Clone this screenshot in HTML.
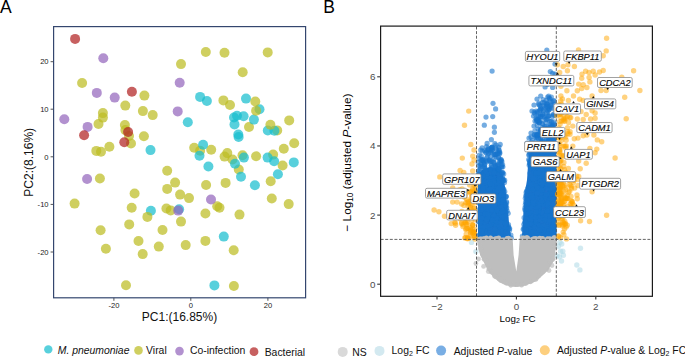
<!DOCTYPE html>
<html><head><meta charset="utf-8"><style>
html,body{margin:0;padding:0;background:#fff;}
svg{display:block;}
text{font-family:"Liberation Sans",sans-serif;}
.tk7{font-size:7.6px;fill:#222;}
.tk9{font-size:9.8px;fill:#4d4d4d;}
.lbl{font-size:9.3px;font-style:italic;fill:#000;stroke:#000;stroke-width:0.12px;}
.lg{font-size:10.4px;fill:#111;}
.pl{font-size:17.5px;fill:#000;}
.at{font-size:12px;fill:#111;}
.at2{font-size:11.8px;fill:#000;}
.at3{font-size:9.8px;fill:#000;}
</style></head><body>
<svg width="685" height="357" viewBox="0 0 685 357">
<rect width="685" height="357" fill="#fff"/>

<text x="0" y="12.6" class="pl">A</text>
<text x="323.2" y="12.8" class="pl">B</text>
<text x="179.5" y="320.6" text-anchor="middle" class="at">PC1:(16.85%)</text>
<text transform="translate(33.1,162.3) rotate(-90)" text-anchor="middle" class="at">PC2:(8.16%)</text>
<text x="517.6" y="321.5" text-anchor="middle" class="at3">Log<tspan font-size="7" dy="1.8">2</tspan><tspan dy="-1.8"> FC</tspan></text>
<text transform="translate(350.8,162.6) rotate(-90)" text-anchor="middle" class="at2">− Log<tspan font-size="8.2" dy="2">10</tspan><tspan dy="-2"> (adjusted </tspan><tspan font-style="italic">P</tspan>-value)</text>

<line x1="50.6" y1="61.7" x2="53.6" y2="61.7" stroke="#555" stroke-width="1"/><text x="48.6" y="64.4" text-anchor="end" class="tk7">20</text><line x1="50.6" y1="109.2" x2="53.6" y2="109.2" stroke="#555" stroke-width="1"/><text x="48.6" y="111.9" text-anchor="end" class="tk7">10</text><line x1="50.6" y1="156.8" x2="53.6" y2="156.8" stroke="#555" stroke-width="1"/><text x="48.6" y="159.5" text-anchor="end" class="tk7">0</text><line x1="50.6" y1="204.4" x2="53.6" y2="204.4" stroke="#555" stroke-width="1"/><text x="48.6" y="207.1" text-anchor="end" class="tk7">-10</text><line x1="50.6" y1="252.0" x2="53.6" y2="252.0" stroke="#555" stroke-width="1"/><text x="48.6" y="254.7" text-anchor="end" class="tk7">-20</text><line x1="113.9" y1="297.8" x2="113.9" y2="300.8" stroke="#555" stroke-width="1"/><text x="113.9" y="308.4" text-anchor="middle" class="tk7">-20</text><line x1="190.8" y1="297.8" x2="190.8" y2="300.8" stroke="#555" stroke-width="1"/><text x="190.8" y="308.4" text-anchor="middle" class="tk7">0</text><line x1="267.9" y1="297.8" x2="267.9" y2="300.8" stroke="#555" stroke-width="1"/><text x="267.9" y="308.4" text-anchor="middle" class="tk7">20</text>
<circle cx="82.1" cy="83.0" r="5.0" fill="#BCBD22" fill-opacity="0.72"/><circle cx="144.4" cy="95.6" r="5.0" fill="#BCBD22" fill-opacity="0.72"/><circle cx="181.0" cy="64.1" r="5.0" fill="#BCBD22" fill-opacity="0.72"/><circle cx="205.8" cy="52.0" r="5.0" fill="#BCBD22" fill-opacity="0.72"/><circle cx="224.5" cy="52.8" r="5.0" fill="#BCBD22" fill-opacity="0.72"/><circle cx="267.7" cy="52.4" r="5.0" fill="#BCBD22" fill-opacity="0.72"/><circle cx="242.7" cy="72.3" r="5.0" fill="#BCBD22" fill-opacity="0.72"/><circle cx="125.3" cy="105.6" r="5.0" fill="#BCBD22" fill-opacity="0.72"/><circle cx="142.9" cy="111.1" r="5.0" fill="#BCBD22" fill-opacity="0.72"/><circle cx="152.7" cy="115.1" r="5.0" fill="#BCBD22" fill-opacity="0.72"/><circle cx="102.9" cy="113.1" r="5.0" fill="#BCBD22" fill-opacity="0.72"/><circle cx="102.9" cy="117.6" r="5.0" fill="#BCBD22" fill-opacity="0.72"/><circle cx="98.5" cy="124.0" r="5.0" fill="#BCBD22" fill-opacity="0.72"/><circle cx="124.9" cy="125.0" r="5.0" fill="#BCBD22" fill-opacity="0.72"/><circle cx="125.4" cy="130.1" r="5.0" fill="#BCBD22" fill-opacity="0.72"/><circle cx="129.0" cy="136.0" r="5.0" fill="#BCBD22" fill-opacity="0.72"/><circle cx="143.9" cy="136.3" r="5.0" fill="#BCBD22" fill-opacity="0.72"/><circle cx="131.0" cy="143.5" r="5.0" fill="#BCBD22" fill-opacity="0.72"/><circle cx="109.4" cy="146.8" r="5.0" fill="#BCBD22" fill-opacity="0.72"/><circle cx="96.3" cy="150.9" r="5.0" fill="#BCBD22" fill-opacity="0.72"/><circle cx="101.0" cy="151.8" r="5.0" fill="#BCBD22" fill-opacity="0.72"/><circle cx="167.2" cy="170.8" r="5.0" fill="#BCBD22" fill-opacity="0.72"/><circle cx="175.1" cy="182.6" r="5.0" fill="#BCBD22" fill-opacity="0.72"/><circle cx="167.2" cy="188.9" r="5.0" fill="#BCBD22" fill-opacity="0.72"/><circle cx="180.1" cy="194.6" r="5.0" fill="#BCBD22" fill-opacity="0.72"/><circle cx="189.0" cy="198.1" r="5.0" fill="#BCBD22" fill-opacity="0.72"/><circle cx="99.9" cy="178.5" r="5.0" fill="#BCBD22" fill-opacity="0.72"/><circle cx="134.6" cy="193.5" r="5.0" fill="#BCBD22" fill-opacity="0.72"/><circle cx="74.6" cy="203.6" r="5.0" fill="#BCBD22" fill-opacity="0.72"/><circle cx="131.7" cy="207.8" r="5.0" fill="#BCBD22" fill-opacity="0.72"/><circle cx="166.4" cy="208.5" r="5.0" fill="#BCBD22" fill-opacity="0.72"/><circle cx="170.7" cy="210.4" r="5.0" fill="#BCBD22" fill-opacity="0.72"/><circle cx="181.0" cy="221.6" r="5.0" fill="#BCBD22" fill-opacity="0.72"/><circle cx="129.2" cy="224.4" r="5.0" fill="#BCBD22" fill-opacity="0.72"/><circle cx="100.6" cy="230.2" r="5.0" fill="#BCBD22" fill-opacity="0.72"/><circle cx="162.5" cy="230.0" r="5.0" fill="#BCBD22" fill-opacity="0.72"/><circle cx="138.5" cy="241.0" r="5.0" fill="#BCBD22" fill-opacity="0.72"/><circle cx="158.8" cy="246.6" r="5.0" fill="#BCBD22" fill-opacity="0.72"/><circle cx="105.9" cy="248.8" r="5.0" fill="#BCBD22" fill-opacity="0.72"/><circle cx="142.7" cy="254.1" r="5.0" fill="#BCBD22" fill-opacity="0.72"/><circle cx="126.0" cy="285.2" r="5.0" fill="#BCBD22" fill-opacity="0.72"/><circle cx="223.4" cy="100.4" r="5.0" fill="#BCBD22" fill-opacity="0.72"/><circle cx="230.0" cy="105.0" r="5.0" fill="#BCBD22" fill-opacity="0.72"/><circle cx="249.0" cy="127.0" r="5.0" fill="#BCBD22" fill-opacity="0.72"/><circle cx="277.2" cy="130.4" r="5.0" fill="#BCBD22" fill-opacity="0.72"/><circle cx="289.2" cy="120.4" r="5.0" fill="#BCBD22" fill-opacity="0.72"/><circle cx="294.2" cy="143.2" r="5.0" fill="#BCBD22" fill-opacity="0.72"/><circle cx="283.8" cy="148.7" r="5.0" fill="#BCBD22" fill-opacity="0.72"/><circle cx="194.2" cy="147.7" r="5.0" fill="#BCBD22" fill-opacity="0.72"/><circle cx="211.2" cy="149.7" r="5.0" fill="#BCBD22" fill-opacity="0.72"/><circle cx="200.1" cy="150.7" r="5.0" fill="#BCBD22" fill-opacity="0.72"/><circle cx="227.3" cy="153.1" r="5.0" fill="#BCBD22" fill-opacity="0.72"/><circle cx="224.6" cy="156.6" r="5.0" fill="#BCBD22" fill-opacity="0.72"/><circle cx="232.5" cy="159.5" r="5.0" fill="#BCBD22" fill-opacity="0.72"/><circle cx="238.8" cy="169.5" r="5.0" fill="#BCBD22" fill-opacity="0.72"/><circle cx="242.5" cy="155.2" r="5.0" fill="#BCBD22" fill-opacity="0.72"/><circle cx="256.1" cy="156.2" r="5.0" fill="#BCBD22" fill-opacity="0.72"/><circle cx="273.1" cy="154.6" r="5.0" fill="#BCBD22" fill-opacity="0.72"/><circle cx="282.6" cy="165.5" r="5.0" fill="#BCBD22" fill-opacity="0.72"/><circle cx="270.7" cy="181.2" r="5.0" fill="#BCBD22" fill-opacity="0.72"/><circle cx="206.1" cy="185.0" r="5.0" fill="#BCBD22" fill-opacity="0.72"/><circle cx="225.6" cy="182.9" r="5.0" fill="#BCBD22" fill-opacity="0.72"/><circle cx="217.2" cy="206.2" r="5.0" fill="#BCBD22" fill-opacity="0.72"/><circle cx="219.5" cy="207.8" r="5.0" fill="#BCBD22" fill-opacity="0.72"/><circle cx="205.4" cy="213.5" r="5.0" fill="#BCBD22" fill-opacity="0.72"/><circle cx="239.5" cy="214.6" r="5.0" fill="#BCBD22" fill-opacity="0.72"/><circle cx="271.8" cy="198.5" r="5.0" fill="#BCBD22" fill-opacity="0.72"/><circle cx="288.7" cy="204.1" r="5.0" fill="#BCBD22" fill-opacity="0.72"/><circle cx="185.7" cy="245.1" r="5.0" fill="#BCBD22" fill-opacity="0.72"/><circle cx="205.4" cy="240.9" r="5.0" fill="#BCBD22" fill-opacity="0.72"/><circle cx="233.7" cy="250.3" r="5.0" fill="#BCBD22" fill-opacity="0.72"/><circle cx="233.9" cy="286.0" r="5.0" fill="#BCBD22" fill-opacity="0.72"/><circle cx="200.1" cy="96.9" r="5.0" fill="#17BECF" fill-opacity="0.72"/><circle cx="206.9" cy="101.0" r="5.0" fill="#17BECF" fill-opacity="0.72"/><circle cx="246.0" cy="98.6" r="5.0" fill="#17BECF" fill-opacity="0.72"/><circle cx="259.5" cy="109.2" r="5.0" fill="#17BECF" fill-opacity="0.72"/><circle cx="187.8" cy="122.3" r="5.0" fill="#17BECF" fill-opacity="0.72"/><circle cx="234.0" cy="117.5" r="5.0" fill="#17BECF" fill-opacity="0.72"/><circle cx="237.0" cy="115.7" r="5.0" fill="#17BECF" fill-opacity="0.72"/><circle cx="243.6" cy="116.3" r="5.0" fill="#17BECF" fill-opacity="0.72"/><circle cx="253.9" cy="119.6" r="5.0" fill="#17BECF" fill-opacity="0.72"/><circle cx="234.5" cy="124.4" r="5.0" fill="#17BECF" fill-opacity="0.72"/><circle cx="238.3" cy="134.5" r="5.0" fill="#17BECF" fill-opacity="0.72"/><circle cx="238.6" cy="137.0" r="5.0" fill="#17BECF" fill-opacity="0.72"/><circle cx="267.8" cy="130.5" r="5.0" fill="#17BECF" fill-opacity="0.72"/><circle cx="274.4" cy="130.8" r="5.0" fill="#17BECF" fill-opacity="0.72"/><circle cx="150.5" cy="150.1" r="5.0" fill="#17BECF" fill-opacity="0.72"/><circle cx="203.1" cy="144.8" r="5.0" fill="#17BECF" fill-opacity="0.72"/><circle cx="199.5" cy="155.8" r="5.0" fill="#17BECF" fill-opacity="0.72"/><circle cx="243.9" cy="157.6" r="5.0" fill="#17BECF" fill-opacity="0.72"/><circle cx="267.6" cy="157.6" r="5.0" fill="#17BECF" fill-opacity="0.72"/><circle cx="274.1" cy="161.2" r="5.0" fill="#17BECF" fill-opacity="0.72"/><circle cx="293.8" cy="162.4" r="5.0" fill="#17BECF" fill-opacity="0.72"/><circle cx="235.0" cy="163.7" r="5.0" fill="#17BECF" fill-opacity="0.72"/><circle cx="241.0" cy="176.7" r="5.0" fill="#17BECF" fill-opacity="0.72"/><circle cx="277.9" cy="174.3" r="5.0" fill="#17BECF" fill-opacity="0.72"/><circle cx="208.4" cy="166.5" r="5.0" fill="#17BECF" fill-opacity="0.72"/><circle cx="254.9" cy="185.2" r="5.0" fill="#17BECF" fill-opacity="0.72"/><circle cx="150.9" cy="210.7" r="5.0" fill="#17BECF" fill-opacity="0.72"/><circle cx="179.1" cy="209.2" r="5.0" fill="#17BECF" fill-opacity="0.72"/><circle cx="223.8" cy="236.6" r="5.0" fill="#17BECF" fill-opacity="0.72"/><circle cx="214.4" cy="285.4" r="5.0" fill="#17BECF" fill-opacity="0.72"/><circle cx="256.1" cy="110.7" r="5.0" fill="#BCBD22" fill-opacity="0.72"/><circle cx="255.3" cy="101.5" r="5.0" fill="#BCBD22" fill-opacity="0.72"/><circle cx="270.4" cy="124.8" r="5.0" fill="#BCBD22" fill-opacity="0.72"/><circle cx="147.4" cy="216.9" r="5.0" fill="#BCBD22" fill-opacity="0.72"/><circle cx="103.3" cy="58.3" r="5.0" fill="#9467BD" fill-opacity="0.72"/><circle cx="96.8" cy="92.9" r="5.0" fill="#9467BD" fill-opacity="0.72"/><circle cx="114.7" cy="97.6" r="5.0" fill="#9467BD" fill-opacity="0.72"/><circle cx="179.7" cy="82.8" r="5.0" fill="#9467BD" fill-opacity="0.72"/><circle cx="177.7" cy="111.4" r="5.0" fill="#9467BD" fill-opacity="0.72"/><circle cx="64.3" cy="119.2" r="5.0" fill="#9467BD" fill-opacity="0.72"/><circle cx="87.6" cy="126.9" r="5.0" fill="#9467BD" fill-opacity="0.72"/><circle cx="87.1" cy="179.0" r="5.0" fill="#9467BD" fill-opacity="0.72"/><circle cx="211.0" cy="199.5" r="5.0" fill="#9467BD" fill-opacity="0.72"/><circle cx="178.2" cy="210.6" r="5.0" fill="#9467BD" fill-opacity="0.72"/><circle cx="75.1" cy="38.9" r="5.0" fill="#B22222" fill-opacity="0.72"/><circle cx="131.9" cy="91.8" r="5.0" fill="#B22222" fill-opacity="0.72"/><circle cx="84.1" cy="135.3" r="5.0" fill="#B22222" fill-opacity="0.72"/><circle cx="128.1" cy="132.0" r="5.0" fill="#B22222" fill-opacity="0.72"/><circle cx="124.3" cy="142.3" r="5.0" fill="#B22222" fill-opacity="0.72"/>

<rect x="53.6" y="26.6" width="252" height="271.2" fill="none" stroke="#34466e" stroke-width="1.2"/>

<circle cx="471.5" cy="242.4" r="2.7" fill="#ADD8E6" fill-opacity="0.55"/><circle cx="475.9" cy="251.6" r="2.7" fill="#ADD8E6" fill-opacity="0.55"/><circle cx="560.0" cy="242.3" r="2.7" fill="#ADD8E6" fill-opacity="0.55"/><circle cx="561.7" cy="244.0" r="2.7" fill="#ADD8E6" fill-opacity="0.55"/><circle cx="558.4" cy="246.2" r="2.7" fill="#ADD8E6" fill-opacity="0.55"/><circle cx="560.6" cy="251.2" r="2.7" fill="#ADD8E6" fill-opacity="0.55"/><circle cx="562.8" cy="251.2" r="2.7" fill="#ADD8E6" fill-opacity="0.55"/><circle cx="563.4" cy="255.2" r="2.7" fill="#ADD8E6" fill-opacity="0.55"/><circle cx="559.5" cy="256.8" r="2.7" fill="#ADD8E6" fill-opacity="0.55"/><circle cx="561.5" cy="261.0" r="2.7" fill="#ADD8E6" fill-opacity="0.55"/><circle cx="580.5" cy="248.2" r="2.7" fill="#ADD8E6" fill-opacity="0.55"/><circle cx="576.8" cy="265.0" r="2.7" fill="#ADD8E6" fill-opacity="0.55"/><circle cx="579.9" cy="269.9" r="2.7" fill="#ADD8E6" fill-opacity="0.55"/><circle cx="556.8" cy="255.8" r="2.7" fill="#ADD8E6" fill-opacity="0.55"/><path d="M478,239.4 L478,176 L482,170 L490,167 L498,168 L502,172 L504,180 L505.5,190 L507,205 L509,222 L511,239.4 Z" fill="#1c73cc"/><path d="M521.8,239.4 L523,220 L524,205 L524.5,195 L527,180 L528,165 L529,155 L533,150 L538,146 L545,141 L550,135 L556.3,130 L556.3,239.4 Z" fill="#1c73cc"/><circle cx="493.3" cy="196.2" r="2.6" fill="#1874CD" fill-opacity="0.55"/><circle cx="493.7" cy="191.3" r="2.6" fill="#1874CD" fill-opacity="0.55"/><circle cx="484.3" cy="191.6" r="2.6" fill="#1874CD" fill-opacity="0.55"/><circle cx="510.9" cy="235.1" r="2.6" fill="#1874CD" fill-opacity="0.55"/><circle cx="498.7" cy="157.6" r="2.6" fill="#1874CD" fill-opacity="0.55"/><circle cx="495.8" cy="148.2" r="2.6" fill="#1874CD" fill-opacity="0.55"/><circle cx="493.6" cy="184.8" r="2.6" fill="#1874CD" fill-opacity="0.55"/><circle cx="495.5" cy="204.0" r="2.6" fill="#1874CD" fill-opacity="0.55"/><circle cx="500.3" cy="186.4" r="2.6" fill="#1874CD" fill-opacity="0.55"/><circle cx="511.4" cy="238.1" r="2.6" fill="#1874CD" fill-opacity="0.55"/><circle cx="501.8" cy="172.8" r="2.6" fill="#1874CD" fill-opacity="0.55"/><circle cx="491.5" cy="223.8" r="2.6" fill="#1874CD" fill-opacity="0.55"/><circle cx="478.2" cy="162.6" r="2.6" fill="#1874CD" fill-opacity="0.55"/><circle cx="493.9" cy="236.6" r="2.6" fill="#1874CD" fill-opacity="0.55"/><circle cx="480.6" cy="202.9" r="2.6" fill="#1874CD" fill-opacity="0.55"/><circle cx="487.2" cy="150.9" r="2.6" fill="#1874CD" fill-opacity="0.55"/><circle cx="482.1" cy="166.2" r="2.6" fill="#1874CD" fill-opacity="0.55"/><circle cx="480.2" cy="219.0" r="2.6" fill="#1874CD" fill-opacity="0.55"/><circle cx="496.8" cy="185.5" r="2.6" fill="#1874CD" fill-opacity="0.55"/><circle cx="499.6" cy="153.7" r="2.6" fill="#1874CD" fill-opacity="0.55"/><circle cx="485.3" cy="168.4" r="2.6" fill="#1874CD" fill-opacity="0.55"/><circle cx="491.3" cy="224.5" r="2.6" fill="#1874CD" fill-opacity="0.55"/><circle cx="481.5" cy="237.5" r="2.6" fill="#1874CD" fill-opacity="0.55"/><circle cx="486.8" cy="216.7" r="2.6" fill="#1874CD" fill-opacity="0.55"/><circle cx="488.1" cy="149.5" r="2.6" fill="#1874CD" fill-opacity="0.55"/><circle cx="497.6" cy="165.8" r="2.6" fill="#1874CD" fill-opacity="0.55"/><circle cx="490.6" cy="186.0" r="2.6" fill="#1874CD" fill-opacity="0.55"/><circle cx="494.3" cy="197.7" r="2.6" fill="#1874CD" fill-opacity="0.55"/><circle cx="484.5" cy="213.5" r="2.6" fill="#1874CD" fill-opacity="0.55"/><circle cx="484.7" cy="233.7" r="2.6" fill="#1874CD" fill-opacity="0.55"/><circle cx="498.3" cy="183.0" r="2.6" fill="#1874CD" fill-opacity="0.55"/><circle cx="479.5" cy="234.9" r="2.6" fill="#1874CD" fill-opacity="0.55"/><circle cx="501.7" cy="167.2" r="2.6" fill="#1874CD" fill-opacity="0.55"/><circle cx="498.1" cy="170.7" r="2.6" fill="#1874CD" fill-opacity="0.55"/><circle cx="485.8" cy="196.2" r="2.6" fill="#1874CD" fill-opacity="0.55"/><circle cx="498.7" cy="169.4" r="2.6" fill="#1874CD" fill-opacity="0.55"/><circle cx="487.2" cy="185.3" r="2.6" fill="#1874CD" fill-opacity="0.55"/><circle cx="484.1" cy="177.9" r="2.6" fill="#1874CD" fill-opacity="0.55"/><circle cx="482.6" cy="177.3" r="2.6" fill="#1874CD" fill-opacity="0.55"/><circle cx="501.2" cy="198.6" r="2.6" fill="#1874CD" fill-opacity="0.55"/><circle cx="499.4" cy="188.8" r="2.6" fill="#1874CD" fill-opacity="0.55"/><circle cx="480.7" cy="194.9" r="2.6" fill="#1874CD" fill-opacity="0.55"/><circle cx="508.2" cy="213.3" r="2.6" fill="#1874CD" fill-opacity="0.55"/><circle cx="504.6" cy="230.3" r="2.6" fill="#1874CD" fill-opacity="0.55"/><circle cx="501.0" cy="229.0" r="2.6" fill="#1874CD" fill-opacity="0.55"/><circle cx="492.1" cy="218.4" r="2.6" fill="#1874CD" fill-opacity="0.55"/><circle cx="497.3" cy="202.5" r="2.6" fill="#1874CD" fill-opacity="0.55"/><circle cx="497.6" cy="201.0" r="2.6" fill="#1874CD" fill-opacity="0.55"/><circle cx="499.5" cy="237.9" r="2.6" fill="#1874CD" fill-opacity="0.55"/><circle cx="502.4" cy="179.8" r="2.6" fill="#1874CD" fill-opacity="0.55"/><circle cx="497.5" cy="184.8" r="2.6" fill="#1874CD" fill-opacity="0.55"/><circle cx="481.0" cy="214.5" r="2.6" fill="#1874CD" fill-opacity="0.55"/><circle cx="498.2" cy="188.7" r="2.6" fill="#1874CD" fill-opacity="0.55"/><circle cx="501.5" cy="190.2" r="2.6" fill="#1874CD" fill-opacity="0.55"/><circle cx="478.6" cy="171.4" r="2.6" fill="#1874CD" fill-opacity="0.55"/><circle cx="500.2" cy="184.9" r="2.6" fill="#1874CD" fill-opacity="0.55"/><circle cx="489.1" cy="206.4" r="2.6" fill="#1874CD" fill-opacity="0.55"/><circle cx="492.5" cy="219.9" r="2.6" fill="#1874CD" fill-opacity="0.55"/><circle cx="497.6" cy="172.9" r="2.6" fill="#1874CD" fill-opacity="0.55"/><circle cx="494.7" cy="222.9" r="2.6" fill="#1874CD" fill-opacity="0.55"/><circle cx="501.9" cy="233.7" r="2.6" fill="#1874CD" fill-opacity="0.55"/><circle cx="483.8" cy="185.8" r="2.6" fill="#1874CD" fill-opacity="0.55"/><circle cx="485.3" cy="182.2" r="2.6" fill="#1874CD" fill-opacity="0.55"/><circle cx="494.6" cy="172.8" r="2.6" fill="#1874CD" fill-opacity="0.55"/><circle cx="501.8" cy="197.3" r="2.6" fill="#1874CD" fill-opacity="0.55"/><circle cx="482.7" cy="186.2" r="2.6" fill="#1874CD" fill-opacity="0.55"/><circle cx="499.2" cy="185.4" r="2.6" fill="#1874CD" fill-opacity="0.55"/><circle cx="500.0" cy="220.0" r="2.6" fill="#1874CD" fill-opacity="0.55"/><circle cx="501.0" cy="161.6" r="2.6" fill="#1874CD" fill-opacity="0.55"/><circle cx="493.9" cy="211.1" r="2.6" fill="#1874CD" fill-opacity="0.55"/><circle cx="487.3" cy="175.7" r="2.6" fill="#1874CD" fill-opacity="0.55"/><circle cx="495.5" cy="201.5" r="2.6" fill="#1874CD" fill-opacity="0.55"/><circle cx="491.3" cy="218.5" r="2.6" fill="#1874CD" fill-opacity="0.55"/><circle cx="481.1" cy="232.0" r="2.6" fill="#1874CD" fill-opacity="0.55"/><circle cx="482.5" cy="186.0" r="2.6" fill="#1874CD" fill-opacity="0.55"/><circle cx="497.1" cy="226.9" r="2.6" fill="#1874CD" fill-opacity="0.55"/><circle cx="499.9" cy="162.2" r="2.6" fill="#1874CD" fill-opacity="0.55"/><circle cx="505.5" cy="204.1" r="2.6" fill="#1874CD" fill-opacity="0.55"/><circle cx="485.3" cy="228.9" r="2.6" fill="#1874CD" fill-opacity="0.55"/><circle cx="508.5" cy="224.7" r="2.6" fill="#1874CD" fill-opacity="0.55"/><circle cx="481.0" cy="184.8" r="2.6" fill="#1874CD" fill-opacity="0.55"/><circle cx="503.8" cy="189.3" r="2.6" fill="#1874CD" fill-opacity="0.55"/><circle cx="489.4" cy="218.1" r="2.6" fill="#1874CD" fill-opacity="0.55"/><circle cx="483.2" cy="192.1" r="2.6" fill="#1874CD" fill-opacity="0.55"/><circle cx="506.2" cy="208.7" r="2.6" fill="#1874CD" fill-opacity="0.55"/><circle cx="494.6" cy="233.6" r="2.6" fill="#1874CD" fill-opacity="0.55"/><circle cx="485.6" cy="193.1" r="2.6" fill="#1874CD" fill-opacity="0.55"/><circle cx="502.5" cy="203.8" r="2.6" fill="#1874CD" fill-opacity="0.55"/><circle cx="506.3" cy="196.3" r="2.6" fill="#1874CD" fill-opacity="0.55"/><circle cx="490.9" cy="223.6" r="2.6" fill="#1874CD" fill-opacity="0.55"/><circle cx="485.1" cy="224.2" r="2.6" fill="#1874CD" fill-opacity="0.55"/><circle cx="495.7" cy="197.5" r="2.6" fill="#1874CD" fill-opacity="0.55"/><circle cx="496.0" cy="190.8" r="2.6" fill="#1874CD" fill-opacity="0.55"/><circle cx="479.1" cy="235.6" r="2.6" fill="#1874CD" fill-opacity="0.55"/><circle cx="491.5" cy="219.4" r="2.6" fill="#1874CD" fill-opacity="0.55"/><circle cx="494.6" cy="208.8" r="2.6" fill="#1874CD" fill-opacity="0.55"/><circle cx="496.1" cy="182.2" r="2.6" fill="#1874CD" fill-opacity="0.55"/><circle cx="494.0" cy="154.7" r="2.6" fill="#1874CD" fill-opacity="0.55"/><circle cx="505.4" cy="229.0" r="2.6" fill="#1874CD" fill-opacity="0.55"/><circle cx="488.8" cy="160.9" r="2.6" fill="#1874CD" fill-opacity="0.55"/><circle cx="484.7" cy="164.3" r="2.6" fill="#1874CD" fill-opacity="0.55"/><circle cx="488.9" cy="176.6" r="2.6" fill="#1874CD" fill-opacity="0.55"/><circle cx="481.7" cy="212.7" r="2.6" fill="#1874CD" fill-opacity="0.55"/><circle cx="495.2" cy="166.6" r="2.6" fill="#1874CD" fill-opacity="0.55"/><circle cx="495.9" cy="184.4" r="2.6" fill="#1874CD" fill-opacity="0.55"/><circle cx="492.0" cy="193.3" r="2.6" fill="#1874CD" fill-opacity="0.55"/><circle cx="485.0" cy="203.1" r="2.6" fill="#1874CD" fill-opacity="0.55"/><circle cx="495.8" cy="224.2" r="2.6" fill="#1874CD" fill-opacity="0.55"/><circle cx="502.9" cy="220.3" r="2.6" fill="#1874CD" fill-opacity="0.55"/><circle cx="488.7" cy="172.7" r="2.6" fill="#1874CD" fill-opacity="0.55"/><circle cx="486.2" cy="212.3" r="2.6" fill="#1874CD" fill-opacity="0.55"/><circle cx="481.4" cy="222.4" r="2.6" fill="#1874CD" fill-opacity="0.55"/><circle cx="491.6" cy="208.3" r="2.6" fill="#1874CD" fill-opacity="0.55"/><circle cx="484.9" cy="208.0" r="2.6" fill="#1874CD" fill-opacity="0.55"/><circle cx="495.0" cy="215.3" r="2.6" fill="#1874CD" fill-opacity="0.55"/><circle cx="501.0" cy="160.6" r="2.6" fill="#1874CD" fill-opacity="0.55"/><circle cx="496.6" cy="191.9" r="2.6" fill="#1874CD" fill-opacity="0.55"/><circle cx="483.1" cy="160.2" r="2.6" fill="#1874CD" fill-opacity="0.55"/><circle cx="506.2" cy="237.6" r="2.6" fill="#1874CD" fill-opacity="0.55"/><circle cx="503.7" cy="173.9" r="2.6" fill="#1874CD" fill-opacity="0.55"/><circle cx="495.4" cy="183.8" r="2.6" fill="#1874CD" fill-opacity="0.55"/><circle cx="478.6" cy="209.8" r="2.6" fill="#1874CD" fill-opacity="0.55"/><circle cx="484.2" cy="186.1" r="2.6" fill="#1874CD" fill-opacity="0.55"/><circle cx="491.7" cy="161.2" r="2.6" fill="#1874CD" fill-opacity="0.55"/><circle cx="504.9" cy="210.1" r="2.6" fill="#1874CD" fill-opacity="0.55"/><circle cx="499.2" cy="181.3" r="2.6" fill="#1874CD" fill-opacity="0.55"/><circle cx="495.0" cy="236.8" r="2.6" fill="#1874CD" fill-opacity="0.55"/><circle cx="486.8" cy="230.0" r="2.6" fill="#1874CD" fill-opacity="0.55"/><circle cx="504.1" cy="220.7" r="2.6" fill="#1874CD" fill-opacity="0.55"/><circle cx="508.1" cy="227.0" r="2.6" fill="#1874CD" fill-opacity="0.55"/><circle cx="503.8" cy="216.0" r="2.6" fill="#1874CD" fill-opacity="0.55"/><circle cx="489.6" cy="187.5" r="2.6" fill="#1874CD" fill-opacity="0.55"/><circle cx="490.0" cy="203.8" r="2.6" fill="#1874CD" fill-opacity="0.55"/><circle cx="485.9" cy="233.2" r="2.6" fill="#1874CD" fill-opacity="0.55"/><circle cx="489.4" cy="205.8" r="2.6" fill="#1874CD" fill-opacity="0.55"/><circle cx="496.0" cy="179.9" r="2.6" fill="#1874CD" fill-opacity="0.55"/><circle cx="499.6" cy="209.8" r="2.6" fill="#1874CD" fill-opacity="0.55"/><circle cx="498.7" cy="213.4" r="2.6" fill="#1874CD" fill-opacity="0.55"/><circle cx="491.6" cy="147.3" r="2.6" fill="#1874CD" fill-opacity="0.55"/><circle cx="490.7" cy="152.0" r="2.6" fill="#1874CD" fill-opacity="0.55"/><circle cx="495.1" cy="235.3" r="2.6" fill="#1874CD" fill-opacity="0.55"/><circle cx="498.1" cy="215.4" r="2.6" fill="#1874CD" fill-opacity="0.55"/><circle cx="493.9" cy="158.7" r="2.6" fill="#1874CD" fill-opacity="0.55"/><circle cx="492.2" cy="193.1" r="2.6" fill="#1874CD" fill-opacity="0.55"/><circle cx="490.4" cy="169.9" r="2.6" fill="#1874CD" fill-opacity="0.55"/><circle cx="496.9" cy="169.7" r="2.6" fill="#1874CD" fill-opacity="0.55"/><circle cx="486.4" cy="146.6" r="2.6" fill="#1874CD" fill-opacity="0.55"/><circle cx="503.3" cy="179.9" r="2.6" fill="#1874CD" fill-opacity="0.55"/><circle cx="480.6" cy="229.4" r="2.6" fill="#1874CD" fill-opacity="0.55"/><circle cx="494.1" cy="235.9" r="2.6" fill="#1874CD" fill-opacity="0.55"/><circle cx="495.6" cy="232.5" r="2.6" fill="#1874CD" fill-opacity="0.55"/><circle cx="493.8" cy="236.5" r="2.6" fill="#1874CD" fill-opacity="0.55"/><circle cx="498.3" cy="153.5" r="2.6" fill="#1874CD" fill-opacity="0.55"/><circle cx="493.4" cy="162.1" r="2.6" fill="#1874CD" fill-opacity="0.55"/><circle cx="495.8" cy="154.4" r="2.6" fill="#1874CD" fill-opacity="0.55"/><circle cx="500.4" cy="186.2" r="2.6" fill="#1874CD" fill-opacity="0.55"/><circle cx="497.6" cy="182.8" r="2.6" fill="#1874CD" fill-opacity="0.55"/><circle cx="504.3" cy="202.5" r="2.6" fill="#1874CD" fill-opacity="0.55"/><circle cx="487.2" cy="208.3" r="2.6" fill="#1874CD" fill-opacity="0.55"/><circle cx="497.9" cy="203.3" r="2.6" fill="#1874CD" fill-opacity="0.55"/><circle cx="484.5" cy="166.4" r="2.6" fill="#1874CD" fill-opacity="0.55"/><circle cx="508.7" cy="226.9" r="2.6" fill="#1874CD" fill-opacity="0.55"/><circle cx="480.2" cy="168.5" r="2.6" fill="#1874CD" fill-opacity="0.55"/><circle cx="499.0" cy="152.3" r="2.6" fill="#1874CD" fill-opacity="0.55"/><circle cx="500.7" cy="195.4" r="2.6" fill="#1874CD" fill-opacity="0.55"/><circle cx="490.6" cy="188.4" r="2.6" fill="#1874CD" fill-opacity="0.55"/><circle cx="489.6" cy="214.0" r="2.6" fill="#1874CD" fill-opacity="0.55"/><circle cx="499.0" cy="216.3" r="2.6" fill="#1874CD" fill-opacity="0.55"/><circle cx="492.3" cy="167.3" r="2.6" fill="#1874CD" fill-opacity="0.55"/><circle cx="490.5" cy="205.3" r="2.6" fill="#1874CD" fill-opacity="0.55"/><circle cx="489.0" cy="195.2" r="2.6" fill="#1874CD" fill-opacity="0.55"/><circle cx="497.0" cy="189.0" r="2.6" fill="#1874CD" fill-opacity="0.55"/><circle cx="488.2" cy="216.9" r="2.6" fill="#1874CD" fill-opacity="0.55"/><circle cx="485.3" cy="206.1" r="2.6" fill="#1874CD" fill-opacity="0.55"/><circle cx="488.3" cy="212.1" r="2.6" fill="#1874CD" fill-opacity="0.55"/><circle cx="487.6" cy="156.2" r="2.6" fill="#1874CD" fill-opacity="0.55"/><circle cx="502.4" cy="177.7" r="2.6" fill="#1874CD" fill-opacity="0.55"/><circle cx="501.8" cy="197.2" r="2.6" fill="#1874CD" fill-opacity="0.55"/><circle cx="509.5" cy="230.2" r="2.6" fill="#1874CD" fill-opacity="0.55"/><circle cx="488.8" cy="180.9" r="2.6" fill="#1874CD" fill-opacity="0.55"/><circle cx="490.2" cy="177.6" r="2.6" fill="#1874CD" fill-opacity="0.55"/><circle cx="491.4" cy="179.7" r="2.6" fill="#1874CD" fill-opacity="0.55"/><circle cx="497.0" cy="219.0" r="2.6" fill="#1874CD" fill-opacity="0.55"/><circle cx="506.1" cy="196.5" r="2.6" fill="#1874CD" fill-opacity="0.55"/><circle cx="503.5" cy="227.1" r="2.6" fill="#1874CD" fill-opacity="0.55"/><circle cx="478.9" cy="192.0" r="2.6" fill="#1874CD" fill-opacity="0.55"/><circle cx="497.1" cy="235.3" r="2.6" fill="#1874CD" fill-opacity="0.55"/><circle cx="496.4" cy="218.2" r="2.6" fill="#1874CD" fill-opacity="0.55"/><circle cx="480.9" cy="213.3" r="2.6" fill="#1874CD" fill-opacity="0.55"/><circle cx="481.0" cy="203.4" r="2.6" fill="#1874CD" fill-opacity="0.55"/><circle cx="503.0" cy="204.8" r="2.6" fill="#1874CD" fill-opacity="0.55"/><circle cx="485.5" cy="216.0" r="2.6" fill="#1874CD" fill-opacity="0.55"/><circle cx="503.7" cy="180.4" r="2.6" fill="#1874CD" fill-opacity="0.55"/><circle cx="494.6" cy="194.1" r="2.6" fill="#1874CD" fill-opacity="0.55"/><circle cx="501.8" cy="230.3" r="2.6" fill="#1874CD" fill-opacity="0.55"/><circle cx="505.7" cy="206.5" r="2.6" fill="#1874CD" fill-opacity="0.55"/><circle cx="505.0" cy="222.5" r="2.6" fill="#1874CD" fill-opacity="0.55"/><circle cx="495.6" cy="210.7" r="2.6" fill="#1874CD" fill-opacity="0.55"/><circle cx="492.2" cy="182.9" r="2.6" fill="#1874CD" fill-opacity="0.55"/><circle cx="502.9" cy="237.6" r="2.6" fill="#1874CD" fill-opacity="0.55"/><circle cx="483.8" cy="162.1" r="2.6" fill="#1874CD" fill-opacity="0.55"/><circle cx="487.9" cy="235.6" r="2.6" fill="#1874CD" fill-opacity="0.55"/><circle cx="488.5" cy="153.5" r="2.6" fill="#1874CD" fill-opacity="0.55"/><circle cx="480.3" cy="186.5" r="2.6" fill="#1874CD" fill-opacity="0.55"/><circle cx="481.8" cy="160.2" r="2.6" fill="#1874CD" fill-opacity="0.55"/><circle cx="486.0" cy="211.4" r="2.6" fill="#1874CD" fill-opacity="0.55"/><circle cx="485.7" cy="160.3" r="2.6" fill="#1874CD" fill-opacity="0.55"/><circle cx="483.9" cy="215.2" r="2.6" fill="#1874CD" fill-opacity="0.55"/><circle cx="496.5" cy="220.9" r="2.6" fill="#1874CD" fill-opacity="0.55"/><circle cx="486.9" cy="227.7" r="2.6" fill="#1874CD" fill-opacity="0.55"/><circle cx="489.6" cy="195.0" r="2.6" fill="#1874CD" fill-opacity="0.55"/><circle cx="494.3" cy="163.7" r="2.6" fill="#1874CD" fill-opacity="0.55"/><circle cx="491.0" cy="193.1" r="2.6" fill="#1874CD" fill-opacity="0.55"/><circle cx="487.3" cy="237.6" r="2.6" fill="#1874CD" fill-opacity="0.55"/><circle cx="493.9" cy="178.2" r="2.6" fill="#1874CD" fill-opacity="0.55"/><circle cx="502.0" cy="200.7" r="2.6" fill="#1874CD" fill-opacity="0.55"/><circle cx="483.4" cy="173.4" r="2.6" fill="#1874CD" fill-opacity="0.55"/><circle cx="499.4" cy="237.8" r="2.6" fill="#1874CD" fill-opacity="0.55"/><circle cx="496.0" cy="157.0" r="2.6" fill="#1874CD" fill-opacity="0.55"/><circle cx="478.2" cy="221.4" r="2.6" fill="#1874CD" fill-opacity="0.55"/><circle cx="487.2" cy="211.3" r="2.6" fill="#1874CD" fill-opacity="0.55"/><circle cx="494.2" cy="187.5" r="2.6" fill="#1874CD" fill-opacity="0.55"/><circle cx="497.7" cy="224.8" r="2.6" fill="#1874CD" fill-opacity="0.55"/><circle cx="504.5" cy="182.5" r="2.6" fill="#1874CD" fill-opacity="0.55"/><circle cx="481.2" cy="221.8" r="2.6" fill="#1874CD" fill-opacity="0.55"/><circle cx="496.3" cy="193.0" r="2.6" fill="#1874CD" fill-opacity="0.55"/><circle cx="488.5" cy="149.8" r="2.6" fill="#1874CD" fill-opacity="0.55"/><circle cx="493.8" cy="211.2" r="2.6" fill="#1874CD" fill-opacity="0.55"/><circle cx="491.3" cy="186.8" r="2.6" fill="#1874CD" fill-opacity="0.55"/><circle cx="505.8" cy="205.3" r="2.6" fill="#1874CD" fill-opacity="0.55"/><circle cx="490.8" cy="210.7" r="2.6" fill="#1874CD" fill-opacity="0.55"/><circle cx="497.0" cy="186.5" r="2.6" fill="#1874CD" fill-opacity="0.55"/><circle cx="485.1" cy="201.6" r="2.6" fill="#1874CD" fill-opacity="0.55"/><circle cx="490.7" cy="194.3" r="2.6" fill="#1874CD" fill-opacity="0.55"/><circle cx="489.4" cy="180.2" r="2.6" fill="#1874CD" fill-opacity="0.55"/><circle cx="486.7" cy="161.7" r="2.6" fill="#1874CD" fill-opacity="0.55"/><circle cx="489.2" cy="233.2" r="2.6" fill="#1874CD" fill-opacity="0.55"/><circle cx="502.3" cy="174.3" r="2.6" fill="#1874CD" fill-opacity="0.55"/><circle cx="481.3" cy="156.0" r="2.6" fill="#1874CD" fill-opacity="0.55"/><circle cx="500.8" cy="210.5" r="2.6" fill="#1874CD" fill-opacity="0.55"/><circle cx="491.6" cy="222.8" r="2.6" fill="#1874CD" fill-opacity="0.55"/><circle cx="481.2" cy="164.3" r="2.6" fill="#1874CD" fill-opacity="0.55"/><circle cx="482.3" cy="181.6" r="2.6" fill="#1874CD" fill-opacity="0.55"/><circle cx="495.2" cy="204.6" r="2.6" fill="#1874CD" fill-opacity="0.55"/><circle cx="489.2" cy="182.1" r="2.6" fill="#1874CD" fill-opacity="0.55"/><circle cx="491.5" cy="209.7" r="2.6" fill="#1874CD" fill-opacity="0.55"/><circle cx="504.5" cy="205.9" r="2.6" fill="#1874CD" fill-opacity="0.55"/><circle cx="478.8" cy="174.3" r="2.6" fill="#1874CD" fill-opacity="0.55"/><circle cx="499.9" cy="152.7" r="2.6" fill="#1874CD" fill-opacity="0.55"/><circle cx="495.2" cy="218.2" r="2.6" fill="#1874CD" fill-opacity="0.55"/><circle cx="498.6" cy="157.7" r="2.6" fill="#1874CD" fill-opacity="0.55"/><circle cx="489.9" cy="190.5" r="2.6" fill="#1874CD" fill-opacity="0.55"/><circle cx="502.0" cy="237.2" r="2.6" fill="#1874CD" fill-opacity="0.55"/><circle cx="502.0" cy="222.7" r="2.6" fill="#1874CD" fill-opacity="0.55"/><circle cx="484.8" cy="150.5" r="2.6" fill="#1874CD" fill-opacity="0.55"/><circle cx="497.4" cy="209.4" r="2.6" fill="#1874CD" fill-opacity="0.55"/><circle cx="482.7" cy="229.3" r="2.6" fill="#1874CD" fill-opacity="0.55"/><circle cx="496.9" cy="196.3" r="2.6" fill="#1874CD" fill-opacity="0.55"/><circle cx="508.5" cy="237.7" r="2.6" fill="#1874CD" fill-opacity="0.55"/><circle cx="487.8" cy="228.6" r="2.6" fill="#1874CD" fill-opacity="0.55"/><circle cx="497.3" cy="222.3" r="2.6" fill="#1874CD" fill-opacity="0.55"/><circle cx="496.4" cy="149.8" r="2.6" fill="#1874CD" fill-opacity="0.55"/><circle cx="484.2" cy="237.3" r="2.6" fill="#1874CD" fill-opacity="0.55"/><circle cx="500.1" cy="172.0" r="2.6" fill="#1874CD" fill-opacity="0.55"/><circle cx="502.8" cy="179.1" r="2.6" fill="#1874CD" fill-opacity="0.55"/><circle cx="484.8" cy="187.4" r="2.6" fill="#1874CD" fill-opacity="0.55"/><circle cx="491.1" cy="197.2" r="2.6" fill="#1874CD" fill-opacity="0.55"/><circle cx="495.5" cy="167.8" r="2.6" fill="#1874CD" fill-opacity="0.55"/><circle cx="489.3" cy="204.1" r="2.6" fill="#1874CD" fill-opacity="0.55"/><circle cx="498.2" cy="187.6" r="2.6" fill="#1874CD" fill-opacity="0.55"/><circle cx="499.0" cy="208.7" r="2.6" fill="#1874CD" fill-opacity="0.55"/><circle cx="503.2" cy="189.1" r="2.6" fill="#1874CD" fill-opacity="0.55"/><circle cx="506.1" cy="224.6" r="2.6" fill="#1874CD" fill-opacity="0.55"/><circle cx="492.7" cy="196.8" r="2.6" fill="#1874CD" fill-opacity="0.55"/><circle cx="495.7" cy="192.9" r="2.6" fill="#1874CD" fill-opacity="0.55"/><circle cx="480.0" cy="212.2" r="2.6" fill="#1874CD" fill-opacity="0.55"/><circle cx="502.6" cy="199.9" r="2.6" fill="#1874CD" fill-opacity="0.55"/><circle cx="488.3" cy="199.5" r="2.6" fill="#1874CD" fill-opacity="0.55"/><circle cx="482.3" cy="185.4" r="2.6" fill="#1874CD" fill-opacity="0.55"/><circle cx="495.7" cy="165.5" r="2.6" fill="#1874CD" fill-opacity="0.55"/><circle cx="491.4" cy="165.1" r="2.6" fill="#1874CD" fill-opacity="0.55"/><circle cx="508.5" cy="235.3" r="2.6" fill="#1874CD" fill-opacity="0.55"/><circle cx="503.1" cy="196.9" r="2.6" fill="#1874CD" fill-opacity="0.55"/><circle cx="481.5" cy="218.6" r="2.6" fill="#1874CD" fill-opacity="0.55"/><circle cx="496.1" cy="233.8" r="2.6" fill="#1874CD" fill-opacity="0.55"/><circle cx="486.3" cy="171.2" r="2.6" fill="#1874CD" fill-opacity="0.55"/><circle cx="480.3" cy="228.4" r="2.6" fill="#1874CD" fill-opacity="0.55"/><circle cx="491.4" cy="176.7" r="2.6" fill="#1874CD" fill-opacity="0.55"/><circle cx="494.8" cy="232.2" r="2.6" fill="#1874CD" fill-opacity="0.55"/><circle cx="493.9" cy="162.3" r="2.6" fill="#1874CD" fill-opacity="0.55"/><circle cx="508.9" cy="228.6" r="2.6" fill="#1874CD" fill-opacity="0.55"/><circle cx="499.3" cy="160.9" r="2.6" fill="#1874CD" fill-opacity="0.55"/><circle cx="502.4" cy="172.5" r="2.6" fill="#1874CD" fill-opacity="0.55"/><circle cx="507.2" cy="211.0" r="2.6" fill="#1874CD" fill-opacity="0.55"/><circle cx="501.4" cy="232.5" r="2.6" fill="#1874CD" fill-opacity="0.55"/><circle cx="480.8" cy="163.9" r="2.6" fill="#1874CD" fill-opacity="0.55"/><circle cx="501.9" cy="161.4" r="2.6" fill="#1874CD" fill-opacity="0.55"/><circle cx="486.0" cy="206.3" r="2.6" fill="#1874CD" fill-opacity="0.55"/><circle cx="490.6" cy="206.1" r="2.6" fill="#1874CD" fill-opacity="0.55"/><circle cx="497.8" cy="164.5" r="2.6" fill="#1874CD" fill-opacity="0.55"/><circle cx="487.4" cy="203.9" r="2.6" fill="#1874CD" fill-opacity="0.55"/><circle cx="495.8" cy="193.5" r="2.6" fill="#1874CD" fill-opacity="0.55"/><circle cx="498.2" cy="169.8" r="2.6" fill="#1874CD" fill-opacity="0.55"/><circle cx="487.7" cy="215.0" r="2.6" fill="#1874CD" fill-opacity="0.55"/><circle cx="487.5" cy="195.1" r="2.6" fill="#1874CD" fill-opacity="0.55"/><circle cx="508.1" cy="237.3" r="2.6" fill="#1874CD" fill-opacity="0.55"/><circle cx="493.6" cy="214.6" r="2.6" fill="#1874CD" fill-opacity="0.55"/><circle cx="484.2" cy="195.9" r="2.6" fill="#1874CD" fill-opacity="0.55"/><circle cx="490.2" cy="205.7" r="2.6" fill="#1874CD" fill-opacity="0.55"/><circle cx="495.4" cy="191.0" r="2.6" fill="#1874CD" fill-opacity="0.55"/><circle cx="501.0" cy="192.5" r="2.6" fill="#1874CD" fill-opacity="0.55"/><circle cx="484.0" cy="217.3" r="2.6" fill="#1874CD" fill-opacity="0.55"/><circle cx="498.4" cy="165.1" r="2.6" fill="#1874CD" fill-opacity="0.55"/><circle cx="503.9" cy="218.0" r="2.6" fill="#1874CD" fill-opacity="0.55"/><circle cx="486.1" cy="189.5" r="2.6" fill="#1874CD" fill-opacity="0.55"/><circle cx="497.5" cy="190.4" r="2.6" fill="#1874CD" fill-opacity="0.55"/><circle cx="498.1" cy="211.1" r="2.6" fill="#1874CD" fill-opacity="0.55"/><circle cx="494.7" cy="184.2" r="2.6" fill="#1874CD" fill-opacity="0.55"/><circle cx="487.0" cy="219.2" r="2.6" fill="#1874CD" fill-opacity="0.55"/><circle cx="496.3" cy="218.5" r="2.6" fill="#1874CD" fill-opacity="0.55"/><circle cx="483.1" cy="172.4" r="2.6" fill="#1874CD" fill-opacity="0.55"/><circle cx="488.7" cy="202.1" r="2.6" fill="#1874CD" fill-opacity="0.55"/><circle cx="487.0" cy="199.0" r="2.6" fill="#1874CD" fill-opacity="0.55"/><circle cx="486.7" cy="157.8" r="2.6" fill="#1874CD" fill-opacity="0.55"/><circle cx="505.9" cy="218.0" r="2.6" fill="#1874CD" fill-opacity="0.55"/><circle cx="491.9" cy="177.5" r="2.6" fill="#1874CD" fill-opacity="0.55"/><circle cx="494.5" cy="215.6" r="2.6" fill="#1874CD" fill-opacity="0.55"/><circle cx="483.0" cy="186.2" r="2.6" fill="#1874CD" fill-opacity="0.55"/><circle cx="479.5" cy="165.6" r="2.6" fill="#1874CD" fill-opacity="0.55"/><circle cx="482.9" cy="180.2" r="2.6" fill="#1874CD" fill-opacity="0.55"/><circle cx="492.3" cy="149.8" r="2.6" fill="#1874CD" fill-opacity="0.55"/><circle cx="502.6" cy="164.6" r="2.6" fill="#1874CD" fill-opacity="0.55"/><circle cx="496.6" cy="165.7" r="2.6" fill="#1874CD" fill-opacity="0.55"/><circle cx="489.4" cy="236.7" r="2.6" fill="#1874CD" fill-opacity="0.55"/><circle cx="479.5" cy="181.2" r="2.6" fill="#1874CD" fill-opacity="0.55"/><circle cx="480.1" cy="175.4" r="2.6" fill="#1874CD" fill-opacity="0.55"/><circle cx="491.3" cy="223.4" r="2.6" fill="#1874CD" fill-opacity="0.55"/><circle cx="489.8" cy="160.1" r="2.6" fill="#1874CD" fill-opacity="0.55"/><circle cx="483.7" cy="162.0" r="2.6" fill="#1874CD" fill-opacity="0.55"/><circle cx="493.8" cy="172.1" r="2.6" fill="#1874CD" fill-opacity="0.55"/><circle cx="490.3" cy="168.9" r="2.6" fill="#1874CD" fill-opacity="0.55"/><circle cx="484.3" cy="167.7" r="2.6" fill="#1874CD" fill-opacity="0.55"/><circle cx="487.1" cy="177.2" r="2.6" fill="#1874CD" fill-opacity="0.55"/><circle cx="503.7" cy="212.0" r="2.6" fill="#1874CD" fill-opacity="0.55"/><circle cx="478.9" cy="173.4" r="2.6" fill="#1874CD" fill-opacity="0.55"/><circle cx="481.0" cy="227.2" r="2.6" fill="#1874CD" fill-opacity="0.55"/><circle cx="503.9" cy="192.4" r="2.6" fill="#1874CD" fill-opacity="0.55"/><circle cx="491.3" cy="165.4" r="2.6" fill="#1874CD" fill-opacity="0.55"/><circle cx="483.2" cy="199.7" r="2.6" fill="#1874CD" fill-opacity="0.55"/><circle cx="488.6" cy="183.2" r="2.6" fill="#1874CD" fill-opacity="0.55"/><circle cx="482.7" cy="210.3" r="2.6" fill="#1874CD" fill-opacity="0.55"/><circle cx="502.4" cy="206.5" r="2.6" fill="#1874CD" fill-opacity="0.55"/><circle cx="485.0" cy="169.4" r="2.6" fill="#1874CD" fill-opacity="0.55"/><circle cx="491.7" cy="179.6" r="2.6" fill="#1874CD" fill-opacity="0.55"/><circle cx="485.7" cy="170.5" r="2.6" fill="#1874CD" fill-opacity="0.55"/><circle cx="479.0" cy="203.0" r="2.6" fill="#1874CD" fill-opacity="0.55"/><circle cx="505.1" cy="236.2" r="2.6" fill="#1874CD" fill-opacity="0.55"/><circle cx="500.5" cy="230.7" r="2.6" fill="#1874CD" fill-opacity="0.55"/><circle cx="501.2" cy="206.5" r="2.6" fill="#1874CD" fill-opacity="0.55"/><circle cx="499.3" cy="151.1" r="2.6" fill="#1874CD" fill-opacity="0.55"/><circle cx="491.3" cy="148.3" r="2.6" fill="#1874CD" fill-opacity="0.55"/><circle cx="489.1" cy="190.2" r="2.6" fill="#1874CD" fill-opacity="0.55"/><circle cx="483.5" cy="181.1" r="2.6" fill="#1874CD" fill-opacity="0.55"/><circle cx="483.8" cy="206.4" r="2.6" fill="#1874CD" fill-opacity="0.55"/><circle cx="481.3" cy="175.3" r="2.6" fill="#1874CD" fill-opacity="0.55"/><circle cx="483.2" cy="198.4" r="2.6" fill="#1874CD" fill-opacity="0.55"/><circle cx="496.6" cy="209.7" r="2.6" fill="#1874CD" fill-opacity="0.55"/><circle cx="491.2" cy="177.5" r="2.6" fill="#1874CD" fill-opacity="0.55"/><circle cx="491.7" cy="147.7" r="2.6" fill="#1874CD" fill-opacity="0.55"/><circle cx="497.7" cy="187.5" r="2.6" fill="#1874CD" fill-opacity="0.55"/><circle cx="489.8" cy="228.1" r="2.6" fill="#1874CD" fill-opacity="0.55"/><circle cx="486.9" cy="206.6" r="2.6" fill="#1874CD" fill-opacity="0.55"/><circle cx="493.8" cy="201.6" r="2.6" fill="#1874CD" fill-opacity="0.55"/><circle cx="490.3" cy="197.8" r="2.6" fill="#1874CD" fill-opacity="0.55"/><circle cx="503.9" cy="202.7" r="2.6" fill="#1874CD" fill-opacity="0.55"/><circle cx="491.9" cy="182.4" r="2.6" fill="#1874CD" fill-opacity="0.55"/><circle cx="505.8" cy="227.0" r="2.6" fill="#1874CD" fill-opacity="0.55"/><circle cx="482.7" cy="191.2" r="2.6" fill="#1874CD" fill-opacity="0.55"/><circle cx="490.2" cy="236.3" r="2.6" fill="#1874CD" fill-opacity="0.55"/><circle cx="484.6" cy="164.4" r="2.6" fill="#1874CD" fill-opacity="0.55"/><circle cx="496.3" cy="180.3" r="2.6" fill="#1874CD" fill-opacity="0.55"/><circle cx="494.6" cy="204.9" r="2.6" fill="#1874CD" fill-opacity="0.55"/><circle cx="499.0" cy="196.3" r="2.6" fill="#1874CD" fill-opacity="0.55"/><circle cx="489.7" cy="227.6" r="2.6" fill="#1874CD" fill-opacity="0.55"/><circle cx="502.0" cy="209.3" r="2.6" fill="#1874CD" fill-opacity="0.55"/><circle cx="483.5" cy="202.2" r="2.6" fill="#1874CD" fill-opacity="0.55"/><circle cx="497.0" cy="178.0" r="2.6" fill="#1874CD" fill-opacity="0.55"/><circle cx="503.1" cy="193.8" r="2.6" fill="#1874CD" fill-opacity="0.55"/><circle cx="486.5" cy="173.7" r="2.6" fill="#1874CD" fill-opacity="0.55"/><circle cx="495.3" cy="154.6" r="2.6" fill="#1874CD" fill-opacity="0.55"/><circle cx="493.2" cy="216.6" r="2.6" fill="#1874CD" fill-opacity="0.55"/><circle cx="483.6" cy="225.7" r="2.6" fill="#1874CD" fill-opacity="0.55"/><circle cx="480.0" cy="166.9" r="2.6" fill="#1874CD" fill-opacity="0.55"/><circle cx="504.7" cy="180.2" r="2.6" fill="#1874CD" fill-opacity="0.55"/><circle cx="486.6" cy="211.2" r="2.6" fill="#1874CD" fill-opacity="0.55"/><circle cx="489.3" cy="215.4" r="2.6" fill="#1874CD" fill-opacity="0.55"/><circle cx="505.8" cy="197.0" r="2.6" fill="#1874CD" fill-opacity="0.55"/><circle cx="501.7" cy="202.3" r="2.6" fill="#1874CD" fill-opacity="0.55"/><circle cx="490.8" cy="206.8" r="2.6" fill="#1874CD" fill-opacity="0.55"/><circle cx="497.7" cy="232.8" r="2.6" fill="#1874CD" fill-opacity="0.55"/><circle cx="482.7" cy="208.5" r="2.6" fill="#1874CD" fill-opacity="0.55"/><circle cx="499.2" cy="180.6" r="2.6" fill="#1874CD" fill-opacity="0.55"/><circle cx="479.6" cy="170.0" r="2.6" fill="#1874CD" fill-opacity="0.55"/><circle cx="494.3" cy="178.3" r="2.6" fill="#1874CD" fill-opacity="0.55"/><circle cx="504.9" cy="223.0" r="2.6" fill="#1874CD" fill-opacity="0.55"/><circle cx="491.2" cy="201.8" r="2.6" fill="#1874CD" fill-opacity="0.55"/><circle cx="501.3" cy="194.9" r="2.6" fill="#1874CD" fill-opacity="0.55"/><circle cx="483.1" cy="159.3" r="2.6" fill="#1874CD" fill-opacity="0.55"/><circle cx="494.5" cy="154.1" r="2.6" fill="#1874CD" fill-opacity="0.55"/><circle cx="478.8" cy="196.8" r="2.6" fill="#1874CD" fill-opacity="0.55"/><circle cx="499.0" cy="168.8" r="2.6" fill="#1874CD" fill-opacity="0.55"/><circle cx="494.3" cy="177.6" r="2.6" fill="#1874CD" fill-opacity="0.55"/><circle cx="480.8" cy="160.0" r="2.6" fill="#1874CD" fill-opacity="0.55"/><circle cx="492.0" cy="220.0" r="2.6" fill="#1874CD" fill-opacity="0.55"/><circle cx="480.1" cy="195.4" r="2.6" fill="#1874CD" fill-opacity="0.55"/><circle cx="498.9" cy="169.1" r="2.6" fill="#1874CD" fill-opacity="0.55"/><circle cx="507.0" cy="238.0" r="2.6" fill="#1874CD" fill-opacity="0.55"/><circle cx="506.0" cy="212.1" r="2.6" fill="#1874CD" fill-opacity="0.55"/><circle cx="479.1" cy="158.7" r="2.6" fill="#1874CD" fill-opacity="0.55"/><circle cx="480.7" cy="177.0" r="2.6" fill="#1874CD" fill-opacity="0.55"/><circle cx="488.5" cy="191.9" r="2.6" fill="#1874CD" fill-opacity="0.55"/><circle cx="485.2" cy="234.6" r="2.6" fill="#1874CD" fill-opacity="0.55"/><circle cx="495.8" cy="220.3" r="2.6" fill="#1874CD" fill-opacity="0.55"/><circle cx="502.7" cy="180.8" r="2.6" fill="#1874CD" fill-opacity="0.55"/><circle cx="505.8" cy="216.2" r="2.6" fill="#1874CD" fill-opacity="0.55"/><circle cx="481.6" cy="233.7" r="2.6" fill="#1874CD" fill-opacity="0.55"/><circle cx="501.7" cy="166.5" r="2.6" fill="#1874CD" fill-opacity="0.55"/><circle cx="479.0" cy="197.9" r="2.6" fill="#1874CD" fill-opacity="0.55"/><circle cx="491.1" cy="178.0" r="2.6" fill="#1874CD" fill-opacity="0.55"/><circle cx="499.4" cy="176.5" r="2.6" fill="#1874CD" fill-opacity="0.55"/><circle cx="481.3" cy="174.6" r="2.6" fill="#1874CD" fill-opacity="0.55"/><circle cx="485.2" cy="213.8" r="2.6" fill="#1874CD" fill-opacity="0.55"/><circle cx="500.9" cy="159.5" r="2.6" fill="#1874CD" fill-opacity="0.55"/><circle cx="483.0" cy="176.1" r="2.6" fill="#1874CD" fill-opacity="0.55"/><circle cx="478.5" cy="190.7" r="2.6" fill="#1874CD" fill-opacity="0.55"/><circle cx="488.9" cy="194.1" r="2.6" fill="#1874CD" fill-opacity="0.55"/><circle cx="485.0" cy="227.0" r="2.6" fill="#1874CD" fill-opacity="0.55"/><circle cx="491.8" cy="210.3" r="2.6" fill="#1874CD" fill-opacity="0.55"/><circle cx="487.3" cy="207.5" r="2.6" fill="#1874CD" fill-opacity="0.55"/><circle cx="488.9" cy="160.1" r="2.6" fill="#1874CD" fill-opacity="0.55"/><circle cx="499.3" cy="178.8" r="2.6" fill="#1874CD" fill-opacity="0.55"/><circle cx="485.3" cy="201.7" r="2.6" fill="#1874CD" fill-opacity="0.55"/><circle cx="506.7" cy="202.8" r="2.6" fill="#1874CD" fill-opacity="0.55"/><circle cx="501.2" cy="186.0" r="2.6" fill="#1874CD" fill-opacity="0.55"/><circle cx="492.2" cy="179.4" r="2.6" fill="#1874CD" fill-opacity="0.55"/><circle cx="498.2" cy="197.5" r="2.6" fill="#1874CD" fill-opacity="0.55"/><circle cx="479.3" cy="202.7" r="2.6" fill="#1874CD" fill-opacity="0.55"/><circle cx="498.0" cy="199.6" r="2.6" fill="#1874CD" fill-opacity="0.55"/><circle cx="483.3" cy="187.5" r="2.6" fill="#1874CD" fill-opacity="0.55"/><circle cx="502.8" cy="172.5" r="2.6" fill="#1874CD" fill-opacity="0.55"/><circle cx="486.0" cy="223.2" r="2.6" fill="#1874CD" fill-opacity="0.55"/><circle cx="504.8" cy="191.6" r="2.6" fill="#1874CD" fill-opacity="0.55"/><circle cx="480.4" cy="226.0" r="2.6" fill="#1874CD" fill-opacity="0.55"/><circle cx="486.5" cy="220.0" r="2.6" fill="#1874CD" fill-opacity="0.55"/><circle cx="496.1" cy="225.6" r="2.6" fill="#1874CD" fill-opacity="0.55"/><circle cx="487.5" cy="204.3" r="2.6" fill="#1874CD" fill-opacity="0.55"/><circle cx="496.7" cy="218.1" r="2.6" fill="#1874CD" fill-opacity="0.55"/><circle cx="486.3" cy="219.3" r="2.6" fill="#1874CD" fill-opacity="0.55"/><circle cx="503.9" cy="195.2" r="2.6" fill="#1874CD" fill-opacity="0.55"/><circle cx="490.4" cy="152.1" r="2.6" fill="#1874CD" fill-opacity="0.55"/><circle cx="489.7" cy="225.5" r="2.6" fill="#1874CD" fill-opacity="0.55"/><circle cx="482.1" cy="159.9" r="2.6" fill="#1874CD" fill-opacity="0.55"/><circle cx="506.5" cy="201.7" r="2.6" fill="#1874CD" fill-opacity="0.55"/><circle cx="480.6" cy="237.3" r="2.6" fill="#1874CD" fill-opacity="0.55"/><circle cx="499.2" cy="226.7" r="2.6" fill="#1874CD" fill-opacity="0.55"/><circle cx="484.8" cy="206.7" r="2.6" fill="#1874CD" fill-opacity="0.55"/><circle cx="478.7" cy="175.1" r="2.6" fill="#1874CD" fill-opacity="0.55"/><circle cx="499.2" cy="169.2" r="2.6" fill="#1874CD" fill-opacity="0.55"/><circle cx="501.3" cy="159.8" r="2.6" fill="#1874CD" fill-opacity="0.55"/><circle cx="501.3" cy="187.3" r="2.6" fill="#1874CD" fill-opacity="0.55"/><circle cx="482.1" cy="232.8" r="2.6" fill="#1874CD" fill-opacity="0.55"/><circle cx="490.1" cy="161.3" r="2.6" fill="#1874CD" fill-opacity="0.55"/><circle cx="501.2" cy="213.2" r="2.6" fill="#1874CD" fill-opacity="0.55"/><circle cx="488.5" cy="181.7" r="2.6" fill="#1874CD" fill-opacity="0.55"/><circle cx="499.2" cy="183.3" r="2.6" fill="#1874CD" fill-opacity="0.55"/><circle cx="491.8" cy="186.4" r="2.6" fill="#1874CD" fill-opacity="0.55"/><circle cx="501.6" cy="165.1" r="2.6" fill="#1874CD" fill-opacity="0.55"/><circle cx="487.7" cy="226.3" r="2.6" fill="#1874CD" fill-opacity="0.55"/><circle cx="506.7" cy="207.5" r="2.6" fill="#1874CD" fill-opacity="0.55"/><circle cx="503.0" cy="200.2" r="2.6" fill="#1874CD" fill-opacity="0.55"/><circle cx="480.3" cy="182.7" r="2.6" fill="#1874CD" fill-opacity="0.55"/><circle cx="492.9" cy="234.1" r="2.6" fill="#1874CD" fill-opacity="0.55"/><circle cx="501.3" cy="207.0" r="2.6" fill="#1874CD" fill-opacity="0.55"/><circle cx="486.6" cy="182.9" r="2.6" fill="#1874CD" fill-opacity="0.55"/><circle cx="505.5" cy="224.1" r="2.6" fill="#1874CD" fill-opacity="0.55"/><circle cx="481.1" cy="177.4" r="2.6" fill="#1874CD" fill-opacity="0.55"/><circle cx="502.3" cy="206.7" r="2.6" fill="#1874CD" fill-opacity="0.55"/><circle cx="508.1" cy="233.7" r="2.6" fill="#1874CD" fill-opacity="0.55"/><circle cx="499.3" cy="187.5" r="2.6" fill="#1874CD" fill-opacity="0.55"/><circle cx="493.7" cy="172.8" r="2.6" fill="#1874CD" fill-opacity="0.55"/><circle cx="498.4" cy="235.7" r="2.6" fill="#1874CD" fill-opacity="0.55"/><circle cx="505.8" cy="204.9" r="2.6" fill="#1874CD" fill-opacity="0.55"/><circle cx="493.6" cy="181.0" r="2.6" fill="#1874CD" fill-opacity="0.55"/><circle cx="485.5" cy="237.5" r="2.6" fill="#1874CD" fill-opacity="0.55"/><circle cx="490.5" cy="156.2" r="2.6" fill="#1874CD" fill-opacity="0.55"/><circle cx="483.8" cy="204.8" r="2.6" fill="#1874CD" fill-opacity="0.55"/><circle cx="502.9" cy="166.8" r="2.6" fill="#1874CD" fill-opacity="0.55"/><circle cx="502.5" cy="217.0" r="2.6" fill="#1874CD" fill-opacity="0.55"/><circle cx="509.7" cy="228.5" r="2.6" fill="#1874CD" fill-opacity="0.55"/><circle cx="489.9" cy="193.9" r="2.6" fill="#1874CD" fill-opacity="0.55"/><circle cx="481.9" cy="218.3" r="2.6" fill="#1874CD" fill-opacity="0.55"/><circle cx="495.1" cy="154.5" r="2.6" fill="#1874CD" fill-opacity="0.55"/><circle cx="482.5" cy="151.0" r="2.6" fill="#1874CD" fill-opacity="0.55"/><circle cx="488.0" cy="217.1" r="2.6" fill="#1874CD" fill-opacity="0.55"/><circle cx="492.0" cy="147.7" r="2.6" fill="#1874CD" fill-opacity="0.55"/><circle cx="493.2" cy="196.1" r="2.6" fill="#1874CD" fill-opacity="0.55"/><circle cx="491.7" cy="201.3" r="2.6" fill="#1874CD" fill-opacity="0.55"/><circle cx="502.7" cy="210.9" r="2.6" fill="#1874CD" fill-opacity="0.55"/><circle cx="495.9" cy="145.2" r="2.6" fill="#1874CD" fill-opacity="0.55"/><circle cx="488.2" cy="235.3" r="2.6" fill="#1874CD" fill-opacity="0.55"/><circle cx="492.1" cy="150.0" r="2.6" fill="#1874CD" fill-opacity="0.55"/><circle cx="481.9" cy="230.7" r="2.6" fill="#1874CD" fill-opacity="0.55"/><circle cx="494.5" cy="205.3" r="2.6" fill="#1874CD" fill-opacity="0.55"/><circle cx="494.9" cy="229.3" r="2.6" fill="#1874CD" fill-opacity="0.55"/><circle cx="488.2" cy="213.5" r="2.6" fill="#1874CD" fill-opacity="0.55"/><circle cx="490.4" cy="183.7" r="2.6" fill="#1874CD" fill-opacity="0.55"/><circle cx="490.1" cy="183.8" r="2.6" fill="#1874CD" fill-opacity="0.55"/><circle cx="479.9" cy="222.7" r="2.6" fill="#1874CD" fill-opacity="0.55"/><circle cx="495.8" cy="195.1" r="2.6" fill="#1874CD" fill-opacity="0.55"/><circle cx="485.6" cy="152.0" r="2.6" fill="#1874CD" fill-opacity="0.55"/><circle cx="532.1" cy="165.0" r="2.6" fill="#1874CD" fill-opacity="0.55"/><circle cx="546.8" cy="165.5" r="2.6" fill="#1874CD" fill-opacity="0.55"/><circle cx="535.2" cy="233.7" r="2.6" fill="#1874CD" fill-opacity="0.55"/><circle cx="541.6" cy="232.9" r="2.6" fill="#1874CD" fill-opacity="0.55"/><circle cx="541.7" cy="148.6" r="2.6" fill="#1874CD" fill-opacity="0.55"/><circle cx="542.1" cy="180.0" r="2.6" fill="#1874CD" fill-opacity="0.55"/><circle cx="538.3" cy="169.6" r="2.6" fill="#1874CD" fill-opacity="0.55"/><circle cx="548.4" cy="156.6" r="2.6" fill="#1874CD" fill-opacity="0.55"/><circle cx="535.1" cy="136.7" r="2.6" fill="#1874CD" fill-opacity="0.55"/><circle cx="524.4" cy="236.2" r="2.6" fill="#1874CD" fill-opacity="0.55"/><circle cx="548.1" cy="187.5" r="2.6" fill="#1874CD" fill-opacity="0.55"/><circle cx="547.3" cy="102.8" r="2.6" fill="#1874CD" fill-opacity="0.55"/><circle cx="540.2" cy="228.1" r="2.6" fill="#1874CD" fill-opacity="0.55"/><circle cx="546.9" cy="178.6" r="2.6" fill="#1874CD" fill-opacity="0.55"/><circle cx="546.4" cy="155.6" r="2.6" fill="#1874CD" fill-opacity="0.55"/><circle cx="554.7" cy="226.6" r="2.6" fill="#1874CD" fill-opacity="0.55"/><circle cx="547.9" cy="158.8" r="2.6" fill="#1874CD" fill-opacity="0.55"/><circle cx="534.3" cy="159.8" r="2.6" fill="#1874CD" fill-opacity="0.55"/><circle cx="546.3" cy="106.2" r="2.6" fill="#1874CD" fill-opacity="0.55"/><circle cx="549.7" cy="190.9" r="2.6" fill="#1874CD" fill-opacity="0.55"/><circle cx="532.0" cy="231.9" r="2.6" fill="#1874CD" fill-opacity="0.55"/><circle cx="552.7" cy="126.1" r="2.6" fill="#1874CD" fill-opacity="0.55"/><circle cx="539.6" cy="215.6" r="2.6" fill="#1874CD" fill-opacity="0.55"/><circle cx="551.0" cy="163.3" r="2.6" fill="#1874CD" fill-opacity="0.55"/><circle cx="536.1" cy="149.8" r="2.6" fill="#1874CD" fill-opacity="0.55"/><circle cx="552.9" cy="166.3" r="2.6" fill="#1874CD" fill-opacity="0.55"/><circle cx="534.6" cy="206.9" r="2.6" fill="#1874CD" fill-opacity="0.55"/><circle cx="546.6" cy="119.7" r="2.6" fill="#1874CD" fill-opacity="0.55"/><circle cx="541.5" cy="170.1" r="2.6" fill="#1874CD" fill-opacity="0.55"/><circle cx="540.9" cy="216.0" r="2.6" fill="#1874CD" fill-opacity="0.55"/><circle cx="541.2" cy="164.5" r="2.6" fill="#1874CD" fill-opacity="0.55"/><circle cx="532.6" cy="195.4" r="2.6" fill="#1874CD" fill-opacity="0.55"/><circle cx="530.3" cy="200.1" r="2.6" fill="#1874CD" fill-opacity="0.55"/><circle cx="549.4" cy="149.8" r="2.6" fill="#1874CD" fill-opacity="0.55"/><circle cx="536.1" cy="184.0" r="2.6" fill="#1874CD" fill-opacity="0.55"/><circle cx="554.5" cy="225.6" r="2.6" fill="#1874CD" fill-opacity="0.55"/><circle cx="538.0" cy="129.0" r="2.6" fill="#1874CD" fill-opacity="0.55"/><circle cx="550.1" cy="101.0" r="2.6" fill="#1874CD" fill-opacity="0.55"/><circle cx="540.7" cy="174.6" r="2.6" fill="#1874CD" fill-opacity="0.55"/><circle cx="526.6" cy="231.5" r="2.6" fill="#1874CD" fill-opacity="0.55"/><circle cx="548.7" cy="109.9" r="2.6" fill="#1874CD" fill-opacity="0.55"/><circle cx="539.6" cy="182.9" r="2.6" fill="#1874CD" fill-opacity="0.55"/><circle cx="547.4" cy="179.0" r="2.6" fill="#1874CD" fill-opacity="0.55"/><circle cx="552.7" cy="194.2" r="2.6" fill="#1874CD" fill-opacity="0.55"/><circle cx="553.6" cy="198.4" r="2.6" fill="#1874CD" fill-opacity="0.55"/><circle cx="550.5" cy="199.6" r="2.6" fill="#1874CD" fill-opacity="0.55"/><circle cx="539.7" cy="132.1" r="2.6" fill="#1874CD" fill-opacity="0.55"/><circle cx="537.9" cy="134.8" r="2.6" fill="#1874CD" fill-opacity="0.55"/><circle cx="530.9" cy="168.6" r="2.6" fill="#1874CD" fill-opacity="0.55"/><circle cx="526.9" cy="218.5" r="2.6" fill="#1874CD" fill-opacity="0.55"/><circle cx="542.1" cy="173.5" r="2.6" fill="#1874CD" fill-opacity="0.55"/><circle cx="539.6" cy="190.0" r="2.6" fill="#1874CD" fill-opacity="0.55"/><circle cx="547.7" cy="133.0" r="2.6" fill="#1874CD" fill-opacity="0.55"/><circle cx="553.2" cy="147.7" r="2.6" fill="#1874CD" fill-opacity="0.55"/><circle cx="529.4" cy="160.5" r="2.6" fill="#1874CD" fill-opacity="0.55"/><circle cx="546.1" cy="230.5" r="2.6" fill="#1874CD" fill-opacity="0.55"/><circle cx="540.6" cy="145.7" r="2.6" fill="#1874CD" fill-opacity="0.55"/><circle cx="525.5" cy="236.9" r="2.6" fill="#1874CD" fill-opacity="0.55"/><circle cx="551.0" cy="104.8" r="2.6" fill="#1874CD" fill-opacity="0.55"/><circle cx="540.8" cy="236.1" r="2.6" fill="#1874CD" fill-opacity="0.55"/><circle cx="550.4" cy="207.8" r="2.6" fill="#1874CD" fill-opacity="0.55"/><circle cx="533.5" cy="167.1" r="2.6" fill="#1874CD" fill-opacity="0.55"/><circle cx="545.3" cy="155.5" r="2.6" fill="#1874CD" fill-opacity="0.55"/><circle cx="540.3" cy="234.6" r="2.6" fill="#1874CD" fill-opacity="0.55"/><circle cx="532.8" cy="196.0" r="2.6" fill="#1874CD" fill-opacity="0.55"/><circle cx="554.5" cy="231.4" r="2.6" fill="#1874CD" fill-opacity="0.55"/><circle cx="550.5" cy="229.2" r="2.6" fill="#1874CD" fill-opacity="0.55"/><circle cx="538.1" cy="180.2" r="2.6" fill="#1874CD" fill-opacity="0.55"/><circle cx="542.2" cy="183.4" r="2.6" fill="#1874CD" fill-opacity="0.55"/><circle cx="553.9" cy="100.5" r="2.6" fill="#1874CD" fill-opacity="0.55"/><circle cx="550.9" cy="232.4" r="2.6" fill="#1874CD" fill-opacity="0.55"/><circle cx="544.8" cy="170.1" r="2.6" fill="#1874CD" fill-opacity="0.55"/><circle cx="547.1" cy="211.1" r="2.6" fill="#1874CD" fill-opacity="0.55"/><circle cx="554.5" cy="214.8" r="2.6" fill="#1874CD" fill-opacity="0.55"/><circle cx="532.8" cy="145.4" r="2.6" fill="#1874CD" fill-opacity="0.55"/><circle cx="547.5" cy="133.4" r="2.6" fill="#1874CD" fill-opacity="0.55"/><circle cx="539.3" cy="143.8" r="2.6" fill="#1874CD" fill-opacity="0.55"/><circle cx="530.1" cy="164.3" r="2.6" fill="#1874CD" fill-opacity="0.55"/><circle cx="543.6" cy="133.1" r="2.6" fill="#1874CD" fill-opacity="0.55"/><circle cx="530.1" cy="221.0" r="2.6" fill="#1874CD" fill-opacity="0.55"/><circle cx="532.6" cy="199.5" r="2.6" fill="#1874CD" fill-opacity="0.55"/><circle cx="548.2" cy="173.0" r="2.6" fill="#1874CD" fill-opacity="0.55"/><circle cx="547.3" cy="130.8" r="2.6" fill="#1874CD" fill-opacity="0.55"/><circle cx="535.5" cy="237.0" r="2.6" fill="#1874CD" fill-opacity="0.55"/><circle cx="533.5" cy="225.8" r="2.6" fill="#1874CD" fill-opacity="0.55"/><circle cx="548.2" cy="207.5" r="2.6" fill="#1874CD" fill-opacity="0.55"/><circle cx="548.2" cy="150.1" r="2.6" fill="#1874CD" fill-opacity="0.55"/><circle cx="541.6" cy="201.7" r="2.6" fill="#1874CD" fill-opacity="0.55"/><circle cx="549.2" cy="98.0" r="2.6" fill="#1874CD" fill-opacity="0.55"/><circle cx="552.4" cy="116.4" r="2.6" fill="#1874CD" fill-opacity="0.55"/><circle cx="551.2" cy="232.9" r="2.6" fill="#1874CD" fill-opacity="0.55"/><circle cx="533.1" cy="228.6" r="2.6" fill="#1874CD" fill-opacity="0.55"/><circle cx="545.7" cy="230.7" r="2.6" fill="#1874CD" fill-opacity="0.55"/><circle cx="526.1" cy="192.6" r="2.6" fill="#1874CD" fill-opacity="0.55"/><circle cx="546.1" cy="231.3" r="2.6" fill="#1874CD" fill-opacity="0.55"/><circle cx="530.7" cy="229.8" r="2.6" fill="#1874CD" fill-opacity="0.55"/><circle cx="539.3" cy="173.0" r="2.6" fill="#1874CD" fill-opacity="0.55"/><circle cx="547.3" cy="171.1" r="2.6" fill="#1874CD" fill-opacity="0.55"/><circle cx="547.2" cy="227.7" r="2.6" fill="#1874CD" fill-opacity="0.55"/><circle cx="540.7" cy="138.0" r="2.6" fill="#1874CD" fill-opacity="0.55"/><circle cx="554.4" cy="161.5" r="2.6" fill="#1874CD" fill-opacity="0.55"/><circle cx="550.1" cy="162.3" r="2.6" fill="#1874CD" fill-opacity="0.55"/><circle cx="553.4" cy="235.4" r="2.6" fill="#1874CD" fill-opacity="0.55"/><circle cx="547.3" cy="153.1" r="2.6" fill="#1874CD" fill-opacity="0.55"/><circle cx="546.4" cy="126.2" r="2.6" fill="#1874CD" fill-opacity="0.55"/><circle cx="528.9" cy="209.9" r="2.6" fill="#1874CD" fill-opacity="0.55"/><circle cx="543.6" cy="162.3" r="2.6" fill="#1874CD" fill-opacity="0.55"/><circle cx="542.4" cy="148.6" r="2.6" fill="#1874CD" fill-opacity="0.55"/><circle cx="542.6" cy="141.2" r="2.6" fill="#1874CD" fill-opacity="0.55"/><circle cx="551.4" cy="178.8" r="2.6" fill="#1874CD" fill-opacity="0.55"/><circle cx="539.8" cy="161.6" r="2.6" fill="#1874CD" fill-opacity="0.55"/><circle cx="550.3" cy="221.7" r="2.6" fill="#1874CD" fill-opacity="0.55"/><circle cx="538.7" cy="236.3" r="2.6" fill="#1874CD" fill-opacity="0.55"/><circle cx="527.3" cy="199.1" r="2.6" fill="#1874CD" fill-opacity="0.55"/><circle cx="544.7" cy="145.5" r="2.6" fill="#1874CD" fill-opacity="0.55"/><circle cx="538.3" cy="227.5" r="2.6" fill="#1874CD" fill-opacity="0.55"/><circle cx="538.3" cy="134.3" r="2.6" fill="#1874CD" fill-opacity="0.55"/><circle cx="542.9" cy="161.9" r="2.6" fill="#1874CD" fill-opacity="0.55"/><circle cx="538.3" cy="164.7" r="2.6" fill="#1874CD" fill-opacity="0.55"/><circle cx="554.3" cy="135.9" r="2.6" fill="#1874CD" fill-opacity="0.55"/><circle cx="529.4" cy="214.1" r="2.6" fill="#1874CD" fill-opacity="0.55"/><circle cx="530.1" cy="224.7" r="2.6" fill="#1874CD" fill-opacity="0.55"/><circle cx="535.9" cy="175.1" r="2.6" fill="#1874CD" fill-opacity="0.55"/><circle cx="538.1" cy="164.7" r="2.6" fill="#1874CD" fill-opacity="0.55"/><circle cx="549.9" cy="167.7" r="2.6" fill="#1874CD" fill-opacity="0.55"/><circle cx="549.7" cy="210.5" r="2.6" fill="#1874CD" fill-opacity="0.55"/><circle cx="552.5" cy="193.6" r="2.6" fill="#1874CD" fill-opacity="0.55"/><circle cx="545.6" cy="211.4" r="2.6" fill="#1874CD" fill-opacity="0.55"/><circle cx="527.5" cy="212.1" r="2.6" fill="#1874CD" fill-opacity="0.55"/><circle cx="529.8" cy="227.0" r="2.6" fill="#1874CD" fill-opacity="0.55"/><circle cx="538.8" cy="144.9" r="2.6" fill="#1874CD" fill-opacity="0.55"/><circle cx="542.1" cy="225.8" r="2.6" fill="#1874CD" fill-opacity="0.55"/><circle cx="543.3" cy="105.2" r="2.6" fill="#1874CD" fill-opacity="0.55"/><circle cx="525.2" cy="236.0" r="2.6" fill="#1874CD" fill-opacity="0.55"/><circle cx="545.0" cy="204.0" r="2.6" fill="#1874CD" fill-opacity="0.55"/><circle cx="542.6" cy="113.9" r="2.6" fill="#1874CD" fill-opacity="0.55"/><circle cx="547.5" cy="207.9" r="2.6" fill="#1874CD" fill-opacity="0.55"/><circle cx="540.7" cy="230.4" r="2.6" fill="#1874CD" fill-opacity="0.55"/><circle cx="538.1" cy="150.8" r="2.6" fill="#1874CD" fill-opacity="0.55"/><circle cx="548.4" cy="128.6" r="2.6" fill="#1874CD" fill-opacity="0.55"/><circle cx="547.7" cy="195.0" r="2.6" fill="#1874CD" fill-opacity="0.55"/><circle cx="527.8" cy="188.3" r="2.6" fill="#1874CD" fill-opacity="0.55"/><circle cx="542.4" cy="233.2" r="2.6" fill="#1874CD" fill-opacity="0.55"/><circle cx="539.2" cy="165.5" r="2.6" fill="#1874CD" fill-opacity="0.55"/><circle cx="550.7" cy="172.3" r="2.6" fill="#1874CD" fill-opacity="0.55"/><circle cx="546.7" cy="131.6" r="2.6" fill="#1874CD" fill-opacity="0.55"/><circle cx="541.1" cy="130.4" r="2.6" fill="#1874CD" fill-opacity="0.55"/><circle cx="533.5" cy="171.1" r="2.6" fill="#1874CD" fill-opacity="0.55"/><circle cx="543.1" cy="155.1" r="2.6" fill="#1874CD" fill-opacity="0.55"/><circle cx="529.5" cy="163.5" r="2.6" fill="#1874CD" fill-opacity="0.55"/><circle cx="544.7" cy="204.6" r="2.6" fill="#1874CD" fill-opacity="0.55"/><circle cx="543.2" cy="229.7" r="2.6" fill="#1874CD" fill-opacity="0.55"/><circle cx="530.0" cy="173.1" r="2.6" fill="#1874CD" fill-opacity="0.55"/><circle cx="539.3" cy="123.0" r="2.6" fill="#1874CD" fill-opacity="0.55"/><circle cx="540.1" cy="134.8" r="2.6" fill="#1874CD" fill-opacity="0.55"/><circle cx="546.1" cy="141.5" r="2.6" fill="#1874CD" fill-opacity="0.55"/><circle cx="543.4" cy="196.6" r="2.6" fill="#1874CD" fill-opacity="0.55"/><circle cx="536.1" cy="111.2" r="2.6" fill="#1874CD" fill-opacity="0.55"/><circle cx="553.8" cy="222.6" r="2.6" fill="#1874CD" fill-opacity="0.55"/><circle cx="545.0" cy="158.4" r="2.6" fill="#1874CD" fill-opacity="0.55"/><circle cx="535.9" cy="177.7" r="2.6" fill="#1874CD" fill-opacity="0.55"/><circle cx="535.1" cy="188.6" r="2.6" fill="#1874CD" fill-opacity="0.55"/><circle cx="542.3" cy="102.6" r="2.6" fill="#1874CD" fill-opacity="0.55"/><circle cx="550.3" cy="165.3" r="2.6" fill="#1874CD" fill-opacity="0.55"/><circle cx="532.2" cy="236.2" r="2.6" fill="#1874CD" fill-opacity="0.55"/><circle cx="550.8" cy="168.5" r="2.6" fill="#1874CD" fill-opacity="0.55"/><circle cx="535.0" cy="222.4" r="2.6" fill="#1874CD" fill-opacity="0.55"/><circle cx="548.2" cy="196.9" r="2.6" fill="#1874CD" fill-opacity="0.55"/><circle cx="533.9" cy="158.3" r="2.6" fill="#1874CD" fill-opacity="0.55"/><circle cx="532.2" cy="184.9" r="2.6" fill="#1874CD" fill-opacity="0.55"/><circle cx="531.8" cy="206.1" r="2.6" fill="#1874CD" fill-opacity="0.55"/><circle cx="537.5" cy="221.3" r="2.6" fill="#1874CD" fill-opacity="0.55"/><circle cx="534.2" cy="224.0" r="2.6" fill="#1874CD" fill-opacity="0.55"/><circle cx="548.1" cy="153.2" r="2.6" fill="#1874CD" fill-opacity="0.55"/><circle cx="546.5" cy="138.2" r="2.6" fill="#1874CD" fill-opacity="0.55"/><circle cx="553.6" cy="189.4" r="2.6" fill="#1874CD" fill-opacity="0.55"/><circle cx="536.2" cy="189.1" r="2.6" fill="#1874CD" fill-opacity="0.55"/><circle cx="547.5" cy="172.8" r="2.6" fill="#1874CD" fill-opacity="0.55"/><circle cx="533.0" cy="197.4" r="2.6" fill="#1874CD" fill-opacity="0.55"/><circle cx="535.6" cy="205.2" r="2.6" fill="#1874CD" fill-opacity="0.55"/><circle cx="542.2" cy="127.5" r="2.6" fill="#1874CD" fill-opacity="0.55"/><circle cx="549.3" cy="215.3" r="2.6" fill="#1874CD" fill-opacity="0.55"/><circle cx="541.5" cy="197.5" r="2.6" fill="#1874CD" fill-opacity="0.55"/><circle cx="546.7" cy="178.5" r="2.6" fill="#1874CD" fill-opacity="0.55"/><circle cx="545.3" cy="176.0" r="2.6" fill="#1874CD" fill-opacity="0.55"/><circle cx="554.9" cy="115.4" r="2.6" fill="#1874CD" fill-opacity="0.55"/><circle cx="532.5" cy="199.5" r="2.6" fill="#1874CD" fill-opacity="0.55"/><circle cx="530.8" cy="176.8" r="2.6" fill="#1874CD" fill-opacity="0.55"/><circle cx="538.2" cy="119.8" r="2.6" fill="#1874CD" fill-opacity="0.55"/><circle cx="551.7" cy="190.5" r="2.6" fill="#1874CD" fill-opacity="0.55"/><circle cx="548.7" cy="155.9" r="2.6" fill="#1874CD" fill-opacity="0.55"/><circle cx="542.0" cy="161.6" r="2.6" fill="#1874CD" fill-opacity="0.55"/><circle cx="555.0" cy="177.1" r="2.6" fill="#1874CD" fill-opacity="0.55"/><circle cx="533.4" cy="204.1" r="2.6" fill="#1874CD" fill-opacity="0.55"/><circle cx="531.7" cy="194.6" r="2.6" fill="#1874CD" fill-opacity="0.55"/><circle cx="549.5" cy="150.2" r="2.6" fill="#1874CD" fill-opacity="0.55"/><circle cx="533.6" cy="172.6" r="2.6" fill="#1874CD" fill-opacity="0.55"/><circle cx="534.2" cy="189.7" r="2.6" fill="#1874CD" fill-opacity="0.55"/><circle cx="532.0" cy="220.3" r="2.6" fill="#1874CD" fill-opacity="0.55"/><circle cx="548.3" cy="201.3" r="2.6" fill="#1874CD" fill-opacity="0.55"/><circle cx="538.0" cy="195.1" r="2.6" fill="#1874CD" fill-opacity="0.55"/><circle cx="549.2" cy="218.5" r="2.6" fill="#1874CD" fill-opacity="0.55"/><circle cx="545.3" cy="195.6" r="2.6" fill="#1874CD" fill-opacity="0.55"/><circle cx="551.2" cy="127.1" r="2.6" fill="#1874CD" fill-opacity="0.55"/><circle cx="532.1" cy="159.0" r="2.6" fill="#1874CD" fill-opacity="0.55"/><circle cx="540.8" cy="182.8" r="2.6" fill="#1874CD" fill-opacity="0.55"/><circle cx="533.0" cy="158.7" r="2.6" fill="#1874CD" fill-opacity="0.55"/><circle cx="549.5" cy="226.4" r="2.6" fill="#1874CD" fill-opacity="0.55"/><circle cx="551.0" cy="128.3" r="2.6" fill="#1874CD" fill-opacity="0.55"/><circle cx="529.2" cy="198.4" r="2.6" fill="#1874CD" fill-opacity="0.55"/><circle cx="539.9" cy="179.1" r="2.6" fill="#1874CD" fill-opacity="0.55"/><circle cx="554.8" cy="181.5" r="2.6" fill="#1874CD" fill-opacity="0.55"/><circle cx="544.0" cy="195.1" r="2.6" fill="#1874CD" fill-opacity="0.55"/><circle cx="537.3" cy="137.2" r="2.6" fill="#1874CD" fill-opacity="0.55"/><circle cx="533.5" cy="147.3" r="2.6" fill="#1874CD" fill-opacity="0.55"/><circle cx="541.5" cy="134.3" r="2.6" fill="#1874CD" fill-opacity="0.55"/><circle cx="550.1" cy="162.8" r="2.6" fill="#1874CD" fill-opacity="0.55"/><circle cx="532.0" cy="222.4" r="2.6" fill="#1874CD" fill-opacity="0.55"/><circle cx="542.5" cy="190.0" r="2.6" fill="#1874CD" fill-opacity="0.55"/><circle cx="538.4" cy="154.9" r="2.6" fill="#1874CD" fill-opacity="0.55"/><circle cx="538.5" cy="162.8" r="2.6" fill="#1874CD" fill-opacity="0.55"/><circle cx="539.5" cy="208.4" r="2.6" fill="#1874CD" fill-opacity="0.55"/><circle cx="548.4" cy="184.4" r="2.6" fill="#1874CD" fill-opacity="0.55"/><circle cx="528.0" cy="219.8" r="2.6" fill="#1874CD" fill-opacity="0.55"/><circle cx="544.6" cy="194.6" r="2.6" fill="#1874CD" fill-opacity="0.55"/><circle cx="536.9" cy="152.6" r="2.6" fill="#1874CD" fill-opacity="0.55"/><circle cx="551.3" cy="237.3" r="2.6" fill="#1874CD" fill-opacity="0.55"/><circle cx="549.7" cy="106.6" r="2.6" fill="#1874CD" fill-opacity="0.55"/><circle cx="554.3" cy="173.5" r="2.6" fill="#1874CD" fill-opacity="0.55"/><circle cx="532.0" cy="218.8" r="2.6" fill="#1874CD" fill-opacity="0.55"/><circle cx="534.7" cy="187.1" r="2.6" fill="#1874CD" fill-opacity="0.55"/><circle cx="540.5" cy="229.9" r="2.6" fill="#1874CD" fill-opacity="0.55"/><circle cx="547.3" cy="180.3" r="2.6" fill="#1874CD" fill-opacity="0.55"/><circle cx="551.9" cy="192.1" r="2.6" fill="#1874CD" fill-opacity="0.55"/><circle cx="536.6" cy="173.5" r="2.6" fill="#1874CD" fill-opacity="0.55"/><circle cx="541.0" cy="186.0" r="2.6" fill="#1874CD" fill-opacity="0.55"/><circle cx="528.9" cy="189.6" r="2.6" fill="#1874CD" fill-opacity="0.55"/><circle cx="532.8" cy="232.5" r="2.6" fill="#1874CD" fill-opacity="0.55"/><circle cx="530.4" cy="212.1" r="2.6" fill="#1874CD" fill-opacity="0.55"/><circle cx="547.1" cy="104.2" r="2.6" fill="#1874CD" fill-opacity="0.55"/><circle cx="548.5" cy="116.0" r="2.6" fill="#1874CD" fill-opacity="0.55"/><circle cx="537.5" cy="232.5" r="2.6" fill="#1874CD" fill-opacity="0.55"/><circle cx="530.3" cy="214.0" r="2.6" fill="#1874CD" fill-opacity="0.55"/><circle cx="543.0" cy="183.7" r="2.6" fill="#1874CD" fill-opacity="0.55"/><circle cx="534.4" cy="213.4" r="2.6" fill="#1874CD" fill-opacity="0.55"/><circle cx="545.7" cy="122.4" r="2.6" fill="#1874CD" fill-opacity="0.55"/><circle cx="554.2" cy="130.2" r="2.6" fill="#1874CD" fill-opacity="0.55"/><circle cx="552.5" cy="192.1" r="2.6" fill="#1874CD" fill-opacity="0.55"/><circle cx="531.3" cy="216.4" r="2.6" fill="#1874CD" fill-opacity="0.55"/><circle cx="554.6" cy="191.4" r="2.6" fill="#1874CD" fill-opacity="0.55"/><circle cx="534.4" cy="198.2" r="2.6" fill="#1874CD" fill-opacity="0.55"/><circle cx="534.5" cy="171.7" r="2.6" fill="#1874CD" fill-opacity="0.55"/><circle cx="522.4" cy="236.1" r="2.6" fill="#1874CD" fill-opacity="0.55"/><circle cx="541.5" cy="226.3" r="2.6" fill="#1874CD" fill-opacity="0.55"/><circle cx="538.4" cy="167.2" r="2.6" fill="#1874CD" fill-opacity="0.55"/><circle cx="540.6" cy="130.0" r="2.6" fill="#1874CD" fill-opacity="0.55"/><circle cx="537.3" cy="216.3" r="2.6" fill="#1874CD" fill-opacity="0.55"/><circle cx="546.7" cy="204.4" r="2.6" fill="#1874CD" fill-opacity="0.55"/><circle cx="551.1" cy="150.3" r="2.6" fill="#1874CD" fill-opacity="0.55"/><circle cx="541.8" cy="226.6" r="2.6" fill="#1874CD" fill-opacity="0.55"/><circle cx="528.3" cy="187.3" r="2.6" fill="#1874CD" fill-opacity="0.55"/><circle cx="540.7" cy="168.4" r="2.6" fill="#1874CD" fill-opacity="0.55"/><circle cx="542.3" cy="123.6" r="2.6" fill="#1874CD" fill-opacity="0.55"/><circle cx="541.4" cy="151.9" r="2.6" fill="#1874CD" fill-opacity="0.55"/><circle cx="553.3" cy="114.8" r="2.6" fill="#1874CD" fill-opacity="0.55"/><circle cx="545.4" cy="149.0" r="2.6" fill="#1874CD" fill-opacity="0.55"/><circle cx="552.2" cy="101.8" r="2.6" fill="#1874CD" fill-opacity="0.55"/><circle cx="531.4" cy="202.9" r="2.6" fill="#1874CD" fill-opacity="0.55"/><circle cx="545.1" cy="227.8" r="2.6" fill="#1874CD" fill-opacity="0.55"/><circle cx="534.8" cy="217.5" r="2.6" fill="#1874CD" fill-opacity="0.55"/><circle cx="525.3" cy="235.6" r="2.6" fill="#1874CD" fill-opacity="0.55"/><circle cx="550.8" cy="147.6" r="2.6" fill="#1874CD" fill-opacity="0.55"/><circle cx="553.9" cy="224.0" r="2.6" fill="#1874CD" fill-opacity="0.55"/><circle cx="549.9" cy="189.5" r="2.6" fill="#1874CD" fill-opacity="0.55"/><circle cx="540.6" cy="114.8" r="2.6" fill="#1874CD" fill-opacity="0.55"/><circle cx="531.0" cy="142.0" r="2.6" fill="#1874CD" fill-opacity="0.55"/><circle cx="550.5" cy="236.6" r="2.6" fill="#1874CD" fill-opacity="0.55"/><circle cx="533.9" cy="194.9" r="2.6" fill="#1874CD" fill-opacity="0.55"/><circle cx="550.2" cy="124.3" r="2.6" fill="#1874CD" fill-opacity="0.55"/><circle cx="555.0" cy="186.9" r="2.6" fill="#1874CD" fill-opacity="0.55"/><circle cx="545.7" cy="129.1" r="2.6" fill="#1874CD" fill-opacity="0.55"/><circle cx="545.9" cy="218.1" r="2.6" fill="#1874CD" fill-opacity="0.55"/><circle cx="535.7" cy="141.3" r="2.6" fill="#1874CD" fill-opacity="0.55"/><circle cx="532.1" cy="201.7" r="2.6" fill="#1874CD" fill-opacity="0.55"/><circle cx="544.7" cy="117.7" r="2.6" fill="#1874CD" fill-opacity="0.55"/><circle cx="554.2" cy="124.9" r="2.6" fill="#1874CD" fill-opacity="0.55"/><circle cx="546.2" cy="177.6" r="2.6" fill="#1874CD" fill-opacity="0.55"/><circle cx="554.2" cy="104.3" r="2.6" fill="#1874CD" fill-opacity="0.55"/><circle cx="549.4" cy="193.4" r="2.6" fill="#1874CD" fill-opacity="0.55"/><circle cx="550.4" cy="149.0" r="2.6" fill="#1874CD" fill-opacity="0.55"/><circle cx="543.2" cy="99.6" r="2.6" fill="#1874CD" fill-opacity="0.55"/><circle cx="549.4" cy="145.1" r="2.6" fill="#1874CD" fill-opacity="0.55"/><circle cx="544.2" cy="199.8" r="2.6" fill="#1874CD" fill-opacity="0.55"/><circle cx="540.2" cy="178.9" r="2.6" fill="#1874CD" fill-opacity="0.55"/><circle cx="544.4" cy="234.9" r="2.6" fill="#1874CD" fill-opacity="0.55"/><circle cx="547.7" cy="186.2" r="2.6" fill="#1874CD" fill-opacity="0.55"/><circle cx="530.4" cy="181.7" r="2.6" fill="#1874CD" fill-opacity="0.55"/><circle cx="538.8" cy="104.4" r="2.6" fill="#1874CD" fill-opacity="0.55"/><circle cx="542.0" cy="193.2" r="2.6" fill="#1874CD" fill-opacity="0.55"/><circle cx="548.3" cy="137.3" r="2.6" fill="#1874CD" fill-opacity="0.55"/><circle cx="538.6" cy="210.6" r="2.6" fill="#1874CD" fill-opacity="0.55"/><circle cx="552.6" cy="165.0" r="2.6" fill="#1874CD" fill-opacity="0.55"/><circle cx="537.7" cy="146.9" r="2.6" fill="#1874CD" fill-opacity="0.55"/><circle cx="535.8" cy="181.8" r="2.6" fill="#1874CD" fill-opacity="0.55"/><circle cx="536.5" cy="138.1" r="2.6" fill="#1874CD" fill-opacity="0.55"/><circle cx="551.5" cy="126.4" r="2.6" fill="#1874CD" fill-opacity="0.55"/><circle cx="551.4" cy="164.8" r="2.6" fill="#1874CD" fill-opacity="0.55"/><circle cx="526.1" cy="222.9" r="2.6" fill="#1874CD" fill-opacity="0.55"/><circle cx="528.7" cy="159.5" r="2.6" fill="#1874CD" fill-opacity="0.55"/><circle cx="523.2" cy="229.3" r="2.6" fill="#1874CD" fill-opacity="0.55"/><circle cx="526.4" cy="207.2" r="2.6" fill="#1874CD" fill-opacity="0.55"/><circle cx="537.4" cy="224.3" r="2.6" fill="#1874CD" fill-opacity="0.55"/><circle cx="541.9" cy="163.0" r="2.6" fill="#1874CD" fill-opacity="0.55"/><circle cx="552.5" cy="125.7" r="2.6" fill="#1874CD" fill-opacity="0.55"/><circle cx="524.0" cy="227.6" r="2.6" fill="#1874CD" fill-opacity="0.55"/><circle cx="542.4" cy="141.7" r="2.6" fill="#1874CD" fill-opacity="0.55"/><circle cx="552.0" cy="209.3" r="2.6" fill="#1874CD" fill-opacity="0.55"/><circle cx="538.5" cy="115.9" r="2.6" fill="#1874CD" fill-opacity="0.55"/><circle cx="553.6" cy="219.3" r="2.6" fill="#1874CD" fill-opacity="0.55"/><circle cx="540.2" cy="141.2" r="2.6" fill="#1874CD" fill-opacity="0.55"/><circle cx="546.6" cy="204.2" r="2.6" fill="#1874CD" fill-opacity="0.55"/><circle cx="535.7" cy="195.2" r="2.6" fill="#1874CD" fill-opacity="0.55"/><circle cx="537.2" cy="112.8" r="2.6" fill="#1874CD" fill-opacity="0.55"/><circle cx="527.2" cy="213.8" r="2.6" fill="#1874CD" fill-opacity="0.55"/><circle cx="543.3" cy="147.9" r="2.6" fill="#1874CD" fill-opacity="0.55"/><circle cx="527.4" cy="234.9" r="2.6" fill="#1874CD" fill-opacity="0.55"/><circle cx="525.8" cy="196.1" r="2.6" fill="#1874CD" fill-opacity="0.55"/><circle cx="542.2" cy="205.7" r="2.6" fill="#1874CD" fill-opacity="0.55"/><circle cx="551.1" cy="234.2" r="2.6" fill="#1874CD" fill-opacity="0.55"/><circle cx="543.4" cy="149.3" r="2.6" fill="#1874CD" fill-opacity="0.55"/><circle cx="533.9" cy="188.2" r="2.6" fill="#1874CD" fill-opacity="0.55"/><circle cx="533.4" cy="216.7" r="2.6" fill="#1874CD" fill-opacity="0.55"/><circle cx="544.4" cy="216.2" r="2.6" fill="#1874CD" fill-opacity="0.55"/><circle cx="543.2" cy="131.8" r="2.6" fill="#1874CD" fill-opacity="0.55"/><circle cx="524.9" cy="209.8" r="2.6" fill="#1874CD" fill-opacity="0.55"/><circle cx="531.7" cy="149.9" r="2.6" fill="#1874CD" fill-opacity="0.55"/><circle cx="551.7" cy="108.0" r="2.6" fill="#1874CD" fill-opacity="0.55"/><circle cx="533.4" cy="163.5" r="2.6" fill="#1874CD" fill-opacity="0.55"/><circle cx="531.3" cy="156.5" r="2.6" fill="#1874CD" fill-opacity="0.55"/><circle cx="546.1" cy="100.3" r="2.6" fill="#1874CD" fill-opacity="0.55"/><circle cx="548.6" cy="142.5" r="2.6" fill="#1874CD" fill-opacity="0.55"/><circle cx="548.3" cy="181.9" r="2.6" fill="#1874CD" fill-opacity="0.55"/><circle cx="536.8" cy="181.3" r="2.6" fill="#1874CD" fill-opacity="0.55"/><circle cx="533.5" cy="234.5" r="2.6" fill="#1874CD" fill-opacity="0.55"/><circle cx="552.7" cy="219.7" r="2.6" fill="#1874CD" fill-opacity="0.55"/><circle cx="525.8" cy="211.1" r="2.6" fill="#1874CD" fill-opacity="0.55"/><circle cx="540.3" cy="109.9" r="2.6" fill="#1874CD" fill-opacity="0.55"/><circle cx="555.0" cy="178.4" r="2.6" fill="#1874CD" fill-opacity="0.55"/><circle cx="553.8" cy="204.0" r="2.6" fill="#1874CD" fill-opacity="0.55"/><circle cx="537.5" cy="206.8" r="2.6" fill="#1874CD" fill-opacity="0.55"/><circle cx="535.5" cy="169.5" r="2.6" fill="#1874CD" fill-opacity="0.55"/><circle cx="544.8" cy="177.2" r="2.6" fill="#1874CD" fill-opacity="0.55"/><circle cx="549.4" cy="109.2" r="2.6" fill="#1874CD" fill-opacity="0.55"/><circle cx="553.9" cy="140.1" r="2.6" fill="#1874CD" fill-opacity="0.55"/><circle cx="537.2" cy="176.4" r="2.6" fill="#1874CD" fill-opacity="0.55"/><circle cx="548.7" cy="96.2" r="2.6" fill="#1874CD" fill-opacity="0.55"/><circle cx="524.6" cy="222.0" r="2.6" fill="#1874CD" fill-opacity="0.55"/><circle cx="530.5" cy="205.5" r="2.6" fill="#1874CD" fill-opacity="0.55"/><circle cx="544.0" cy="154.9" r="2.6" fill="#1874CD" fill-opacity="0.55"/><circle cx="530.2" cy="192.3" r="2.6" fill="#1874CD" fill-opacity="0.55"/><circle cx="539.5" cy="178.9" r="2.6" fill="#1874CD" fill-opacity="0.55"/><circle cx="554.9" cy="215.0" r="2.6" fill="#1874CD" fill-opacity="0.55"/><circle cx="526.9" cy="213.7" r="2.6" fill="#1874CD" fill-opacity="0.55"/><circle cx="527.5" cy="203.7" r="2.6" fill="#1874CD" fill-opacity="0.55"/><circle cx="553.2" cy="125.7" r="2.6" fill="#1874CD" fill-opacity="0.55"/><circle cx="551.9" cy="225.7" r="2.6" fill="#1874CD" fill-opacity="0.55"/><circle cx="529.7" cy="188.4" r="2.6" fill="#1874CD" fill-opacity="0.55"/><circle cx="547.7" cy="158.3" r="2.6" fill="#1874CD" fill-opacity="0.55"/><circle cx="537.3" cy="148.8" r="2.6" fill="#1874CD" fill-opacity="0.55"/><circle cx="544.7" cy="197.4" r="2.6" fill="#1874CD" fill-opacity="0.55"/><circle cx="540.7" cy="116.7" r="2.6" fill="#1874CD" fill-opacity="0.55"/><circle cx="534.6" cy="147.2" r="2.6" fill="#1874CD" fill-opacity="0.55"/><circle cx="553.3" cy="215.3" r="2.6" fill="#1874CD" fill-opacity="0.55"/><circle cx="532.2" cy="148.5" r="2.6" fill="#1874CD" fill-opacity="0.55"/><circle cx="549.9" cy="150.4" r="2.6" fill="#1874CD" fill-opacity="0.55"/><circle cx="547.4" cy="128.9" r="2.6" fill="#1874CD" fill-opacity="0.55"/><circle cx="548.2" cy="107.9" r="2.6" fill="#1874CD" fill-opacity="0.55"/><circle cx="532.2" cy="205.6" r="2.6" fill="#1874CD" fill-opacity="0.55"/><circle cx="531.7" cy="160.4" r="2.6" fill="#1874CD" fill-opacity="0.55"/><circle cx="537.4" cy="209.1" r="2.6" fill="#1874CD" fill-opacity="0.55"/><circle cx="548.9" cy="227.1" r="2.6" fill="#1874CD" fill-opacity="0.55"/><circle cx="553.9" cy="229.7" r="2.6" fill="#1874CD" fill-opacity="0.55"/><circle cx="536.4" cy="215.6" r="2.6" fill="#1874CD" fill-opacity="0.55"/><circle cx="528.4" cy="223.9" r="2.6" fill="#1874CD" fill-opacity="0.55"/><circle cx="538.7" cy="103.2" r="2.6" fill="#1874CD" fill-opacity="0.55"/><circle cx="531.4" cy="155.7" r="2.6" fill="#1874CD" fill-opacity="0.55"/><circle cx="541.6" cy="212.8" r="2.6" fill="#1874CD" fill-opacity="0.55"/><circle cx="529.8" cy="200.2" r="2.6" fill="#1874CD" fill-opacity="0.55"/><circle cx="540.0" cy="153.0" r="2.6" fill="#1874CD" fill-opacity="0.55"/><circle cx="544.3" cy="143.8" r="2.6" fill="#1874CD" fill-opacity="0.55"/><circle cx="534.3" cy="134.5" r="2.6" fill="#1874CD" fill-opacity="0.55"/><circle cx="551.2" cy="147.3" r="2.6" fill="#1874CD" fill-opacity="0.55"/><circle cx="524.9" cy="207.9" r="2.6" fill="#1874CD" fill-opacity="0.55"/><circle cx="538.2" cy="145.0" r="2.6" fill="#1874CD" fill-opacity="0.55"/><circle cx="538.5" cy="208.9" r="2.6" fill="#1874CD" fill-opacity="0.55"/><circle cx="551.7" cy="199.4" r="2.6" fill="#1874CD" fill-opacity="0.55"/><circle cx="537.1" cy="172.0" r="2.6" fill="#1874CD" fill-opacity="0.55"/><circle cx="539.3" cy="212.7" r="2.6" fill="#1874CD" fill-opacity="0.55"/><circle cx="542.3" cy="181.3" r="2.6" fill="#1874CD" fill-opacity="0.55"/><circle cx="534.2" cy="231.1" r="2.6" fill="#1874CD" fill-opacity="0.55"/><circle cx="540.5" cy="116.6" r="2.6" fill="#1874CD" fill-opacity="0.55"/><circle cx="538.0" cy="200.8" r="2.6" fill="#1874CD" fill-opacity="0.55"/><circle cx="551.4" cy="97.0" r="2.6" fill="#1874CD" fill-opacity="0.55"/><circle cx="546.3" cy="221.2" r="2.6" fill="#1874CD" fill-opacity="0.55"/><circle cx="545.5" cy="200.2" r="2.6" fill="#1874CD" fill-opacity="0.55"/><circle cx="553.1" cy="171.2" r="2.6" fill="#1874CD" fill-opacity="0.55"/><circle cx="537.7" cy="144.2" r="2.6" fill="#1874CD" fill-opacity="0.55"/><circle cx="551.4" cy="229.2" r="2.6" fill="#1874CD" fill-opacity="0.55"/><circle cx="536.6" cy="135.0" r="2.6" fill="#1874CD" fill-opacity="0.55"/><circle cx="535.4" cy="163.4" r="2.6" fill="#1874CD" fill-opacity="0.55"/><circle cx="541.6" cy="230.0" r="2.6" fill="#1874CD" fill-opacity="0.55"/><circle cx="552.2" cy="214.1" r="2.6" fill="#1874CD" fill-opacity="0.55"/><circle cx="529.8" cy="161.5" r="2.6" fill="#1874CD" fill-opacity="0.55"/><circle cx="542.0" cy="145.8" r="2.6" fill="#1874CD" fill-opacity="0.55"/><circle cx="546.2" cy="215.8" r="2.6" fill="#1874CD" fill-opacity="0.55"/><circle cx="548.1" cy="223.9" r="2.6" fill="#1874CD" fill-opacity="0.55"/><circle cx="525.0" cy="233.8" r="2.6" fill="#1874CD" fill-opacity="0.55"/><circle cx="545.7" cy="163.4" r="2.6" fill="#1874CD" fill-opacity="0.55"/><circle cx="547.4" cy="168.6" r="2.6" fill="#1874CD" fill-opacity="0.55"/><circle cx="539.2" cy="190.4" r="2.6" fill="#1874CD" fill-opacity="0.55"/><circle cx="554.0" cy="231.4" r="2.6" fill="#1874CD" fill-opacity="0.55"/><circle cx="549.9" cy="216.9" r="2.6" fill="#1874CD" fill-opacity="0.55"/><circle cx="540.7" cy="106.6" r="2.6" fill="#1874CD" fill-opacity="0.55"/><circle cx="549.7" cy="215.4" r="2.6" fill="#1874CD" fill-opacity="0.55"/><circle cx="538.0" cy="223.3" r="2.6" fill="#1874CD" fill-opacity="0.55"/><circle cx="536.6" cy="192.3" r="2.6" fill="#1874CD" fill-opacity="0.55"/><circle cx="544.9" cy="148.4" r="2.6" fill="#1874CD" fill-opacity="0.55"/><circle cx="523.8" cy="224.3" r="2.6" fill="#1874CD" fill-opacity="0.55"/><circle cx="548.6" cy="161.9" r="2.6" fill="#1874CD" fill-opacity="0.55"/><circle cx="536.8" cy="193.0" r="2.6" fill="#1874CD" fill-opacity="0.55"/><circle cx="534.9" cy="130.9" r="2.6" fill="#1874CD" fill-opacity="0.55"/><circle cx="529.0" cy="155.2" r="2.6" fill="#1874CD" fill-opacity="0.55"/><circle cx="552.4" cy="192.4" r="2.6" fill="#1874CD" fill-opacity="0.55"/><circle cx="550.8" cy="182.8" r="2.6" fill="#1874CD" fill-opacity="0.55"/><circle cx="542.2" cy="146.5" r="2.6" fill="#1874CD" fill-opacity="0.55"/><circle cx="552.3" cy="191.2" r="2.6" fill="#1874CD" fill-opacity="0.55"/><circle cx="548.8" cy="232.8" r="2.6" fill="#1874CD" fill-opacity="0.55"/><circle cx="555.0" cy="161.5" r="2.6" fill="#1874CD" fill-opacity="0.55"/><circle cx="542.3" cy="187.0" r="2.6" fill="#1874CD" fill-opacity="0.55"/><circle cx="542.2" cy="147.8" r="2.6" fill="#1874CD" fill-opacity="0.55"/><circle cx="549.6" cy="185.0" r="2.6" fill="#1874CD" fill-opacity="0.55"/><circle cx="541.6" cy="217.5" r="2.6" fill="#1874CD" fill-opacity="0.55"/><circle cx="555.0" cy="161.9" r="2.6" fill="#1874CD" fill-opacity="0.55"/><circle cx="532.5" cy="146.1" r="2.6" fill="#1874CD" fill-opacity="0.55"/><circle cx="534.8" cy="135.1" r="2.6" fill="#1874CD" fill-opacity="0.55"/><circle cx="534.9" cy="113.7" r="2.6" fill="#1874CD" fill-opacity="0.55"/><circle cx="535.8" cy="210.3" r="2.6" fill="#1874CD" fill-opacity="0.55"/><circle cx="554.5" cy="123.9" r="2.6" fill="#1874CD" fill-opacity="0.55"/><circle cx="531.7" cy="223.6" r="2.6" fill="#1874CD" fill-opacity="0.55"/><circle cx="538.0" cy="170.7" r="2.6" fill="#1874CD" fill-opacity="0.55"/><circle cx="539.6" cy="105.3" r="2.6" fill="#1874CD" fill-opacity="0.55"/><circle cx="531.1" cy="212.2" r="2.6" fill="#1874CD" fill-opacity="0.55"/><circle cx="545.2" cy="180.8" r="2.6" fill="#1874CD" fill-opacity="0.55"/><circle cx="546.5" cy="103.9" r="2.6" fill="#1874CD" fill-opacity="0.55"/><circle cx="546.8" cy="215.7" r="2.6" fill="#1874CD" fill-opacity="0.55"/><circle cx="547.7" cy="118.5" r="2.6" fill="#1874CD" fill-opacity="0.55"/><circle cx="542.6" cy="182.2" r="2.6" fill="#1874CD" fill-opacity="0.55"/><circle cx="554.2" cy="168.7" r="2.6" fill="#1874CD" fill-opacity="0.55"/><circle cx="554.7" cy="150.8" r="2.6" fill="#1874CD" fill-opacity="0.55"/><circle cx="544.1" cy="133.0" r="2.6" fill="#1874CD" fill-opacity="0.55"/><circle cx="531.7" cy="182.5" r="2.6" fill="#1874CD" fill-opacity="0.55"/><circle cx="544.0" cy="225.0" r="2.6" fill="#1874CD" fill-opacity="0.55"/><circle cx="551.5" cy="227.3" r="2.6" fill="#1874CD" fill-opacity="0.55"/><circle cx="549.4" cy="108.8" r="2.6" fill="#1874CD" fill-opacity="0.55"/><circle cx="553.6" cy="114.1" r="2.6" fill="#1874CD" fill-opacity="0.55"/><circle cx="549.2" cy="166.7" r="2.6" fill="#1874CD" fill-opacity="0.55"/><circle cx="552.8" cy="192.6" r="2.6" fill="#1874CD" fill-opacity="0.55"/><circle cx="545.9" cy="196.0" r="2.6" fill="#1874CD" fill-opacity="0.55"/><circle cx="547.6" cy="178.5" r="2.6" fill="#1874CD" fill-opacity="0.55"/><circle cx="539.3" cy="135.3" r="2.6" fill="#1874CD" fill-opacity="0.55"/><circle cx="551.5" cy="145.8" r="2.6" fill="#1874CD" fill-opacity="0.55"/><circle cx="546.9" cy="235.9" r="2.6" fill="#1874CD" fill-opacity="0.55"/><circle cx="542.5" cy="232.2" r="2.6" fill="#1874CD" fill-opacity="0.55"/><circle cx="538.2" cy="155.8" r="2.6" fill="#1874CD" fill-opacity="0.55"/><circle cx="539.5" cy="110.7" r="2.6" fill="#1874CD" fill-opacity="0.55"/><circle cx="542.1" cy="220.6" r="2.6" fill="#1874CD" fill-opacity="0.55"/><circle cx="545.2" cy="129.1" r="2.6" fill="#1874CD" fill-opacity="0.55"/><circle cx="549.7" cy="199.6" r="2.6" fill="#1874CD" fill-opacity="0.55"/><circle cx="526.8" cy="233.8" r="2.6" fill="#1874CD" fill-opacity="0.55"/><circle cx="552.7" cy="173.1" r="2.6" fill="#1874CD" fill-opacity="0.55"/><circle cx="534.0" cy="225.7" r="2.6" fill="#1874CD" fill-opacity="0.55"/><circle cx="551.3" cy="146.4" r="2.6" fill="#1874CD" fill-opacity="0.55"/><circle cx="536.1" cy="183.8" r="2.6" fill="#1874CD" fill-opacity="0.55"/><circle cx="529.7" cy="152.0" r="2.6" fill="#1874CD" fill-opacity="0.55"/><circle cx="539.6" cy="197.9" r="2.6" fill="#1874CD" fill-opacity="0.55"/><circle cx="545.0" cy="127.9" r="2.6" fill="#1874CD" fill-opacity="0.55"/><circle cx="537.8" cy="136.1" r="2.6" fill="#1874CD" fill-opacity="0.55"/><circle cx="525.6" cy="229.3" r="2.6" fill="#1874CD" fill-opacity="0.55"/><circle cx="551.3" cy="151.5" r="2.6" fill="#1874CD" fill-opacity="0.55"/><circle cx="527.2" cy="199.5" r="2.6" fill="#1874CD" fill-opacity="0.55"/><circle cx="548.7" cy="182.4" r="2.6" fill="#1874CD" fill-opacity="0.55"/><circle cx="541.6" cy="187.7" r="2.6" fill="#1874CD" fill-opacity="0.55"/><circle cx="549.4" cy="115.5" r="2.6" fill="#1874CD" fill-opacity="0.55"/><circle cx="544.5" cy="211.2" r="2.6" fill="#1874CD" fill-opacity="0.55"/><circle cx="552.3" cy="215.0" r="2.6" fill="#1874CD" fill-opacity="0.55"/><circle cx="548.7" cy="126.8" r="2.6" fill="#1874CD" fill-opacity="0.55"/><circle cx="537.5" cy="236.6" r="2.6" fill="#1874CD" fill-opacity="0.55"/><circle cx="536.1" cy="219.5" r="2.6" fill="#1874CD" fill-opacity="0.55"/><circle cx="547.1" cy="221.8" r="2.6" fill="#1874CD" fill-opacity="0.55"/><circle cx="530.7" cy="183.9" r="2.6" fill="#1874CD" fill-opacity="0.55"/><circle cx="544.4" cy="231.7" r="2.6" fill="#1874CD" fill-opacity="0.55"/><circle cx="549.1" cy="201.4" r="2.6" fill="#1874CD" fill-opacity="0.55"/><circle cx="537.0" cy="158.9" r="2.6" fill="#1874CD" fill-opacity="0.55"/><circle cx="548.2" cy="177.2" r="2.6" fill="#1874CD" fill-opacity="0.55"/><circle cx="526.1" cy="213.9" r="2.6" fill="#1874CD" fill-opacity="0.55"/><circle cx="550.8" cy="174.9" r="2.6" fill="#1874CD" fill-opacity="0.55"/><circle cx="530.8" cy="215.6" r="2.6" fill="#1874CD" fill-opacity="0.55"/><circle cx="543.3" cy="186.1" r="2.6" fill="#1874CD" fill-opacity="0.55"/><circle cx="550.0" cy="230.4" r="2.6" fill="#1874CD" fill-opacity="0.55"/><circle cx="540.4" cy="154.3" r="2.6" fill="#1874CD" fill-opacity="0.55"/><circle cx="548.8" cy="220.1" r="2.6" fill="#1874CD" fill-opacity="0.55"/><circle cx="529.8" cy="183.6" r="2.6" fill="#1874CD" fill-opacity="0.55"/><circle cx="546.8" cy="135.9" r="2.6" fill="#1874CD" fill-opacity="0.55"/><circle cx="531.3" cy="204.2" r="2.6" fill="#1874CD" fill-opacity="0.55"/><circle cx="550.9" cy="192.7" r="2.6" fill="#1874CD" fill-opacity="0.55"/><circle cx="533.2" cy="232.0" r="2.6" fill="#1874CD" fill-opacity="0.55"/><circle cx="530.2" cy="188.2" r="2.6" fill="#1874CD" fill-opacity="0.55"/><circle cx="542.1" cy="130.5" r="2.6" fill="#1874CD" fill-opacity="0.55"/><circle cx="547.8" cy="116.2" r="2.6" fill="#1874CD" fill-opacity="0.55"/><circle cx="530.7" cy="147.8" r="2.6" fill="#1874CD" fill-opacity="0.55"/><circle cx="549.5" cy="214.9" r="2.6" fill="#1874CD" fill-opacity="0.55"/><circle cx="541.9" cy="229.3" r="2.6" fill="#1874CD" fill-opacity="0.55"/><circle cx="541.2" cy="142.1" r="2.6" fill="#1874CD" fill-opacity="0.55"/><circle cx="540.8" cy="131.2" r="2.6" fill="#1874CD" fill-opacity="0.55"/><circle cx="550.7" cy="198.7" r="2.6" fill="#1874CD" fill-opacity="0.55"/><circle cx="536.2" cy="216.6" r="2.6" fill="#1874CD" fill-opacity="0.55"/><circle cx="539.0" cy="182.3" r="2.6" fill="#1874CD" fill-opacity="0.55"/><circle cx="544.4" cy="175.5" r="2.6" fill="#1874CD" fill-opacity="0.55"/><circle cx="536.4" cy="222.3" r="2.6" fill="#1874CD" fill-opacity="0.55"/><circle cx="531.4" cy="177.9" r="2.6" fill="#1874CD" fill-opacity="0.55"/><circle cx="536.8" cy="121.4" r="2.6" fill="#1874CD" fill-opacity="0.55"/><circle cx="539.2" cy="120.5" r="2.6" fill="#1874CD" fill-opacity="0.55"/><circle cx="541.8" cy="185.0" r="2.6" fill="#1874CD" fill-opacity="0.55"/><circle cx="542.2" cy="138.1" r="2.6" fill="#1874CD" fill-opacity="0.55"/><circle cx="544.8" cy="126.7" r="2.6" fill="#1874CD" fill-opacity="0.55"/><circle cx="541.3" cy="234.9" r="2.6" fill="#1874CD" fill-opacity="0.55"/><circle cx="540.1" cy="205.5" r="2.6" fill="#1874CD" fill-opacity="0.55"/><circle cx="534.1" cy="157.6" r="2.6" fill="#1874CD" fill-opacity="0.55"/><circle cx="554.7" cy="166.6" r="2.6" fill="#1874CD" fill-opacity="0.55"/><circle cx="542.5" cy="150.8" r="2.6" fill="#1874CD" fill-opacity="0.55"/><circle cx="545.8" cy="183.8" r="2.6" fill="#1874CD" fill-opacity="0.55"/><circle cx="536.2" cy="201.7" r="2.6" fill="#1874CD" fill-opacity="0.55"/><circle cx="542.9" cy="174.1" r="2.6" fill="#1874CD" fill-opacity="0.55"/><circle cx="540.4" cy="108.9" r="2.6" fill="#1874CD" fill-opacity="0.55"/><circle cx="545.3" cy="157.0" r="2.6" fill="#1874CD" fill-opacity="0.55"/><circle cx="537.8" cy="119.7" r="2.6" fill="#1874CD" fill-opacity="0.55"/><circle cx="551.5" cy="121.3" r="2.6" fill="#1874CD" fill-opacity="0.55"/><circle cx="552.2" cy="159.9" r="2.6" fill="#1874CD" fill-opacity="0.55"/><circle cx="537.0" cy="119.3" r="2.6" fill="#1874CD" fill-opacity="0.55"/><circle cx="536.4" cy="219.9" r="2.6" fill="#1874CD" fill-opacity="0.55"/><circle cx="539.7" cy="163.2" r="2.6" fill="#1874CD" fill-opacity="0.55"/><circle cx="548.3" cy="181.4" r="2.6" fill="#1874CD" fill-opacity="0.55"/><circle cx="553.8" cy="181.3" r="2.6" fill="#1874CD" fill-opacity="0.55"/><circle cx="540.0" cy="219.6" r="2.6" fill="#1874CD" fill-opacity="0.55"/><circle cx="543.4" cy="165.5" r="2.6" fill="#1874CD" fill-opacity="0.55"/><circle cx="536.3" cy="156.1" r="2.6" fill="#1874CD" fill-opacity="0.55"/><circle cx="530.6" cy="184.4" r="2.6" fill="#1874CD" fill-opacity="0.55"/><circle cx="548.4" cy="210.6" r="2.6" fill="#1874CD" fill-opacity="0.55"/><circle cx="554.5" cy="173.9" r="2.6" fill="#1874CD" fill-opacity="0.55"/><circle cx="530.1" cy="197.6" r="2.6" fill="#1874CD" fill-opacity="0.55"/><circle cx="530.4" cy="220.0" r="2.6" fill="#1874CD" fill-opacity="0.55"/><circle cx="535.1" cy="178.3" r="2.6" fill="#1874CD" fill-opacity="0.55"/><circle cx="540.0" cy="175.9" r="2.6" fill="#1874CD" fill-opacity="0.55"/><circle cx="549.2" cy="135.3" r="2.6" fill="#1874CD" fill-opacity="0.55"/><circle cx="550.0" cy="98.8" r="2.6" fill="#1874CD" fill-opacity="0.55"/><circle cx="532.2" cy="166.0" r="2.6" fill="#1874CD" fill-opacity="0.55"/><circle cx="543.4" cy="217.8" r="2.6" fill="#1874CD" fill-opacity="0.55"/><circle cx="552.3" cy="191.9" r="2.6" fill="#1874CD" fill-opacity="0.55"/><circle cx="534.1" cy="164.4" r="2.6" fill="#1874CD" fill-opacity="0.55"/><circle cx="552.7" cy="164.8" r="2.6" fill="#1874CD" fill-opacity="0.55"/><circle cx="538.1" cy="210.7" r="2.6" fill="#1874CD" fill-opacity="0.55"/><circle cx="541.4" cy="109.0" r="2.6" fill="#1874CD" fill-opacity="0.55"/><circle cx="544.7" cy="128.4" r="2.6" fill="#1874CD" fill-opacity="0.55"/><circle cx="541.3" cy="203.0" r="2.6" fill="#1874CD" fill-opacity="0.55"/><circle cx="532.8" cy="238.0" r="2.6" fill="#1874CD" fill-opacity="0.55"/><circle cx="538.7" cy="121.3" r="2.6" fill="#1874CD" fill-opacity="0.55"/><circle cx="543.3" cy="110.7" r="2.6" fill="#1874CD" fill-opacity="0.55"/><circle cx="547.4" cy="159.6" r="2.6" fill="#1874CD" fill-opacity="0.55"/><circle cx="544.5" cy="237.8" r="2.6" fill="#1874CD" fill-opacity="0.55"/><circle cx="536.5" cy="172.7" r="2.6" fill="#1874CD" fill-opacity="0.55"/><circle cx="549.8" cy="208.0" r="2.6" fill="#1874CD" fill-opacity="0.55"/><circle cx="547.9" cy="110.8" r="2.6" fill="#1874CD" fill-opacity="0.55"/><circle cx="538.7" cy="122.3" r="2.6" fill="#1874CD" fill-opacity="0.55"/><circle cx="531.1" cy="230.4" r="2.6" fill="#1874CD" fill-opacity="0.55"/><circle cx="549.1" cy="230.6" r="2.6" fill="#1874CD" fill-opacity="0.55"/><circle cx="547.5" cy="166.1" r="2.6" fill="#1874CD" fill-opacity="0.55"/><circle cx="552.7" cy="194.0" r="2.6" fill="#1874CD" fill-opacity="0.55"/><circle cx="539.2" cy="146.8" r="2.6" fill="#1874CD" fill-opacity="0.55"/><circle cx="547.6" cy="97.0" r="2.6" fill="#1874CD" fill-opacity="0.55"/><circle cx="538.8" cy="117.0" r="2.6" fill="#1874CD" fill-opacity="0.55"/><circle cx="530.1" cy="153.5" r="2.6" fill="#1874CD" fill-opacity="0.55"/><circle cx="541.7" cy="157.4" r="2.6" fill="#1874CD" fill-opacity="0.55"/><circle cx="535.9" cy="207.7" r="2.6" fill="#1874CD" fill-opacity="0.55"/><circle cx="553.5" cy="164.4" r="2.6" fill="#1874CD" fill-opacity="0.55"/><circle cx="552.2" cy="233.4" r="2.6" fill="#1874CD" fill-opacity="0.55"/><circle cx="543.9" cy="102.5" r="2.6" fill="#1874CD" fill-opacity="0.55"/><circle cx="547.8" cy="205.3" r="2.6" fill="#1874CD" fill-opacity="0.55"/><circle cx="538.7" cy="210.1" r="2.6" fill="#1874CD" fill-opacity="0.55"/><circle cx="539.3" cy="122.3" r="2.6" fill="#1874CD" fill-opacity="0.55"/><circle cx="541.6" cy="161.6" r="2.6" fill="#1874CD" fill-opacity="0.55"/><circle cx="540.6" cy="188.0" r="2.6" fill="#1874CD" fill-opacity="0.55"/><circle cx="550.0" cy="171.7" r="2.6" fill="#1874CD" fill-opacity="0.55"/><circle cx="554.8" cy="214.0" r="2.6" fill="#1874CD" fill-opacity="0.55"/><circle cx="544.8" cy="174.7" r="2.6" fill="#1874CD" fill-opacity="0.55"/><circle cx="529.9" cy="183.3" r="2.6" fill="#1874CD" fill-opacity="0.55"/><circle cx="542.0" cy="157.2" r="2.6" fill="#1874CD" fill-opacity="0.55"/><circle cx="531.8" cy="195.3" r="2.6" fill="#1874CD" fill-opacity="0.55"/><circle cx="532.3" cy="140.7" r="2.6" fill="#1874CD" fill-opacity="0.55"/><circle cx="536.0" cy="186.1" r="2.6" fill="#1874CD" fill-opacity="0.55"/><circle cx="547.4" cy="211.3" r="2.6" fill="#1874CD" fill-opacity="0.55"/><circle cx="554.3" cy="159.9" r="2.6" fill="#1874CD" fill-opacity="0.55"/><circle cx="535.6" cy="175.4" r="2.6" fill="#1874CD" fill-opacity="0.55"/><circle cx="530.9" cy="163.9" r="2.6" fill="#1874CD" fill-opacity="0.55"/><circle cx="526.1" cy="224.7" r="2.6" fill="#1874CD" fill-opacity="0.55"/><circle cx="548.2" cy="135.8" r="2.6" fill="#1874CD" fill-opacity="0.55"/><circle cx="551.3" cy="105.7" r="2.6" fill="#1874CD" fill-opacity="0.55"/><circle cx="553.2" cy="192.0" r="2.6" fill="#1874CD" fill-opacity="0.55"/><circle cx="549.7" cy="121.4" r="2.6" fill="#1874CD" fill-opacity="0.55"/><circle cx="538.3" cy="212.4" r="2.6" fill="#1874CD" fill-opacity="0.55"/><circle cx="544.0" cy="116.1" r="2.6" fill="#1874CD" fill-opacity="0.55"/><circle cx="541.3" cy="197.6" r="2.6" fill="#1874CD" fill-opacity="0.55"/><circle cx="553.2" cy="199.0" r="2.6" fill="#1874CD" fill-opacity="0.55"/><circle cx="551.0" cy="121.6" r="2.6" fill="#1874CD" fill-opacity="0.55"/><circle cx="540.1" cy="181.4" r="2.6" fill="#1874CD" fill-opacity="0.55"/><circle cx="537.3" cy="125.3" r="2.6" fill="#1874CD" fill-opacity="0.55"/><circle cx="542.7" cy="217.8" r="2.6" fill="#1874CD" fill-opacity="0.55"/><circle cx="530.1" cy="163.0" r="2.6" fill="#1874CD" fill-opacity="0.55"/><circle cx="533.4" cy="178.7" r="2.6" fill="#1874CD" fill-opacity="0.55"/><circle cx="546.4" cy="153.4" r="2.6" fill="#1874CD" fill-opacity="0.55"/><circle cx="542.1" cy="189.8" r="2.6" fill="#1874CD" fill-opacity="0.55"/><circle cx="551.9" cy="145.6" r="2.6" fill="#1874CD" fill-opacity="0.55"/><circle cx="529.8" cy="231.7" r="2.6" fill="#1874CD" fill-opacity="0.55"/><circle cx="527.5" cy="200.3" r="2.6" fill="#1874CD" fill-opacity="0.55"/><circle cx="534.5" cy="149.9" r="2.6" fill="#1874CD" fill-opacity="0.55"/><circle cx="548.4" cy="146.4" r="2.6" fill="#1874CD" fill-opacity="0.55"/><circle cx="536.0" cy="234.9" r="2.6" fill="#1874CD" fill-opacity="0.55"/><circle cx="545.3" cy="215.8" r="2.6" fill="#1874CD" fill-opacity="0.55"/><circle cx="552.9" cy="154.9" r="2.6" fill="#1874CD" fill-opacity="0.55"/><circle cx="532.6" cy="184.7" r="2.6" fill="#1874CD" fill-opacity="0.55"/><circle cx="547.0" cy="106.6" r="2.6" fill="#1874CD" fill-opacity="0.55"/><circle cx="537.9" cy="216.0" r="2.6" fill="#1874CD" fill-opacity="0.55"/><circle cx="526.5" cy="191.0" r="2.6" fill="#1874CD" fill-opacity="0.55"/><circle cx="542.4" cy="154.9" r="2.6" fill="#1874CD" fill-opacity="0.55"/><circle cx="536.7" cy="134.7" r="2.6" fill="#1874CD" fill-opacity="0.55"/><circle cx="553.9" cy="145.7" r="2.6" fill="#1874CD" fill-opacity="0.55"/><circle cx="539.6" cy="191.5" r="2.6" fill="#1874CD" fill-opacity="0.55"/><circle cx="545.9" cy="166.6" r="2.6" fill="#1874CD" fill-opacity="0.55"/><circle cx="544.3" cy="109.2" r="2.6" fill="#1874CD" fill-opacity="0.55"/><circle cx="539.2" cy="204.0" r="2.6" fill="#1874CD" fill-opacity="0.55"/><circle cx="538.1" cy="138.3" r="2.6" fill="#1874CD" fill-opacity="0.55"/><circle cx="538.6" cy="170.6" r="2.6" fill="#1874CD" fill-opacity="0.55"/><circle cx="534.7" cy="213.8" r="2.6" fill="#1874CD" fill-opacity="0.55"/><circle cx="536.1" cy="172.9" r="2.6" fill="#1874CD" fill-opacity="0.55"/><circle cx="524.0" cy="229.3" r="2.6" fill="#1874CD" fill-opacity="0.55"/><circle cx="555.3" cy="173.6" r="2.6" fill="#1874CD" fill-opacity="0.55"/><circle cx="541.8" cy="164.0" r="2.6" fill="#1874CD" fill-opacity="0.55"/><circle cx="543.2" cy="159.1" r="2.6" fill="#1874CD" fill-opacity="0.55"/><circle cx="525.3" cy="204.7" r="2.6" fill="#1874CD" fill-opacity="0.55"/><circle cx="531.2" cy="207.4" r="2.6" fill="#1874CD" fill-opacity="0.55"/><circle cx="531.3" cy="151.9" r="2.6" fill="#1874CD" fill-opacity="0.55"/><circle cx="554.0" cy="221.2" r="2.6" fill="#1874CD" fill-opacity="0.55"/><circle cx="553.3" cy="172.9" r="2.6" fill="#1874CD" fill-opacity="0.55"/><circle cx="542.2" cy="154.3" r="2.6" fill="#1874CD" fill-opacity="0.55"/><circle cx="533.1" cy="189.3" r="2.6" fill="#1874CD" fill-opacity="0.55"/><circle cx="538.0" cy="157.0" r="2.6" fill="#1874CD" fill-opacity="0.55"/><circle cx="545.7" cy="119.7" r="2.6" fill="#1874CD" fill-opacity="0.55"/><circle cx="555.1" cy="182.9" r="2.6" fill="#1874CD" fill-opacity="0.55"/><circle cx="547.6" cy="234.0" r="2.6" fill="#1874CD" fill-opacity="0.55"/><circle cx="534.9" cy="203.6" r="2.6" fill="#1874CD" fill-opacity="0.55"/><circle cx="537.3" cy="134.7" r="2.6" fill="#1874CD" fill-opacity="0.55"/><circle cx="546.3" cy="218.7" r="2.6" fill="#1874CD" fill-opacity="0.55"/><circle cx="544.9" cy="107.3" r="2.6" fill="#1874CD" fill-opacity="0.55"/><circle cx="552.9" cy="183.7" r="2.6" fill="#1874CD" fill-opacity="0.55"/><circle cx="538.8" cy="154.7" r="2.6" fill="#1874CD" fill-opacity="0.55"/><circle cx="528.2" cy="209.2" r="2.6" fill="#1874CD" fill-opacity="0.55"/><circle cx="549.6" cy="188.8" r="2.6" fill="#1874CD" fill-opacity="0.55"/><circle cx="553.7" cy="121.9" r="2.6" fill="#1874CD" fill-opacity="0.55"/><circle cx="537.0" cy="119.6" r="2.6" fill="#1874CD" fill-opacity="0.55"/><circle cx="535.8" cy="161.0" r="2.6" fill="#1874CD" fill-opacity="0.55"/><circle cx="543.4" cy="162.4" r="2.6" fill="#1874CD" fill-opacity="0.55"/><circle cx="546.5" cy="139.9" r="2.6" fill="#1874CD" fill-opacity="0.55"/><circle cx="546.2" cy="202.6" r="2.6" fill="#1874CD" fill-opacity="0.55"/><circle cx="525.5" cy="202.1" r="2.6" fill="#1874CD" fill-opacity="0.55"/><circle cx="548.5" cy="184.6" r="2.6" fill="#1874CD" fill-opacity="0.55"/><circle cx="546.3" cy="111.8" r="2.6" fill="#1874CD" fill-opacity="0.55"/><circle cx="535.5" cy="217.5" r="2.6" fill="#1874CD" fill-opacity="0.55"/><circle cx="549.8" cy="216.1" r="2.6" fill="#1874CD" fill-opacity="0.55"/><circle cx="528.5" cy="203.0" r="2.6" fill="#1874CD" fill-opacity="0.55"/><circle cx="553.8" cy="101.1" r="2.6" fill="#1874CD" fill-opacity="0.55"/><circle cx="546.3" cy="204.6" r="2.6" fill="#1874CD" fill-opacity="0.55"/><circle cx="524.1" cy="217.7" r="2.6" fill="#1874CD" fill-opacity="0.55"/><circle cx="552.2" cy="176.7" r="2.6" fill="#1874CD" fill-opacity="0.55"/><circle cx="546.5" cy="188.5" r="2.6" fill="#1874CD" fill-opacity="0.55"/><circle cx="547.2" cy="167.6" r="2.6" fill="#1874CD" fill-opacity="0.55"/><circle cx="537.1" cy="159.6" r="2.6" fill="#1874CD" fill-opacity="0.55"/><circle cx="548.1" cy="179.7" r="2.6" fill="#1874CD" fill-opacity="0.55"/><circle cx="530.7" cy="223.7" r="2.6" fill="#1874CD" fill-opacity="0.55"/><circle cx="541.8" cy="184.3" r="2.6" fill="#1874CD" fill-opacity="0.55"/><circle cx="540.4" cy="199.2" r="2.6" fill="#1874CD" fill-opacity="0.55"/><circle cx="527.2" cy="191.0" r="2.6" fill="#1874CD" fill-opacity="0.55"/><circle cx="533.8" cy="200.7" r="2.6" fill="#1874CD" fill-opacity="0.55"/><circle cx="548.1" cy="203.4" r="2.6" fill="#1874CD" fill-opacity="0.55"/><circle cx="548.1" cy="105.0" r="2.6" fill="#1874CD" fill-opacity="0.55"/><circle cx="541.9" cy="173.3" r="2.6" fill="#1874CD" fill-opacity="0.55"/><circle cx="540.5" cy="170.5" r="2.6" fill="#1874CD" fill-opacity="0.55"/><circle cx="537.8" cy="148.3" r="2.6" fill="#1874CD" fill-opacity="0.55"/><circle cx="544.3" cy="135.3" r="2.6" fill="#1874CD" fill-opacity="0.55"/><circle cx="530.2" cy="202.3" r="2.6" fill="#1874CD" fill-opacity="0.55"/><circle cx="541.6" cy="200.9" r="2.6" fill="#1874CD" fill-opacity="0.55"/><circle cx="539.4" cy="226.0" r="2.6" fill="#1874CD" fill-opacity="0.55"/><circle cx="548.3" cy="147.1" r="2.6" fill="#1874CD" fill-opacity="0.55"/><circle cx="542.7" cy="114.3" r="2.6" fill="#1874CD" fill-opacity="0.55"/><circle cx="534.6" cy="227.3" r="2.6" fill="#1874CD" fill-opacity="0.55"/><circle cx="539.5" cy="144.5" r="2.6" fill="#1874CD" fill-opacity="0.55"/><circle cx="551.0" cy="138.5" r="2.6" fill="#1874CD" fill-opacity="0.55"/><circle cx="554.6" cy="150.2" r="2.6" fill="#1874CD" fill-opacity="0.55"/><circle cx="536.8" cy="234.0" r="2.6" fill="#1874CD" fill-opacity="0.55"/><circle cx="537.5" cy="188.2" r="2.6" fill="#1874CD" fill-opacity="0.55"/><circle cx="552.5" cy="144.2" r="2.6" fill="#1874CD" fill-opacity="0.55"/><circle cx="553.3" cy="226.5" r="2.6" fill="#1874CD" fill-opacity="0.55"/><circle cx="538.6" cy="207.5" r="2.6" fill="#1874CD" fill-opacity="0.55"/><circle cx="540.6" cy="120.4" r="2.6" fill="#1874CD" fill-opacity="0.55"/><circle cx="531.3" cy="232.0" r="2.6" fill="#1874CD" fill-opacity="0.55"/><circle cx="547.2" cy="113.1" r="2.6" fill="#1874CD" fill-opacity="0.55"/><circle cx="552.7" cy="127.3" r="2.6" fill="#1874CD" fill-opacity="0.55"/><circle cx="541.3" cy="152.9" r="2.6" fill="#1874CD" fill-opacity="0.55"/><circle cx="526.2" cy="195.1" r="2.6" fill="#1874CD" fill-opacity="0.55"/><circle cx="541.8" cy="212.7" r="2.6" fill="#1874CD" fill-opacity="0.55"/><circle cx="535.8" cy="146.3" r="2.6" fill="#1874CD" fill-opacity="0.55"/><circle cx="542.5" cy="124.1" r="2.6" fill="#1874CD" fill-opacity="0.55"/><circle cx="538.7" cy="172.7" r="2.6" fill="#1874CD" fill-opacity="0.55"/><circle cx="541.2" cy="140.4" r="2.6" fill="#1874CD" fill-opacity="0.55"/><circle cx="536.7" cy="120.6" r="2.6" fill="#1874CD" fill-opacity="0.55"/><circle cx="529.0" cy="154.5" r="2.6" fill="#1874CD" fill-opacity="0.55"/><circle cx="536.9" cy="233.0" r="2.6" fill="#1874CD" fill-opacity="0.55"/><circle cx="543.1" cy="116.4" r="2.6" fill="#1874CD" fill-opacity="0.55"/><circle cx="541.9" cy="130.1" r="2.6" fill="#1874CD" fill-opacity="0.55"/><circle cx="545.0" cy="219.8" r="2.6" fill="#1874CD" fill-opacity="0.55"/><circle cx="550.4" cy="126.3" r="2.6" fill="#1874CD" fill-opacity="0.55"/><circle cx="541.8" cy="183.8" r="2.6" fill="#1874CD" fill-opacity="0.55"/><circle cx="540.2" cy="129.3" r="2.6" fill="#1874CD" fill-opacity="0.55"/><circle cx="534.5" cy="147.4" r="2.6" fill="#1874CD" fill-opacity="0.55"/><circle cx="551.4" cy="167.2" r="2.6" fill="#1874CD" fill-opacity="0.55"/><circle cx="533.4" cy="203.3" r="2.6" fill="#1874CD" fill-opacity="0.55"/><circle cx="533.4" cy="201.5" r="2.6" fill="#1874CD" fill-opacity="0.55"/><circle cx="525.3" cy="198.3" r="2.6" fill="#1874CD" fill-opacity="0.55"/><circle cx="538.3" cy="211.2" r="2.6" fill="#1874CD" fill-opacity="0.55"/><circle cx="552.2" cy="199.4" r="2.6" fill="#1874CD" fill-opacity="0.55"/><circle cx="546.5" cy="194.4" r="2.6" fill="#1874CD" fill-opacity="0.55"/><circle cx="541.6" cy="190.2" r="2.6" fill="#1874CD" fill-opacity="0.55"/><circle cx="539.5" cy="230.1" r="2.6" fill="#1874CD" fill-opacity="0.55"/><circle cx="532.0" cy="197.8" r="2.6" fill="#1874CD" fill-opacity="0.55"/><circle cx="542.4" cy="152.5" r="2.6" fill="#1874CD" fill-opacity="0.55"/><circle cx="537.4" cy="111.9" r="2.6" fill="#1874CD" fill-opacity="0.55"/><circle cx="554.4" cy="109.1" r="2.6" fill="#1874CD" fill-opacity="0.55"/><circle cx="542.2" cy="183.3" r="2.6" fill="#1874CD" fill-opacity="0.55"/><circle cx="538.6" cy="237.0" r="2.6" fill="#1874CD" fill-opacity="0.55"/><circle cx="536.2" cy="211.9" r="2.6" fill="#1874CD" fill-opacity="0.55"/><circle cx="529.3" cy="212.6" r="2.6" fill="#1874CD" fill-opacity="0.55"/><circle cx="529.2" cy="165.2" r="2.6" fill="#1874CD" fill-opacity="0.55"/><path d="M476.6,237.6 L512.6,237.6 L513.6,255 L516.3,271.5 L518.6,255 L519.8,237.6 L556.2,237.6 L556.0,241 L555.5,249.6 L554.4,259.8 L552.4,263.2 L549.0,268.8 L545.3,273.0 L539.5,278.2 L533.5,282.4 L524.5,285.8 L515.5,287.0 L508.0,285.8 L499.5,282.4 L493.3,277.0 L488.7,271.5 L485.6,266.2 L482.9,260.3 L480.2,255.5 L478.2,246.7 L477.0,241 Z" fill="#BEBEBE"/><circle cx="497.1" cy="238.4" r="2.4" fill="#BEBEBE" fill-opacity="1"/><circle cx="507.1" cy="238.4" r="2.4" fill="#BEBEBE" fill-opacity="1"/><circle cx="526.6" cy="237.7" r="2.4" fill="#BEBEBE" fill-opacity="1"/><circle cx="480.0" cy="238.8" r="2.4" fill="#BEBEBE" fill-opacity="1"/><circle cx="498.7" cy="237.9" r="2.4" fill="#BEBEBE" fill-opacity="1"/><circle cx="554.7" cy="238.3" r="2.4" fill="#BEBEBE" fill-opacity="1"/><circle cx="542.6" cy="238.3" r="2.4" fill="#BEBEBE" fill-opacity="1"/><circle cx="527.6" cy="237.8" r="2.4" fill="#BEBEBE" fill-opacity="1"/><circle cx="527.2" cy="238.8" r="2.4" fill="#BEBEBE" fill-opacity="1"/><circle cx="535.3" cy="238.5" r="2.4" fill="#BEBEBE" fill-opacity="1"/><circle cx="483.9" cy="238.7" r="2.4" fill="#BEBEBE" fill-opacity="1"/><circle cx="523.9" cy="238.0" r="2.4" fill="#BEBEBE" fill-opacity="1"/><circle cx="481.4" cy="238.8" r="2.4" fill="#BEBEBE" fill-opacity="1"/><circle cx="533.6" cy="238.8" r="2.4" fill="#BEBEBE" fill-opacity="1"/><circle cx="533.3" cy="238.9" r="2.4" fill="#BEBEBE" fill-opacity="1"/><circle cx="509.0" cy="238.7" r="2.4" fill="#BEBEBE" fill-opacity="1"/><circle cx="550.1" cy="238.8" r="2.4" fill="#BEBEBE" fill-opacity="1"/><circle cx="486.4" cy="237.8" r="2.4" fill="#BEBEBE" fill-opacity="1"/><circle cx="495.5" cy="239.0" r="2.4" fill="#BEBEBE" fill-opacity="1"/><circle cx="526.6" cy="238.0" r="2.4" fill="#BEBEBE" fill-opacity="1"/><circle cx="508.3" cy="238.1" r="2.4" fill="#BEBEBE" fill-opacity="1"/><circle cx="523.5" cy="238.4" r="2.4" fill="#BEBEBE" fill-opacity="1"/><circle cx="547.7" cy="238.6" r="2.4" fill="#BEBEBE" fill-opacity="1"/><circle cx="549.6" cy="238.8" r="2.4" fill="#BEBEBE" fill-opacity="1"/><circle cx="554.3" cy="238.5" r="2.4" fill="#BEBEBE" fill-opacity="1"/><circle cx="491.4" cy="238.8" r="2.4" fill="#BEBEBE" fill-opacity="1"/><circle cx="552.3" cy="238.9" r="2.4" fill="#BEBEBE" fill-opacity="1"/><circle cx="522.3" cy="238.6" r="2.4" fill="#BEBEBE" fill-opacity="1"/><circle cx="495.0" cy="238.8" r="2.4" fill="#BEBEBE" fill-opacity="1"/><circle cx="522.6" cy="238.0" r="2.4" fill="#BEBEBE" fill-opacity="1"/><circle cx="483.8" cy="238.8" r="2.4" fill="#BEBEBE" fill-opacity="1"/><circle cx="554.2" cy="237.7" r="2.4" fill="#BEBEBE" fill-opacity="1"/><circle cx="539.8" cy="238.2" r="2.4" fill="#BEBEBE" fill-opacity="1"/><circle cx="490.5" cy="238.0" r="2.4" fill="#BEBEBE" fill-opacity="1"/><circle cx="537.4" cy="238.8" r="2.4" fill="#BEBEBE" fill-opacity="1"/><circle cx="554.6" cy="237.7" r="2.4" fill="#BEBEBE" fill-opacity="0.85"/><circle cx="554.6" cy="241.1" r="2.4" fill="#BEBEBE" fill-opacity="0.85"/><circle cx="554.5" cy="246.7" r="2.4" fill="#BEBEBE" fill-opacity="0.85"/><circle cx="553.1" cy="254.4" r="2.4" fill="#BEBEBE" fill-opacity="0.85"/><circle cx="552.2" cy="259.6" r="2.4" fill="#BEBEBE" fill-opacity="0.85"/><circle cx="552.8" cy="259.2" r="2.4" fill="#BEBEBE" fill-opacity="0.85"/><circle cx="550.2" cy="262.1" r="2.4" fill="#BEBEBE" fill-opacity="0.85"/><circle cx="546.3" cy="269.4" r="2.4" fill="#BEBEBE" fill-opacity="0.85"/><circle cx="543.0" cy="271.4" r="2.4" fill="#BEBEBE" fill-opacity="0.85"/><circle cx="538.4" cy="276.2" r="2.4" fill="#BEBEBE" fill-opacity="0.85"/><circle cx="536.0" cy="279.3" r="2.4" fill="#BEBEBE" fill-opacity="0.85"/><circle cx="534.3" cy="279.5" r="2.4" fill="#BEBEBE" fill-opacity="0.85"/><circle cx="530.6" cy="281.8" r="2.4" fill="#BEBEBE" fill-opacity="0.85"/><circle cx="525.7" cy="283.5" r="2.4" fill="#BEBEBE" fill-opacity="0.85"/><circle cx="521.6" cy="285.2" r="2.4" fill="#BEBEBE" fill-opacity="0.85"/><circle cx="517.5" cy="284.7" r="2.4" fill="#BEBEBE" fill-opacity="0.85"/><circle cx="513.2" cy="284.2" r="2.4" fill="#BEBEBE" fill-opacity="0.85"/><circle cx="510.8" cy="285.3" r="2.4" fill="#BEBEBE" fill-opacity="0.85"/><circle cx="506.4" cy="283.3" r="2.4" fill="#BEBEBE" fill-opacity="0.85"/><circle cx="504.4" cy="282.2" r="2.4" fill="#BEBEBE" fill-opacity="0.85"/><circle cx="499.5" cy="278.8" r="2.4" fill="#BEBEBE" fill-opacity="0.85"/><circle cx="495.5" cy="276.8" r="2.4" fill="#BEBEBE" fill-opacity="0.85"/><circle cx="494.4" cy="275.8" r="2.4" fill="#BEBEBE" fill-opacity="0.85"/><circle cx="491.1" cy="272.0" r="2.4" fill="#BEBEBE" fill-opacity="0.85"/><circle cx="488.9" cy="268.9" r="2.4" fill="#BEBEBE" fill-opacity="0.85"/><circle cx="486.1" cy="260.7" r="2.4" fill="#BEBEBE" fill-opacity="0.85"/><circle cx="484.1" cy="259.3" r="2.4" fill="#BEBEBE" fill-opacity="0.85"/><circle cx="481.5" cy="250.7" r="2.4" fill="#BEBEBE" fill-opacity="0.85"/><circle cx="480.4" cy="248.7" r="2.4" fill="#BEBEBE" fill-opacity="0.85"/><circle cx="479.9" cy="244.4" r="2.4" fill="#BEBEBE" fill-opacity="0.85"/><circle cx="475.9" cy="263.5" r="2.4" fill="#BEBEBE" fill-opacity="0.7"/><circle cx="483.6" cy="266.4" r="2.4" fill="#BEBEBE" fill-opacity="0.7"/><circle cx="488.3" cy="271.5" r="2.4" fill="#BEBEBE" fill-opacity="0.7"/><circle cx="478.5" cy="259.0" r="2.4" fill="#BEBEBE" fill-opacity="0.7"/><circle cx="552.0" cy="265.5" r="2.4" fill="#BEBEBE" fill-opacity="0.7"/><circle cx="549.0" cy="270.5" r="2.4" fill="#BEBEBE" fill-opacity="0.7"/><circle cx="493.0" cy="103.3" r="2.6" fill="#1874CD" fill-opacity="0.6"/><circle cx="495.6" cy="108.9" r="2.6" fill="#1874CD" fill-opacity="0.6"/><circle cx="486.0" cy="117.1" r="2.6" fill="#1874CD" fill-opacity="0.6"/><circle cx="492.7" cy="116.6" r="2.6" fill="#1874CD" fill-opacity="0.6"/><circle cx="484.3" cy="125.2" r="2.6" fill="#1874CD" fill-opacity="0.6"/><circle cx="494.4" cy="127.2" r="2.6" fill="#1874CD" fill-opacity="0.6"/><circle cx="494.4" cy="132.3" r="2.6" fill="#1874CD" fill-opacity="0.6"/><circle cx="491.4" cy="139.7" r="2.6" fill="#1874CD" fill-opacity="0.6"/><circle cx="487.1" cy="143.4" r="2.6" fill="#1874CD" fill-opacity="0.6"/><circle cx="494.9" cy="143.7" r="2.6" fill="#1874CD" fill-opacity="0.6"/><circle cx="500.2" cy="144.4" r="2.6" fill="#1874CD" fill-opacity="0.6"/><circle cx="482.1" cy="147.8" r="2.6" fill="#1874CD" fill-opacity="0.6"/><circle cx="480.7" cy="150.1" r="2.6" fill="#1874CD" fill-opacity="0.6"/><circle cx="492.2" cy="147.1" r="2.6" fill="#1874CD" fill-opacity="0.6"/><circle cx="498.9" cy="147.1" r="2.6" fill="#1874CD" fill-opacity="0.6"/><circle cx="497.6" cy="152.8" r="2.6" fill="#1874CD" fill-opacity="0.6"/><circle cx="488.1" cy="148.4" r="2.6" fill="#1874CD" fill-opacity="0.6"/><circle cx="491.5" cy="150.5" r="2.6" fill="#1874CD" fill-opacity="0.6"/><circle cx="486.1" cy="152.8" r="2.6" fill="#1874CD" fill-opacity="0.6"/><circle cx="479.4" cy="155.2" r="2.6" fill="#1874CD" fill-opacity="0.6"/><circle cx="498.9" cy="149.8" r="2.6" fill="#1874CD" fill-opacity="0.6"/><circle cx="546.8" cy="50.0" r="2.6" fill="#1874CD" fill-opacity="0.6"/><circle cx="555.0" cy="64.1" r="2.6" fill="#1874CD" fill-opacity="0.6"/><circle cx="550.3" cy="71.5" r="2.6" fill="#1874CD" fill-opacity="0.6"/><circle cx="552.6" cy="73.3" r="2.6" fill="#1874CD" fill-opacity="0.6"/><circle cx="555.0" cy="74.1" r="2.6" fill="#1874CD" fill-opacity="0.6"/><circle cx="547.4" cy="84.5" r="2.6" fill="#1874CD" fill-opacity="0.6"/><circle cx="552.6" cy="87.4" r="2.6" fill="#1874CD" fill-opacity="0.6"/><circle cx="545.1" cy="87.0" r="2.6" fill="#1874CD" fill-opacity="0.6"/><circle cx="540.7" cy="96.0" r="2.6" fill="#1874CD" fill-opacity="0.6"/><circle cx="537.0" cy="99.0" r="2.6" fill="#1874CD" fill-opacity="0.6"/><circle cx="534.0" cy="105.0" r="2.6" fill="#1874CD" fill-opacity="0.6"/><circle cx="532.0" cy="111.0" r="2.6" fill="#1874CD" fill-opacity="0.6"/><circle cx="533.5" cy="116.0" r="2.6" fill="#1874CD" fill-opacity="0.6"/><circle cx="535.0" cy="121.0" r="2.6" fill="#1874CD" fill-opacity="0.6"/><circle cx="534.0" cy="126.0" r="2.6" fill="#1874CD" fill-opacity="0.6"/><circle cx="531.0" cy="133.0" r="2.6" fill="#1874CD" fill-opacity="0.6"/><circle cx="529.0" cy="138.0" r="2.6" fill="#1874CD" fill-opacity="0.6"/><circle cx="527.0" cy="143.0" r="2.6" fill="#1874CD" fill-opacity="0.6"/><circle cx="534.2" cy="112.2" r="2.6" fill="#1874CD" fill-opacity="0.6"/><circle cx="536.0" cy="118.0" r="2.6" fill="#1874CD" fill-opacity="0.6"/><circle cx="531.0" cy="137.0" r="2.6" fill="#1874CD" fill-opacity="0.6"/><circle cx="492.1" cy="71.1" r="2.6" fill="#1874CD" fill-opacity="0.6"/><circle cx="569.2" cy="180.1" r="2.7" fill="#FFA500" fill-opacity="0.5"/><circle cx="570.8" cy="117.7" r="2.7" fill="#FFA500" fill-opacity="0.5"/><circle cx="557.6" cy="194.6" r="2.7" fill="#FFA500" fill-opacity="0.5"/><circle cx="564.2" cy="214.2" r="2.7" fill="#FFA500" fill-opacity="0.5"/><circle cx="558.7" cy="236.0" r="2.7" fill="#FFA500" fill-opacity="0.5"/><circle cx="557.9" cy="209.9" r="2.7" fill="#FFA500" fill-opacity="0.5"/><circle cx="559.8" cy="204.4" r="2.7" fill="#FFA500" fill-opacity="0.5"/><circle cx="559.8" cy="160.6" r="2.7" fill="#FFA500" fill-opacity="0.5"/><circle cx="565.3" cy="198.3" r="2.7" fill="#FFA500" fill-opacity="0.5"/><circle cx="561.2" cy="208.9" r="2.7" fill="#FFA500" fill-opacity="0.5"/><circle cx="567.6" cy="131.6" r="2.7" fill="#FFA500" fill-opacity="0.5"/><circle cx="562.6" cy="226.0" r="2.7" fill="#FFA500" fill-opacity="0.5"/><circle cx="560.0" cy="216.0" r="2.7" fill="#FFA500" fill-opacity="0.5"/><circle cx="558.3" cy="185.6" r="2.7" fill="#FFA500" fill-opacity="0.5"/><circle cx="559.8" cy="178.9" r="2.7" fill="#FFA500" fill-opacity="0.5"/><circle cx="563.7" cy="166.5" r="2.7" fill="#FFA500" fill-opacity="0.5"/><circle cx="570.5" cy="203.7" r="2.7" fill="#FFA500" fill-opacity="0.5"/><circle cx="573.5" cy="182.4" r="2.7" fill="#FFA500" fill-opacity="0.5"/><circle cx="576.6" cy="176.1" r="2.7" fill="#FFA500" fill-opacity="0.5"/><circle cx="558.9" cy="216.7" r="2.7" fill="#FFA500" fill-opacity="0.5"/><circle cx="558.6" cy="217.5" r="2.7" fill="#FFA500" fill-opacity="0.5"/><circle cx="559.8" cy="152.9" r="2.7" fill="#FFA500" fill-opacity="0.5"/><circle cx="558.7" cy="180.2" r="2.7" fill="#FFA500" fill-opacity="0.5"/><circle cx="560.7" cy="188.1" r="2.7" fill="#FFA500" fill-opacity="0.5"/><circle cx="561.4" cy="199.5" r="2.7" fill="#FFA500" fill-opacity="0.5"/><circle cx="559.3" cy="193.2" r="2.7" fill="#FFA500" fill-opacity="0.5"/><circle cx="560.2" cy="182.9" r="2.7" fill="#FFA500" fill-opacity="0.5"/><circle cx="564.5" cy="211.1" r="2.7" fill="#FFA500" fill-opacity="0.5"/><circle cx="560.5" cy="187.2" r="2.7" fill="#FFA500" fill-opacity="0.5"/><circle cx="566.0" cy="113.5" r="2.7" fill="#FFA500" fill-opacity="0.5"/><circle cx="567.8" cy="206.1" r="2.7" fill="#FFA500" fill-opacity="0.5"/><circle cx="559.6" cy="121.6" r="2.7" fill="#FFA500" fill-opacity="0.5"/><circle cx="560.0" cy="193.3" r="2.7" fill="#FFA500" fill-opacity="0.5"/><circle cx="572.0" cy="201.7" r="2.7" fill="#FFA500" fill-opacity="0.5"/><circle cx="558.8" cy="208.7" r="2.7" fill="#FFA500" fill-opacity="0.5"/><circle cx="559.0" cy="225.4" r="2.7" fill="#FFA500" fill-opacity="0.5"/><circle cx="564.1" cy="107.2" r="2.7" fill="#FFA500" fill-opacity="0.5"/><circle cx="559.3" cy="143.8" r="2.7" fill="#FFA500" fill-opacity="0.5"/><circle cx="568.0" cy="179.7" r="2.7" fill="#FFA500" fill-opacity="0.5"/><circle cx="559.4" cy="207.8" r="2.7" fill="#FFA500" fill-opacity="0.5"/><circle cx="564.2" cy="118.1" r="2.7" fill="#FFA500" fill-opacity="0.5"/><circle cx="569.9" cy="134.2" r="2.7" fill="#FFA500" fill-opacity="0.5"/><circle cx="565.7" cy="118.2" r="2.7" fill="#FFA500" fill-opacity="0.5"/><circle cx="565.3" cy="146.1" r="2.7" fill="#FFA500" fill-opacity="0.5"/><circle cx="559.7" cy="213.6" r="2.7" fill="#FFA500" fill-opacity="0.5"/><circle cx="558.6" cy="236.4" r="2.7" fill="#FFA500" fill-opacity="0.5"/><circle cx="561.8" cy="178.5" r="2.7" fill="#FFA500" fill-opacity="0.5"/><circle cx="569.0" cy="211.4" r="2.7" fill="#FFA500" fill-opacity="0.5"/><circle cx="563.6" cy="110.8" r="2.7" fill="#FFA500" fill-opacity="0.5"/><circle cx="565.5" cy="223.7" r="2.7" fill="#FFA500" fill-opacity="0.5"/><circle cx="571.1" cy="206.9" r="2.7" fill="#FFA500" fill-opacity="0.5"/><circle cx="558.8" cy="178.9" r="2.7" fill="#FFA500" fill-opacity="0.5"/><circle cx="561.5" cy="104.3" r="2.7" fill="#FFA500" fill-opacity="0.5"/><circle cx="569.6" cy="184.2" r="2.7" fill="#FFA500" fill-opacity="0.5"/><circle cx="561.6" cy="182.9" r="2.7" fill="#FFA500" fill-opacity="0.5"/><circle cx="572.3" cy="201.7" r="2.7" fill="#FFA500" fill-opacity="0.5"/><circle cx="560.9" cy="112.9" r="2.7" fill="#FFA500" fill-opacity="0.5"/><circle cx="559.7" cy="114.4" r="2.7" fill="#FFA500" fill-opacity="0.5"/><circle cx="572.1" cy="203.6" r="2.7" fill="#FFA500" fill-opacity="0.5"/><circle cx="560.0" cy="183.3" r="2.7" fill="#FFA500" fill-opacity="0.5"/><circle cx="559.1" cy="137.8" r="2.7" fill="#FFA500" fill-opacity="0.5"/><circle cx="557.6" cy="206.8" r="2.7" fill="#FFA500" fill-opacity="0.5"/><circle cx="565.7" cy="172.1" r="2.7" fill="#FFA500" fill-opacity="0.5"/><circle cx="571.4" cy="188.7" r="2.7" fill="#FFA500" fill-opacity="0.5"/><circle cx="558.0" cy="207.4" r="2.7" fill="#FFA500" fill-opacity="0.5"/><circle cx="563.2" cy="205.2" r="2.7" fill="#FFA500" fill-opacity="0.5"/><circle cx="559.9" cy="189.8" r="2.7" fill="#FFA500" fill-opacity="0.5"/><circle cx="567.8" cy="198.5" r="2.7" fill="#FFA500" fill-opacity="0.5"/><circle cx="558.7" cy="169.8" r="2.7" fill="#FFA500" fill-opacity="0.5"/><circle cx="565.8" cy="148.2" r="2.7" fill="#FFA500" fill-opacity="0.5"/><circle cx="563.1" cy="215.7" r="2.7" fill="#FFA500" fill-opacity="0.5"/><circle cx="565.9" cy="187.7" r="2.7" fill="#FFA500" fill-opacity="0.5"/><circle cx="563.2" cy="222.3" r="2.7" fill="#FFA500" fill-opacity="0.5"/><circle cx="558.4" cy="215.0" r="2.7" fill="#FFA500" fill-opacity="0.5"/><circle cx="570.6" cy="185.4" r="2.7" fill="#FFA500" fill-opacity="0.5"/><circle cx="558.9" cy="195.4" r="2.7" fill="#FFA500" fill-opacity="0.5"/><circle cx="559.0" cy="189.7" r="2.7" fill="#FFA500" fill-opacity="0.5"/><circle cx="560.1" cy="205.3" r="2.7" fill="#FFA500" fill-opacity="0.5"/><circle cx="563.2" cy="232.1" r="2.7" fill="#FFA500" fill-opacity="0.5"/><circle cx="559.4" cy="149.2" r="2.7" fill="#FFA500" fill-opacity="0.5"/><circle cx="565.2" cy="224.1" r="2.7" fill="#FFA500" fill-opacity="0.5"/><circle cx="560.0" cy="207.4" r="2.7" fill="#FFA500" fill-opacity="0.5"/><circle cx="559.7" cy="188.2" r="2.7" fill="#FFA500" fill-opacity="0.5"/><circle cx="571.2" cy="201.0" r="2.7" fill="#FFA500" fill-opacity="0.5"/><circle cx="566.3" cy="145.9" r="2.7" fill="#FFA500" fill-opacity="0.5"/><circle cx="558.9" cy="200.0" r="2.7" fill="#FFA500" fill-opacity="0.5"/><circle cx="560.0" cy="175.0" r="2.7" fill="#FFA500" fill-opacity="0.5"/><circle cx="564.5" cy="213.1" r="2.7" fill="#FFA500" fill-opacity="0.5"/><circle cx="561.0" cy="197.5" r="2.7" fill="#FFA500" fill-opacity="0.5"/><circle cx="558.6" cy="200.5" r="2.7" fill="#FFA500" fill-opacity="0.5"/><circle cx="560.9" cy="169.0" r="2.7" fill="#FFA500" fill-opacity="0.5"/><circle cx="562.6" cy="215.7" r="2.7" fill="#FFA500" fill-opacity="0.5"/><circle cx="565.8" cy="189.9" r="2.7" fill="#FFA500" fill-opacity="0.5"/><circle cx="567.1" cy="195.7" r="2.7" fill="#FFA500" fill-opacity="0.5"/><circle cx="563.1" cy="217.3" r="2.7" fill="#FFA500" fill-opacity="0.5"/><circle cx="558.0" cy="210.9" r="2.7" fill="#FFA500" fill-opacity="0.5"/><circle cx="559.7" cy="151.5" r="2.7" fill="#FFA500" fill-opacity="0.5"/><circle cx="564.0" cy="201.7" r="2.7" fill="#FFA500" fill-opacity="0.5"/><circle cx="567.2" cy="157.0" r="2.7" fill="#FFA500" fill-opacity="0.5"/><circle cx="564.5" cy="229.0" r="2.7" fill="#FFA500" fill-opacity="0.5"/><circle cx="560.7" cy="100.9" r="2.7" fill="#FFA500" fill-opacity="0.5"/><circle cx="563.8" cy="213.9" r="2.7" fill="#FFA500" fill-opacity="0.5"/><circle cx="559.0" cy="194.1" r="2.7" fill="#FFA500" fill-opacity="0.5"/><circle cx="563.2" cy="214.7" r="2.7" fill="#FFA500" fill-opacity="0.5"/><circle cx="563.6" cy="191.6" r="2.7" fill="#FFA500" fill-opacity="0.5"/><circle cx="560.3" cy="204.3" r="2.7" fill="#FFA500" fill-opacity="0.5"/><circle cx="563.0" cy="186.4" r="2.7" fill="#FFA500" fill-opacity="0.5"/><circle cx="558.3" cy="214.2" r="2.7" fill="#FFA500" fill-opacity="0.5"/><circle cx="564.8" cy="185.3" r="2.7" fill="#FFA500" fill-opacity="0.5"/><circle cx="562.8" cy="109.1" r="2.7" fill="#FFA500" fill-opacity="0.5"/><circle cx="561.1" cy="137.7" r="2.7" fill="#FFA500" fill-opacity="0.5"/><circle cx="561.3" cy="200.4" r="2.7" fill="#FFA500" fill-opacity="0.5"/><circle cx="567.3" cy="116.8" r="2.7" fill="#FFA500" fill-opacity="0.5"/><circle cx="563.8" cy="120.9" r="2.7" fill="#FFA500" fill-opacity="0.5"/><circle cx="570.1" cy="131.8" r="2.7" fill="#FFA500" fill-opacity="0.5"/><circle cx="560.1" cy="182.6" r="2.7" fill="#FFA500" fill-opacity="0.5"/><circle cx="571.0" cy="196.4" r="2.7" fill="#FFA500" fill-opacity="0.5"/><circle cx="559.5" cy="203.5" r="2.7" fill="#FFA500" fill-opacity="0.5"/><circle cx="564.0" cy="178.1" r="2.7" fill="#FFA500" fill-opacity="0.5"/><circle cx="558.2" cy="137.7" r="2.7" fill="#FFA500" fill-opacity="0.5"/><circle cx="566.1" cy="226.9" r="2.7" fill="#FFA500" fill-opacity="0.5"/><circle cx="560.7" cy="193.1" r="2.7" fill="#FFA500" fill-opacity="0.5"/><circle cx="578.1" cy="185.5" r="2.7" fill="#FFA500" fill-opacity="0.5"/><circle cx="568.4" cy="192.4" r="2.7" fill="#FFA500" fill-opacity="0.5"/><circle cx="562.5" cy="185.7" r="2.7" fill="#FFA500" fill-opacity="0.5"/><circle cx="558.8" cy="205.2" r="2.7" fill="#FFA500" fill-opacity="0.5"/><circle cx="559.3" cy="208.4" r="2.7" fill="#FFA500" fill-opacity="0.5"/><circle cx="564.7" cy="207.4" r="2.7" fill="#FFA500" fill-opacity="0.5"/><circle cx="564.4" cy="169.7" r="2.7" fill="#FFA500" fill-opacity="0.5"/><circle cx="563.9" cy="213.3" r="2.7" fill="#FFA500" fill-opacity="0.5"/><circle cx="564.1" cy="208.5" r="2.7" fill="#FFA500" fill-opacity="0.5"/><circle cx="557.7" cy="194.1" r="2.7" fill="#FFA500" fill-opacity="0.5"/><circle cx="562.0" cy="218.9" r="2.7" fill="#FFA500" fill-opacity="0.5"/><circle cx="562.0" cy="132.7" r="2.7" fill="#FFA500" fill-opacity="0.5"/><circle cx="568.1" cy="209.4" r="2.7" fill="#FFA500" fill-opacity="0.5"/><circle cx="577.0" cy="195.0" r="2.7" fill="#FFA500" fill-opacity="0.5"/><circle cx="558.2" cy="222.8" r="2.7" fill="#FFA500" fill-opacity="0.5"/><circle cx="561.7" cy="203.1" r="2.7" fill="#FFA500" fill-opacity="0.5"/><circle cx="564.6" cy="135.5" r="2.7" fill="#FFA500" fill-opacity="0.5"/><circle cx="558.0" cy="193.7" r="2.7" fill="#FFA500" fill-opacity="0.5"/><circle cx="561.4" cy="181.0" r="2.7" fill="#FFA500" fill-opacity="0.5"/><circle cx="563.7" cy="224.0" r="2.7" fill="#FFA500" fill-opacity="0.5"/><circle cx="569.6" cy="191.5" r="2.7" fill="#FFA500" fill-opacity="0.5"/><circle cx="573.8" cy="180.2" r="2.7" fill="#FFA500" fill-opacity="0.5"/><circle cx="560.3" cy="213.8" r="2.7" fill="#FFA500" fill-opacity="0.5"/><circle cx="560.3" cy="206.0" r="2.7" fill="#FFA500" fill-opacity="0.5"/><circle cx="557.5" cy="182.4" r="2.7" fill="#FFA500" fill-opacity="0.5"/><circle cx="562.4" cy="202.0" r="2.7" fill="#FFA500" fill-opacity="0.5"/><circle cx="572.2" cy="154.0" r="2.7" fill="#FFA500" fill-opacity="0.5"/><circle cx="559.0" cy="218.5" r="2.7" fill="#FFA500" fill-opacity="0.5"/><circle cx="559.9" cy="206.7" r="2.7" fill="#FFA500" fill-opacity="0.5"/><circle cx="563.4" cy="182.9" r="2.7" fill="#FFA500" fill-opacity="0.5"/><circle cx="561.1" cy="194.8" r="2.7" fill="#FFA500" fill-opacity="0.5"/><circle cx="560.0" cy="161.2" r="2.7" fill="#FFA500" fill-opacity="0.5"/><circle cx="574.7" cy="188.0" r="2.7" fill="#FFA500" fill-opacity="0.5"/><circle cx="558.9" cy="191.6" r="2.7" fill="#FFA500" fill-opacity="0.5"/><circle cx="560.6" cy="203.1" r="2.7" fill="#FFA500" fill-opacity="0.5"/><circle cx="562.0" cy="198.6" r="2.7" fill="#FFA500" fill-opacity="0.5"/><circle cx="567.0" cy="198.4" r="2.7" fill="#FFA500" fill-opacity="0.5"/><circle cx="559.8" cy="195.3" r="2.7" fill="#FFA500" fill-opacity="0.5"/><circle cx="559.0" cy="187.2" r="2.7" fill="#FFA500" fill-opacity="0.5"/><circle cx="562.8" cy="211.2" r="2.7" fill="#FFA500" fill-opacity="0.5"/><circle cx="561.4" cy="212.0" r="2.7" fill="#FFA500" fill-opacity="0.5"/><circle cx="562.3" cy="224.6" r="2.7" fill="#FFA500" fill-opacity="0.5"/><circle cx="565.6" cy="209.0" r="2.7" fill="#FFA500" fill-opacity="0.5"/><circle cx="561.2" cy="145.9" r="2.7" fill="#FFA500" fill-opacity="0.5"/><circle cx="562.0" cy="155.4" r="2.7" fill="#FFA500" fill-opacity="0.5"/><circle cx="560.6" cy="184.4" r="2.7" fill="#FFA500" fill-opacity="0.5"/><circle cx="564.8" cy="221.4" r="2.7" fill="#FFA500" fill-opacity="0.5"/><circle cx="561.2" cy="114.5" r="2.7" fill="#FFA500" fill-opacity="0.5"/><circle cx="564.8" cy="201.3" r="2.7" fill="#FFA500" fill-opacity="0.5"/><circle cx="561.9" cy="209.3" r="2.7" fill="#FFA500" fill-opacity="0.5"/><circle cx="573.6" cy="204.9" r="2.7" fill="#FFA500" fill-opacity="0.5"/><circle cx="560.5" cy="204.2" r="2.7" fill="#FFA500" fill-opacity="0.5"/><circle cx="569.6" cy="180.0" r="2.7" fill="#FFA500" fill-opacity="0.5"/><circle cx="563.2" cy="156.7" r="2.7" fill="#FFA500" fill-opacity="0.5"/><circle cx="560.8" cy="214.2" r="2.7" fill="#FFA500" fill-opacity="0.5"/><circle cx="564.9" cy="196.9" r="2.7" fill="#FFA500" fill-opacity="0.5"/><circle cx="558.7" cy="224.6" r="2.7" fill="#FFA500" fill-opacity="0.5"/><circle cx="558.7" cy="175.7" r="2.7" fill="#FFA500" fill-opacity="0.5"/><circle cx="561.7" cy="193.5" r="2.7" fill="#FFA500" fill-opacity="0.5"/><circle cx="566.6" cy="198.4" r="2.7" fill="#FFA500" fill-opacity="0.5"/><circle cx="561.7" cy="121.1" r="2.7" fill="#FFA500" fill-opacity="0.5"/><circle cx="558.4" cy="165.7" r="2.7" fill="#FFA500" fill-opacity="0.5"/><circle cx="562.7" cy="208.2" r="2.7" fill="#FFA500" fill-opacity="0.5"/><circle cx="564.7" cy="121.2" r="2.7" fill="#FFA500" fill-opacity="0.5"/><circle cx="558.1" cy="202.2" r="2.7" fill="#FFA500" fill-opacity="0.5"/><circle cx="577.6" cy="179.5" r="2.7" fill="#FFA500" fill-opacity="0.5"/><circle cx="565.5" cy="198.2" r="2.7" fill="#FFA500" fill-opacity="0.5"/><circle cx="563.5" cy="155.4" r="2.7" fill="#FFA500" fill-opacity="0.5"/><circle cx="467.1" cy="224.4" r="2.7" fill="#FFA500" fill-opacity="0.5"/><circle cx="464.0" cy="205.4" r="2.7" fill="#FFA500" fill-opacity="0.5"/><circle cx="467.6" cy="237.7" r="2.7" fill="#FFA500" fill-opacity="0.5"/><circle cx="473.0" cy="189.6" r="2.7" fill="#FFA500" fill-opacity="0.5"/><circle cx="475.0" cy="191.6" r="2.7" fill="#FFA500" fill-opacity="0.5"/><circle cx="457.3" cy="194.0" r="2.7" fill="#FFA500" fill-opacity="0.5"/><circle cx="462.9" cy="226.6" r="2.7" fill="#FFA500" fill-opacity="0.5"/><circle cx="473.3" cy="232.3" r="2.7" fill="#FFA500" fill-opacity="0.5"/><circle cx="455.3" cy="223.2" r="2.7" fill="#FFA500" fill-opacity="0.5"/><circle cx="468.4" cy="201.5" r="2.7" fill="#FFA500" fill-opacity="0.5"/><circle cx="470.5" cy="193.0" r="2.7" fill="#FFA500" fill-opacity="0.5"/><circle cx="464.7" cy="195.1" r="2.7" fill="#FFA500" fill-opacity="0.5"/><circle cx="473.0" cy="199.8" r="2.7" fill="#FFA500" fill-opacity="0.5"/><circle cx="473.2" cy="213.4" r="2.7" fill="#FFA500" fill-opacity="0.5"/><circle cx="467.2" cy="228.2" r="2.7" fill="#FFA500" fill-opacity="0.5"/><circle cx="470.7" cy="230.8" r="2.7" fill="#FFA500" fill-opacity="0.5"/><circle cx="470.8" cy="201.0" r="2.7" fill="#FFA500" fill-opacity="0.5"/><circle cx="473.2" cy="196.9" r="2.7" fill="#FFA500" fill-opacity="0.5"/><circle cx="470.7" cy="233.1" r="2.7" fill="#FFA500" fill-opacity="0.5"/><circle cx="468.0" cy="228.6" r="2.7" fill="#FFA500" fill-opacity="0.5"/><circle cx="465.8" cy="229.5" r="2.7" fill="#FFA500" fill-opacity="0.5"/><circle cx="470.3" cy="205.7" r="2.7" fill="#FFA500" fill-opacity="0.5"/><circle cx="474.6" cy="190.5" r="2.7" fill="#FFA500" fill-opacity="0.5"/><circle cx="474.1" cy="196.6" r="2.7" fill="#FFA500" fill-opacity="0.5"/><circle cx="474.4" cy="208.3" r="2.7" fill="#FFA500" fill-opacity="0.5"/><circle cx="460.0" cy="214.3" r="2.7" fill="#FFA500" fill-opacity="0.5"/><circle cx="473.7" cy="235.4" r="2.7" fill="#FFA500" fill-opacity="0.5"/><circle cx="465.6" cy="222.8" r="2.7" fill="#FFA500" fill-opacity="0.5"/><circle cx="461.4" cy="223.6" r="2.7" fill="#FFA500" fill-opacity="0.5"/><circle cx="460.0" cy="195.8" r="2.7" fill="#FFA500" fill-opacity="0.5"/><circle cx="472.3" cy="199.9" r="2.7" fill="#FFA500" fill-opacity="0.5"/><circle cx="463.0" cy="224.8" r="2.7" fill="#FFA500" fill-opacity="0.5"/><circle cx="466.2" cy="228.7" r="2.7" fill="#FFA500" fill-opacity="0.5"/><circle cx="473.5" cy="198.6" r="2.7" fill="#FFA500" fill-opacity="0.5"/><circle cx="472.4" cy="229.1" r="2.7" fill="#FFA500" fill-opacity="0.5"/><circle cx="470.5" cy="212.0" r="2.7" fill="#FFA500" fill-opacity="0.5"/><circle cx="475.0" cy="239.1" r="2.7" fill="#FFA500" fill-opacity="0.5"/><circle cx="474.9" cy="211.2" r="2.7" fill="#FFA500" fill-opacity="0.5"/><circle cx="471.4" cy="200.1" r="2.7" fill="#FFA500" fill-opacity="0.5"/><circle cx="474.1" cy="183.2" r="2.7" fill="#FFA500" fill-opacity="0.5"/><circle cx="472.5" cy="214.6" r="2.7" fill="#FFA500" fill-opacity="0.5"/><circle cx="470.6" cy="207.5" r="2.7" fill="#FFA500" fill-opacity="0.5"/><circle cx="475.4" cy="186.5" r="2.7" fill="#FFA500" fill-opacity="0.5"/><circle cx="470.6" cy="235.9" r="2.7" fill="#FFA500" fill-opacity="0.5"/><circle cx="463.3" cy="217.4" r="2.7" fill="#FFA500" fill-opacity="0.5"/><circle cx="464.8" cy="237.9" r="2.7" fill="#FFA500" fill-opacity="0.5"/><circle cx="474.5" cy="237.4" r="2.7" fill="#FFA500" fill-opacity="0.5"/><circle cx="471.6" cy="215.3" r="2.7" fill="#FFA500" fill-opacity="0.5"/><circle cx="472.7" cy="188.7" r="2.7" fill="#FFA500" fill-opacity="0.5"/><circle cx="467.8" cy="222.2" r="2.7" fill="#FFA500" fill-opacity="0.5"/><circle cx="466.2" cy="224.5" r="2.7" fill="#FFA500" fill-opacity="0.5"/><circle cx="469.0" cy="238.3" r="2.7" fill="#FFA500" fill-opacity="0.5"/><circle cx="471.6" cy="196.8" r="2.7" fill="#FFA500" fill-opacity="0.5"/><circle cx="473.8" cy="208.4" r="2.7" fill="#FFA500" fill-opacity="0.5"/><circle cx="474.3" cy="232.1" r="2.7" fill="#FFA500" fill-opacity="0.5"/><circle cx="461.7" cy="222.7" r="2.7" fill="#FFA500" fill-opacity="0.5"/><circle cx="467.6" cy="238.8" r="2.7" fill="#FFA500" fill-opacity="0.5"/><circle cx="471.7" cy="220.0" r="2.7" fill="#FFA500" fill-opacity="0.5"/><circle cx="469.4" cy="191.5" r="2.7" fill="#FFA500" fill-opacity="0.5"/><circle cx="455.6" cy="225.2" r="2.7" fill="#FFA500" fill-opacity="0.5"/><circle cx="471.5" cy="217.4" r="2.7" fill="#FFA500" fill-opacity="0.5"/><circle cx="474.2" cy="232.0" r="2.7" fill="#FFA500" fill-opacity="0.5"/><circle cx="466.8" cy="213.4" r="2.7" fill="#FFA500" fill-opacity="0.5"/><circle cx="468.2" cy="205.9" r="2.7" fill="#FFA500" fill-opacity="0.5"/><circle cx="471.9" cy="204.2" r="2.7" fill="#FFA500" fill-opacity="0.5"/><circle cx="470.9" cy="229.8" r="2.7" fill="#FFA500" fill-opacity="0.5"/><circle cx="464.6" cy="197.3" r="2.7" fill="#FFA500" fill-opacity="0.5"/><circle cx="474.5" cy="232.9" r="2.7" fill="#FFA500" fill-opacity="0.5"/><circle cx="466.2" cy="234.1" r="2.7" fill="#FFA500" fill-opacity="0.5"/><circle cx="472.2" cy="196.9" r="2.7" fill="#FFA500" fill-opacity="0.5"/><circle cx="465.6" cy="237.8" r="2.7" fill="#FFA500" fill-opacity="0.5"/><circle cx="468.4" cy="211.1" r="2.7" fill="#FFA500" fill-opacity="0.5"/><circle cx="470.4" cy="227.7" r="2.7" fill="#FFA500" fill-opacity="0.5"/><circle cx="466.6" cy="199.1" r="2.7" fill="#FFA500" fill-opacity="0.5"/><circle cx="471.1" cy="191.9" r="2.7" fill="#FFA500" fill-opacity="0.5"/><circle cx="474.9" cy="202.7" r="2.7" fill="#FFA500" fill-opacity="0.5"/><circle cx="461.9" cy="211.4" r="2.7" fill="#FFA500" fill-opacity="0.5"/><circle cx="470.3" cy="231.7" r="2.7" fill="#FFA500" fill-opacity="0.5"/><circle cx="475.2" cy="219.5" r="2.7" fill="#FFA500" fill-opacity="0.5"/><circle cx="475.1" cy="236.8" r="2.7" fill="#FFA500" fill-opacity="0.5"/><circle cx="464.5" cy="222.3" r="2.7" fill="#FFA500" fill-opacity="0.5"/><circle cx="472.9" cy="225.3" r="2.7" fill="#FFA500" fill-opacity="0.5"/><circle cx="475.5" cy="197.9" r="2.7" fill="#FFA500" fill-opacity="0.5"/><circle cx="465.8" cy="202.8" r="2.7" fill="#FFA500" fill-opacity="0.5"/><circle cx="462.1" cy="189.0" r="2.7" fill="#FFA500" fill-opacity="0.5"/><circle cx="459.6" cy="189.8" r="2.7" fill="#FFA500" fill-opacity="0.5"/><circle cx="474.6" cy="229.5" r="2.7" fill="#FFA500" fill-opacity="0.5"/><circle cx="465.4" cy="194.3" r="2.7" fill="#FFA500" fill-opacity="0.5"/><circle cx="472.6" cy="193.9" r="2.7" fill="#FFA500" fill-opacity="0.5"/><circle cx="471.7" cy="209.9" r="2.7" fill="#FFA500" fill-opacity="0.5"/><circle cx="466.1" cy="220.4" r="2.7" fill="#FFA500" fill-opacity="0.5"/><circle cx="468.7" cy="203.8" r="2.7" fill="#FFA500" fill-opacity="0.5"/><circle cx="467.3" cy="238.1" r="2.7" fill="#FFA500" fill-opacity="0.5"/><circle cx="472.5" cy="225.2" r="2.7" fill="#FFA500" fill-opacity="0.5"/><circle cx="465.9" cy="191.7" r="2.7" fill="#FFA500" fill-opacity="0.5"/><circle cx="472.6" cy="224.4" r="2.7" fill="#FFA500" fill-opacity="0.5"/><circle cx="472.9" cy="233.3" r="2.7" fill="#FFA500" fill-opacity="0.5"/><circle cx="459.7" cy="218.7" r="2.7" fill="#FFA500" fill-opacity="0.5"/><circle cx="461.7" cy="204.0" r="2.7" fill="#FFA500" fill-opacity="0.5"/><circle cx="467.2" cy="202.4" r="2.7" fill="#FFA500" fill-opacity="0.5"/><circle cx="606.6" cy="38.2" r="2.7" fill="#FFA500" fill-opacity="0.5"/><circle cx="578.5" cy="50.0" r="2.7" fill="#FFA500" fill-opacity="0.5"/><circle cx="606.2" cy="50.9" r="2.7" fill="#FFA500" fill-opacity="0.5"/><circle cx="603.2" cy="55.7" r="2.7" fill="#FFA500" fill-opacity="0.5"/><circle cx="557.4" cy="64.7" r="2.7" fill="#FFA500" fill-opacity="0.5"/><circle cx="563.2" cy="66.5" r="2.7" fill="#FFA500" fill-opacity="0.5"/><circle cx="568.0" cy="64.7" r="2.7" fill="#FFA500" fill-opacity="0.5"/><circle cx="574.4" cy="66.5" r="2.7" fill="#FFA500" fill-opacity="0.5"/><circle cx="567.4" cy="70.8" r="2.7" fill="#FFA500" fill-opacity="0.5"/><circle cx="559.7" cy="72.4" r="2.7" fill="#FFA500" fill-opacity="0.5"/><circle cx="582.0" cy="74.1" r="2.7" fill="#FFA500" fill-opacity="0.5"/><circle cx="585.6" cy="71.2" r="2.7" fill="#FFA500" fill-opacity="0.5"/><circle cx="589.0" cy="72.4" r="2.7" fill="#FFA500" fill-opacity="0.5"/><circle cx="593.2" cy="71.2" r="2.7" fill="#FFA500" fill-opacity="0.5"/><circle cx="595.1" cy="75.0" r="2.7" fill="#FFA500" fill-opacity="0.5"/><circle cx="599.5" cy="72.0" r="2.7" fill="#FFA500" fill-opacity="0.5"/><circle cx="603.2" cy="70.5" r="2.7" fill="#FFA500" fill-opacity="0.5"/><circle cx="633.6" cy="70.8" r="2.7" fill="#FFA500" fill-opacity="0.5"/><circle cx="621.8" cy="77.2" r="2.7" fill="#FFA500" fill-opacity="0.5"/><circle cx="589.1" cy="77.4" r="2.7" fill="#FFA500" fill-opacity="0.5"/><circle cx="581.7" cy="78.2" r="2.7" fill="#FFA500" fill-opacity="0.5"/><circle cx="589.9" cy="81.9" r="2.7" fill="#FFA500" fill-opacity="0.5"/><circle cx="578.7" cy="84.1" r="2.7" fill="#FFA500" fill-opacity="0.5"/><circle cx="583.2" cy="84.8" r="2.7" fill="#FFA500" fill-opacity="0.5"/><circle cx="586.9" cy="87.5" r="2.7" fill="#FFA500" fill-opacity="0.5"/><circle cx="581.7" cy="88.5" r="2.7" fill="#FFA500" fill-opacity="0.5"/><circle cx="577.3" cy="90.8" r="2.7" fill="#FFA500" fill-opacity="0.5"/><circle cx="566.9" cy="90.8" r="2.7" fill="#FFA500" fill-opacity="0.5"/><circle cx="560.9" cy="86.3" r="2.7" fill="#FFA500" fill-opacity="0.5"/><circle cx="601.0" cy="90.5" r="2.7" fill="#FFA500" fill-opacity="0.5"/><circle cx="606.2" cy="90.5" r="2.7" fill="#FFA500" fill-opacity="0.5"/><circle cx="639.9" cy="90.5" r="2.7" fill="#FFA500" fill-opacity="0.5"/><circle cx="624.7" cy="97.2" r="2.7" fill="#FFA500" fill-opacity="0.5"/><circle cx="592.1" cy="96.0" r="2.7" fill="#FFA500" fill-opacity="0.5"/><circle cx="573.5" cy="96.0" r="2.7" fill="#FFA500" fill-opacity="0.5"/><circle cx="560.9" cy="96.0" r="2.7" fill="#FFA500" fill-opacity="0.5"/><circle cx="562.4" cy="98.9" r="2.7" fill="#FFA500" fill-opacity="0.5"/><circle cx="568.4" cy="100.4" r="2.7" fill="#FFA500" fill-opacity="0.5"/><circle cx="583.2" cy="100.4" r="2.7" fill="#FFA500" fill-opacity="0.5"/><circle cx="592.1" cy="110.8" r="2.7" fill="#FFA500" fill-opacity="0.5"/><circle cx="586.2" cy="114.5" r="2.7" fill="#FFA500" fill-opacity="0.5"/><circle cx="595.1" cy="113.0" r="2.7" fill="#FFA500" fill-opacity="0.5"/><circle cx="581.0" cy="111.5" r="2.7" fill="#FFA500" fill-opacity="0.5"/><circle cx="626.2" cy="118.7" r="2.7" fill="#FFA500" fill-opacity="0.5"/><circle cx="577.3" cy="119.0" r="2.7" fill="#FFA500" fill-opacity="0.5"/><circle cx="569.8" cy="117.5" r="2.7" fill="#FFA500" fill-opacity="0.5"/><circle cx="560.9" cy="117.5" r="2.7" fill="#FFA500" fill-opacity="0.5"/><circle cx="590.6" cy="119.0" r="2.7" fill="#FFA500" fill-opacity="0.5"/><circle cx="595.1" cy="118.2" r="2.7" fill="#FFA500" fill-opacity="0.5"/><circle cx="579.7" cy="99.2" r="2.7" fill="#FFA500" fill-opacity="0.5"/><circle cx="583.2" cy="119.4" r="2.7" fill="#FFA500" fill-opacity="0.5"/><circle cx="563.9" cy="119.4" r="2.7" fill="#FFA500" fill-opacity="0.5"/><circle cx="572.8" cy="126.1" r="2.7" fill="#FFA500" fill-opacity="0.5"/><circle cx="567.6" cy="127.6" r="2.7" fill="#FFA500" fill-opacity="0.5"/><circle cx="583.2" cy="135.7" r="2.7" fill="#FFA500" fill-opacity="0.5"/><circle cx="586.9" cy="135.0" r="2.7" fill="#FFA500" fill-opacity="0.5"/><circle cx="593.9" cy="135.0" r="2.7" fill="#FFA500" fill-opacity="0.5"/><circle cx="574.3" cy="138.7" r="2.7" fill="#FFA500" fill-opacity="0.5"/><circle cx="597.3" cy="139.9" r="2.7" fill="#FFA500" fill-opacity="0.5"/><circle cx="601.7" cy="141.7" r="2.7" fill="#FFA500" fill-opacity="0.5"/><circle cx="566.1" cy="140.2" r="2.7" fill="#FFA500" fill-opacity="0.5"/><circle cx="561.7" cy="140.2" r="2.7" fill="#FFA500" fill-opacity="0.5"/><circle cx="563.9" cy="146.1" r="2.7" fill="#FFA500" fill-opacity="0.5"/><circle cx="572.8" cy="146.1" r="2.7" fill="#FFA500" fill-opacity="0.5"/><circle cx="589.9" cy="148.4" r="2.7" fill="#FFA500" fill-opacity="0.5"/><circle cx="596.8" cy="149.1" r="2.7" fill="#FFA500" fill-opacity="0.5"/><circle cx="595.1" cy="152.8" r="2.7" fill="#FFA500" fill-opacity="0.5"/><circle cx="615.1" cy="158.0" r="2.7" fill="#FFA500" fill-opacity="0.5"/><circle cx="560.9" cy="161.0" r="2.7" fill="#FFA500" fill-opacity="0.5"/><circle cx="578.7" cy="161.0" r="2.7" fill="#FFA500" fill-opacity="0.5"/><circle cx="586.2" cy="163.2" r="2.7" fill="#FFA500" fill-opacity="0.5"/><circle cx="580.2" cy="168.7" r="2.7" fill="#FFA500" fill-opacity="0.5"/><circle cx="568.4" cy="168.4" r="2.7" fill="#FFA500" fill-opacity="0.5"/><circle cx="563.9" cy="162.5" r="2.7" fill="#FFA500" fill-opacity="0.5"/><circle cx="578.7" cy="176.5" r="2.7" fill="#FFA500" fill-opacity="0.5"/><circle cx="592.1" cy="191.8" r="2.7" fill="#FFA500" fill-opacity="0.5"/><circle cx="577.3" cy="198.8" r="2.7" fill="#FFA500" fill-opacity="0.5"/><circle cx="571.3" cy="186.9" r="2.7" fill="#FFA500" fill-opacity="0.5"/><circle cx="560.9" cy="189.2" r="2.7" fill="#FFA500" fill-opacity="0.5"/><circle cx="580.6" cy="220.8" r="2.7" fill="#FFA500" fill-opacity="0.5"/><circle cx="589.5" cy="221.5" r="2.7" fill="#FFA500" fill-opacity="0.5"/><circle cx="606.6" cy="215.3" r="2.7" fill="#FFA500" fill-opacity="0.5"/><circle cx="567.3" cy="225.2" r="2.7" fill="#FFA500" fill-opacity="0.5"/><circle cx="562.8" cy="222.3" r="2.7" fill="#FFA500" fill-opacity="0.5"/><circle cx="566.5" cy="238.9" r="2.7" fill="#FFA500" fill-opacity="0.5"/><circle cx="560.6" cy="237.8" r="2.7" fill="#FFA500" fill-opacity="0.5"/><circle cx="563.9" cy="234.7" r="2.7" fill="#FFA500" fill-opacity="0.5"/><circle cx="568.5" cy="122.4" r="2.7" fill="#FFA500" fill-opacity="0.5"/><circle cx="560.1" cy="124.1" r="2.7" fill="#FFA500" fill-opacity="0.5"/><circle cx="567.9" cy="133.6" r="2.7" fill="#FFA500" fill-opacity="0.5"/><circle cx="565.7" cy="137.0" r="2.7" fill="#FFA500" fill-opacity="0.5"/><circle cx="578.0" cy="138.1" r="2.7" fill="#FFA500" fill-opacity="0.5"/><circle cx="556.7" cy="115.7" r="2.7" fill="#FFA500" fill-opacity="0.5"/><circle cx="559.0" cy="105.0" r="2.7" fill="#FFA500" fill-opacity="0.5"/><circle cx="559.0" cy="110.0" r="2.7" fill="#FFA500" fill-opacity="0.5"/><circle cx="559.0" cy="128.0" r="2.7" fill="#FFA500" fill-opacity="0.5"/><circle cx="559.0" cy="133.0" r="2.7" fill="#FFA500" fill-opacity="0.5"/><circle cx="560.0" cy="150.0" r="2.7" fill="#FFA500" fill-opacity="0.5"/><circle cx="559.0" cy="155.0" r="2.7" fill="#FFA500" fill-opacity="0.5"/><circle cx="560.0" cy="166.0" r="2.7" fill="#FFA500" fill-opacity="0.5"/><circle cx="559.0" cy="172.0" r="2.7" fill="#FFA500" fill-opacity="0.5"/><circle cx="562.0" cy="178.0" r="2.7" fill="#FFA500" fill-opacity="0.5"/><circle cx="566.0" cy="176.0" r="2.7" fill="#FFA500" fill-opacity="0.5"/><circle cx="570.0" cy="178.0" r="2.7" fill="#FFA500" fill-opacity="0.5"/><circle cx="574.0" cy="180.0" r="2.7" fill="#FFA500" fill-opacity="0.5"/><circle cx="468.7" cy="111.1" r="2.7" fill="#FFA500" fill-opacity="0.5"/><circle cx="464.5" cy="125.2" r="2.7" fill="#FFA500" fill-opacity="0.5"/><circle cx="470.8" cy="144.5" r="2.7" fill="#FFA500" fill-opacity="0.5"/><circle cx="462.3" cy="158.1" r="2.7" fill="#FFA500" fill-opacity="0.5"/><circle cx="472.7" cy="156.1" r="2.7" fill="#FFA500" fill-opacity="0.5"/><circle cx="472.0" cy="164.0" r="2.7" fill="#FFA500" fill-opacity="0.5"/><circle cx="460.1" cy="170.5" r="2.7" fill="#FFA500" fill-opacity="0.5"/><circle cx="463.8" cy="172.4" r="2.7" fill="#FFA500" fill-opacity="0.5"/><circle cx="472.7" cy="171.0" r="2.7" fill="#FFA500" fill-opacity="0.5"/><circle cx="439.8" cy="176.9" r="2.7" fill="#FFA500" fill-opacity="0.5"/><circle cx="469.7" cy="185.1" r="2.7" fill="#FFA500" fill-opacity="0.5"/><circle cx="474.2" cy="185.1" r="2.7" fill="#FFA500" fill-opacity="0.5"/><circle cx="452.7" cy="188.0" r="2.7" fill="#FFA500" fill-opacity="0.5"/><circle cx="434.1" cy="210.0" r="2.7" fill="#FFA500" fill-opacity="0.5"/><circle cx="438.9" cy="211.7" r="2.7" fill="#FFA500" fill-opacity="0.5"/><circle cx="444.5" cy="216.2" r="2.7" fill="#FFA500" fill-opacity="0.5"/><circle cx="452.7" cy="202.1" r="2.7" fill="#FFA500" fill-opacity="0.5"/><circle cx="457.1" cy="202.1" r="2.7" fill="#FFA500" fill-opacity="0.5"/><circle cx="451.2" cy="223.6" r="2.7" fill="#FFA500" fill-opacity="0.5"/><circle cx="454.9" cy="222.1" r="2.7" fill="#FFA500" fill-opacity="0.5"/><circle cx="474.0" cy="150.0" r="2.7" fill="#FFA500" fill-opacity="0.5"/><circle cx="474.0" cy="160.0" r="2.7" fill="#FFA500" fill-opacity="0.5"/><circle cx="474.0" cy="178.0" r="2.7" fill="#FFA500" fill-opacity="0.5"/><circle cx="470.0" cy="180.0" r="2.7" fill="#FFA500" fill-opacity="0.5"/>

<line x1="476.5" y1="26.5" x2="476.5" y2="296" stroke="#555" stroke-width="0.9" stroke-dasharray="3 1.6"/>
<line x1="556.3" y1="26.5" x2="556.3" y2="296" stroke="#555" stroke-width="0.9" stroke-dasharray="3 1.6"/>
<line x1="380.6" y1="239.4" x2="652.4" y2="239.4" stroke="#555" stroke-width="0.9" stroke-dasharray="3 1.6"/>

<path d="M556.20,65.60 L554.80,63.20 L557.60,63.20 Z" fill="#111"/><path d="M569.10,63.90 L567.70,61.50 L570.50,61.50 Z" fill="#111"/><path d="M557.60,72.30 L559.00,74.70 L556.20,74.70 Z" fill="#111"/><path d="M607.70,90.10 L606.30,87.70 L609.10,87.70 Z" fill="#111"/><path d="M573.50,100.90 L574.90,103.30 L572.10,103.30 Z" fill="#111"/><path d="M593.30,95.90 L594.70,98.30 L591.90,98.30 Z" fill="#111"/><path d="M559.50,140.00 L558.10,137.60 L560.90,137.60 Z" fill="#111"/><path d="M587.30,135.30 L585.90,132.90 L588.70,132.90 Z" fill="#111"/><path d="M561.10,143.20 L558.70,144.60 L558.70,141.80 Z" fill="#111"/><path d="M571.30,146.30 L572.70,148.70 L569.90,148.70 Z" fill="#111"/><path d="M561.70,158.20 L559.30,159.60 L559.30,156.80 Z" fill="#111"/><path d="M560.60,168.90 L562.00,171.30 L559.20,171.30 Z" fill="#111"/><path d="M593.60,191.50 L592.20,189.10 L595.00,189.10 Z" fill="#111"/><path d="M576.50,204.30 L577.90,206.70 L575.10,206.70 Z" fill="#111"/><path d="M475.00,186.80 L473.60,184.40 L476.40,184.40 Z" fill="#111"/><path d="M469.50,190.20 L467.10,191.60 L467.10,188.80 Z" fill="#111"/><path d="M474.90,190.60 L476.30,193.00 L473.50,193.00 Z" fill="#111"/><path d="M468.20,207.00 L469.60,209.40 L466.80,209.40 Z" fill="#111"/><rect x="525.4" y="51.4" width="34.3" height="10.0" rx="1.5" fill="#fff" stroke="#8a8a8a" stroke-width="0.8"/><text x="542.5" y="59.8" text-anchor="middle" class="lbl">HYOU1</text><rect x="563.8" y="51.0" width="37.5" height="10.3" rx="1.5" fill="#fff" stroke="#8a8a8a" stroke-width="0.8"/><text x="582.5" y="59.5" text-anchor="middle" class="lbl">FKBP11</text><rect x="528.9" y="75.4" width="44.9" height="10.5" rx="1.5" fill="#fff" stroke="#8a8a8a" stroke-width="0.8"/><text x="551.3" y="84.1" text-anchor="middle" class="lbl">TXNDC11</text><rect x="597.5" y="77.5" width="34.7" height="10.0" rx="1.5" fill="#fff" stroke="#8a8a8a" stroke-width="0.8"/><text x="614.9" y="85.9" text-anchor="middle" class="lbl">CDCA2</text><rect x="553.9" y="103.9" width="26.6" height="10.1" rx="1.5" fill="#fff" stroke="#8a8a8a" stroke-width="0.8"/><text x="567.2" y="112.4" text-anchor="middle" class="lbl">CAV1</text><rect x="584.5" y="98.9" width="31.3" height="9.9" rx="1.5" fill="#fff" stroke="#8a8a8a" stroke-width="0.8"/><text x="600.1" y="107.2" text-anchor="middle" class="lbl">GINS4</text><rect x="540.4" y="127.4" width="24.5" height="9.9" rx="1.5" fill="#fff" stroke="#8a8a8a" stroke-width="0.8"/><text x="552.6" y="135.8" text-anchor="middle" class="lbl">ELL2</text><rect x="576.8" y="122.5" width="35.3" height="10.1" rx="1.5" fill="#fff" stroke="#8a8a8a" stroke-width="0.8"/><text x="594.5" y="130.9" text-anchor="middle" class="lbl">CADM1</text><rect x="524.6" y="141.5" width="33.6" height="10.4" rx="1.5" fill="#fff" stroke="#8a8a8a" stroke-width="0.8"/><text x="541.4" y="150.1" text-anchor="middle" class="lbl">PRR11</text><rect x="564.6" y="149.4" width="27.8" height="9.8" rx="1.5" fill="#fff" stroke="#8a8a8a" stroke-width="0.8"/><text x="578.5" y="157.7" text-anchor="middle" class="lbl">UAP1</text><rect x="531.0" y="156.6" width="28.2" height="10.1" rx="1.5" fill="#fff" stroke="#8a8a8a" stroke-width="0.8"/><text x="545.1" y="165.0" text-anchor="middle" class="lbl">GAS6</text><rect x="546.3" y="171.6" width="29.2" height="10.1" rx="1.5" fill="#fff" stroke="#8a8a8a" stroke-width="0.8"/><text x="560.9" y="180.0" text-anchor="middle" class="lbl">GALM</text><rect x="579.7" y="178.3" width="40.9" height="10.9" rx="1.5" fill="#fff" stroke="#8a8a8a" stroke-width="0.8"/><text x="600.2" y="187.2" text-anchor="middle" class="lbl">PTGDR2</text><rect x="553.6" y="206.7" width="31.8" height="10.8" rx="1.5" fill="#fff" stroke="#8a8a8a" stroke-width="0.8"/><text x="569.5" y="215.5" text-anchor="middle" class="lbl">CCL23</text><rect x="442.7" y="173.9" width="38.2" height="10.4" rx="1.5" fill="#fff" stroke="#8a8a8a" stroke-width="0.8"/><text x="461.8" y="182.5" text-anchor="middle" class="lbl">GPR107</text><rect x="425.5" y="188.3" width="41.3" height="9.8" rx="1.5" fill="#fff" stroke="#8a8a8a" stroke-width="0.8"/><text x="446.1" y="196.6" text-anchor="middle" class="lbl">MAPRE3</text><rect x="470.9" y="193.9" width="24.9" height="9.4" rx="1.5" fill="#fff" stroke="#8a8a8a" stroke-width="0.8"/><text x="483.4" y="202.0" text-anchor="middle" class="lbl">DIO3</text><rect x="446.7" y="210.3" width="30.5" height="9.6" rx="1.5" fill="#fff" stroke="#8a8a8a" stroke-width="0.8"/><text x="461.9" y="218.5" text-anchor="middle" class="lbl">DNAI7</text>
<rect x="380.6" y="26.1" width="271.8" height="270.2" fill="none" stroke="#1a1a1a" stroke-width="1.2"/>
<line x1="377.2" y1="284.2" x2="380.6" y2="284.2" stroke="#333" stroke-width="1.1"/><text x="375.5" y="287.7" text-anchor="end" class="tk9">0</text><line x1="377.2" y1="215.1" x2="380.6" y2="215.1" stroke="#333" stroke-width="1.1"/><text x="375.5" y="218.6" text-anchor="end" class="tk9">2</text><line x1="377.2" y1="145.95" x2="380.6" y2="145.95" stroke="#333" stroke-width="1.1"/><text x="375.5" y="149.4" text-anchor="end" class="tk9">4</text><line x1="377.2" y1="76.8" x2="380.6" y2="76.8" stroke="#333" stroke-width="1.1"/><text x="375.5" y="80.3" text-anchor="end" class="tk9">6</text><line x1="437.0" y1="296.3" x2="437.0" y2="299.6" stroke="#333" stroke-width="1.1"/><text x="437.0" y="309.6" text-anchor="middle" class="tk9">−2</text><line x1="516.4" y1="296.3" x2="516.4" y2="299.6" stroke="#333" stroke-width="1.1"/><text x="516.4" y="309.6" text-anchor="middle" class="tk9">0</text><line x1="595.8" y1="296.3" x2="595.8" y2="299.6" stroke="#333" stroke-width="1.1"/><text x="595.8" y="309.6" text-anchor="middle" class="tk9">2</text>

<circle cx="48.3" cy="349.4" r="4.2" fill="#17BECF" fill-opacity="0.72"/>
<text x="57.8" y="353.8" class="lg" font-style="italic">M. pneumoniae</text>
<circle cx="138.5" cy="350.4" r="4.3" fill="#BCBD22" fill-opacity="0.72"/>
<text x="146.1" y="354.1" class="lg">Viral</text>
<circle cx="179.5" cy="351.1" r="4.3" fill="#9467BD" fill-opacity="0.72"/>
<text x="189.9" y="354.3" class="lg">Co-infection</text>
<circle cx="254" cy="351.7" r="4.4" fill="#B22222" fill-opacity="0.72"/>
<text x="264.7" y="356.0" class="lg">Bacterial</text>

<circle cx="342.7" cy="351.9" r="5" fill="#d9d9d9"/>
<text x="352.2" y="355.5" class="lg">NS</text>
<circle cx="379.5" cy="350.9" r="5" fill="#d3e9f0"/>
<text x="391.6" y="354.4" class="lg">Log<tspan font-size="7" dy="2">2</tspan><tspan dy="-2"> FC</tspan></text>
<circle cx="441.1" cy="350.6" r="5" fill="#79aee4"/>
<text x="453.7" y="354.5" class="lg">Adjusted <tspan font-style="italic">P</tspan>-value</text>
<circle cx="544.8" cy="350.3" r="5" fill="#fdcf7e"/>
<text x="556.9" y="353.8" class="lg">Adjusted <tspan font-style="italic">P</tspan>-value &amp; Log<tspan font-size="7" dy="2">2</tspan><tspan dy="-2"> FC</tspan></text>

</svg>
</body></html>
